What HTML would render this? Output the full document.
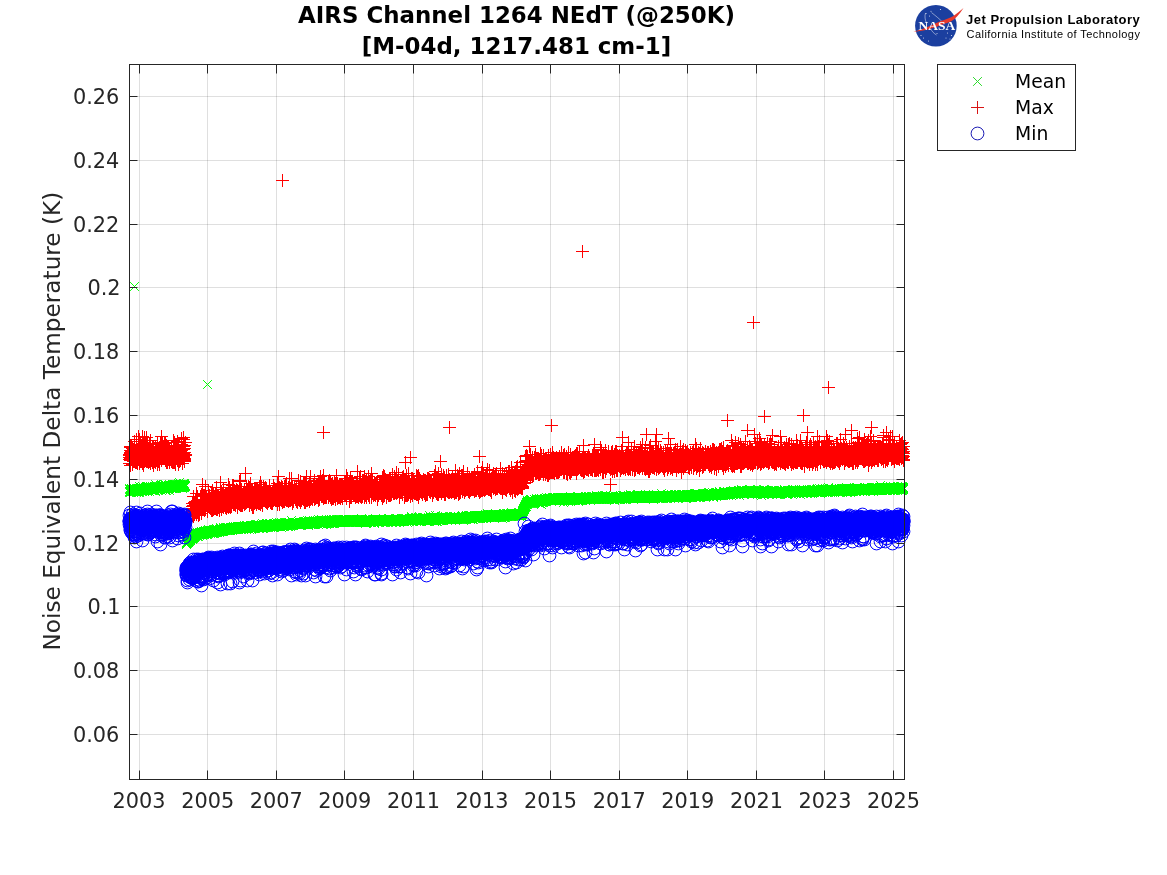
<!DOCTYPE html>
<html lang="en"><head><meta charset="utf-8"><title>AIRS Channel 1264 NEdT</title>
<style>html,body{margin:0;padding:0;background:#fff}svg{display:block}</style></head>
<body>
<svg width="1167" height="875" viewBox="0 0 1167 875">
<defs>
<marker id="mx" markerUnits="userSpaceOnUse" markerWidth="12" markerHeight="12" refX="6" refY="6" viewBox="0 0 12 12" overflow="visible"><path d="M1.6 1.6L10.4 10.4M10.4 1.6L1.6 10.4" stroke="#00ff00" stroke-width="1" fill="none"/></marker>
<marker id="mp" markerUnits="userSpaceOnUse" markerWidth="14" markerHeight="14" refX="7" refY="7" viewBox="0 0 14 14" overflow="visible"><path d="M0.5 7H13.5M7 0.5V13.5" stroke="#ff0000" stroke-width="1" fill="none"/></marker>
<marker id="mo" markerUnits="userSpaceOnUse" markerWidth="16" markerHeight="16" refX="8" refY="8" viewBox="0 0 16 16" overflow="visible"><circle cx="8" cy="8" r="6.4" stroke="#0000ff" stroke-width="1" fill="none"/></marker>
</defs>
<rect width="1167" height="875" fill="#fff"/>
<path d="M139.5 64.5V779.5M207.5 64.5V779.5M276.5 64.5V779.5M344.5 64.5V779.5M413.5 64.5V779.5M482.5 64.5V779.5M550.5 64.5V779.5M619.5 64.5V779.5M687.5 64.5V779.5M756.5 64.5V779.5M824.5 64.5V779.5M893.5 64.5V779.5M129.5 734.5H904.5M129.5 670.5H904.5M129.5 606.5H904.5M129.5 543.5H904.5M129.5 479.5H904.5M129.5 415.5H904.5M129.5 351.5H904.5M129.5 287.5H904.5M129.5 224.5H904.5M129.5 160.5H904.5M129.5 96.5H904.5" stroke="#262626" stroke-opacity="0.15" stroke-width="1" fill="none"/>
<g transform="translate(0.5,0.5)" fill="none" stroke="none">
<polyline marker-start="url(#mx)" marker-mid="url(#mx)" marker-end="url(#mx)" points="129,491 129,492 129,491 129,489 129,488 130,490 130,491 130,490 130,492 130,491 130,491 130,489 130,489 130,491 130,490 131,491 131,488 131,489 131,488 131,489 131,491 131,488 131,489 131,490 131,489 131,489 132,489 132,490 132,489 132,490 132,490 132,490 132,490 132,491 132,489 132,491 133,489 133,489 133,491 133,489 133,489 133,488 133,487 133,490 133,488 133,490 133,492 134,489 134,488 134,490 134,490 134,489 134,490 134,491 134,491 134,490 134,489 134,489 135,490 135,489 135,489 135,489 135,489 135,489 135,489 135,491 135,489 135,490 136,490 136,490 136,488 136,489 136,492 136,489 136,490 136,490 136,490 136,489 136,489 137,489 137,489 137,490 137,489 137,490 137,489 137,491 137,489 137,489 137,490 138,489 138,490 138,488 138,489 138,490 138,488 138,488 138,490 138,492 138,490 138,489 139,488 139,490 139,486 139,489 139,489 139,489 139,492 139,486 139,489 139,489 140,490 140,487 140,489 140,487 140,489 140,489 140,489 140,489 140,489 140,489 140,489 141,489 141,487 141,488 141,489 141,488 141,488 141,489 141,489 141,490 141,489 141,488 142,489 142,486 142,488 142,489 142,486 142,488 142,489 142,490 142,489 142,491 143,490 143,487 143,489 143,489 143,489 143,488 143,489 143,490 143,487 143,490 143,488 144,490 144,489 144,489 144,491 144,490 144,489 144,489 144,491 144,490 144,490 145,489 145,489 145,489 145,487 145,490 145,489 145,487 145,488 145,488 145,489 145,490 146,489 146,486 146,489 146,488 146,487 146,486 146,487 146,489 146,488 146,489 147,488 147,489 147,489 147,489 147,487 147,491 147,486 147,488 147,487 147,490 147,487 148,487 148,487 148,487 148,488 148,488 148,487 148,486 148,488 148,488 148,489 148,487 149,488 149,489 149,487 149,488 149,488 149,487 149,488 149,489 149,491 149,487 150,489 150,489 150,489 150,488 150,488 150,487 150,489 150,489 150,488 150,488 150,489 151,489 151,487 151,490 151,489 151,488 151,488 151,489 151,489 151,487 151,487 152,486 152,488 152,488 152,488 152,487 152,489 152,490 152,490 152,488 152,488 152,488 153,488 153,487 153,487 153,489 153,488 153,487 153,488 153,490 153,489 153,489 153,488 154,486 154,488 154,487 154,488 154,489 154,487 154,489 154,488 154,488 154,487 155,488 155,488 155,487 155,487 155,487 155,490 155,487 155,488 155,488 155,484 155,491 156,488 156,487 156,489 156,489 156,487 156,487 156,487 156,488 156,488 156,488 157,487 157,487 157,488 157,487 157,488 157,488 157,488 157,488 157,487 157,486 157,489 158,489 158,487 158,488 158,488 158,487 158,487 158,486 158,487 158,487 158,488 159,487 159,488 159,487 159,487 159,487 159,487 159,486 159,487 159,487 159,487 159,488 160,488 160,487 160,487 160,488 160,485 160,488 160,489 160,488 160,485 160,487 160,485 161,488 161,485 161,486 161,488 161,486 161,484 161,486 161,488 161,486 161,486 162,487 162,487 162,488 162,488 162,487 162,486 162,488 162,486 162,486 162,488 162,486 163,485 163,488 163,488 163,486 163,487 163,486 163,487 163,486 163,485 163,487 164,487 164,487 164,488 164,488 164,487 164,484 164,486 164,487 164,488 164,486 164,486 165,489 165,484 165,486 165,486 165,486 165,486 165,487 165,488 165,490 165,489 166,487 166,487 166,488 166,490 166,487 166,487 166,487 166,488 166,485 166,487 166,485 167,487 167,488 167,486 167,486 167,488 167,487 167,487 167,486 167,486 167,486 167,489 168,486 168,487 168,488 168,487 168,487 168,489 168,488 168,486 168,487 168,486 169,486 169,488 169,487 169,486 169,486 169,487 169,486 169,488 169,487 169,486 169,490 170,487 170,486 170,485 170,485 170,485 170,486 170,486 170,487 170,485 170,486 171,486 171,488 171,486 171,487 171,488 171,487 171,486 171,486 171,486 171,486 171,486 172,486 172,488 172,485 172,484 172,487 172,488 172,486 172,487 172,488 172,486 173,486 173,485 173,485 173,486 173,487 173,488 173,487 173,485 173,485 173,486 173,486 174,487 174,484 174,485 174,488 174,487 174,486 174,484 174,487 174,487 174,484 174,485 175,487 175,485 175,487 175,485 175,487 175,487 175,488 175,484 175,484 175,486 176,488 176,486 176,484 176,487 176,486 176,487 176,485 176,487 176,487 176,485 176,486 177,486 177,486 177,485 177,487 177,485 177,486 177,486 177,486 177,486 177,484 178,483 178,486 178,486 178,487 178,485 178,486 178,484 178,486 178,487 178,485 178,486 179,487 179,487 179,487 179,487 179,482 179,484 179,486 179,484 179,487 179,485 180,484 180,487 180,485 180,484 180,486 180,485 180,484 180,484 180,484 180,487 180,487 181,485 181,485 181,486 181,485 181,486 181,486 181,485 181,485 181,486 181,485 181,484 182,486 182,487 182,485 182,486 182,485 182,486 182,485 182,488 182,486 182,485 183,486 183,485 183,487 183,484 183,484 183,486 183,485 183,485 183,483 183,485 183,485 184,486 184,484 184,486 184,485 184,484 184,487 184,487 184,485 184,485 184,483 185,486 185,485 185,486 185,485 186,544 186,544 186,544 186,543 186,542 186,542 186,543 186,542 186,543 187,541 187,543 187,542 187,542 187,541 187,541 187,541 187,542 187,541 187,542 188,542 188,541 188,542 188,541 188,540 188,542 188,541 188,539 188,540 188,542 188,541 189,541 189,538 189,539 189,539 189,539 189,539 189,540 189,538 189,539 189,538 190,537 190,539 190,539 190,538 190,540 190,538 190,539 190,536 190,538 190,540 190,537 191,538 191,538 191,537 191,538 191,537 191,537 191,537 191,537 191,537 191,535 192,537 192,538 192,538 192,538 192,537 192,538 192,538 192,536 192,537 192,539 192,536 193,535 193,538 193,537 193,535 193,535 193,537 193,535 193,535 193,535 193,536 194,536 194,534 194,537 194,535 194,535 194,537 194,535 194,535 194,535 194,536 195,535 195,533 195,534 195,534 195,535 195,533 195,535 195,534 195,534 195,534 195,536 196,534 196,534 196,535 196,534 196,535 196,535 196,533 196,535 196,533 196,534 197,534 197,533 197,535 197,535 197,536 197,533 197,533 197,535 197,532 197,533 197,535 198,533 198,536 198,533 198,533 198,534 198,534 198,533 198,533 198,534 198,533 199,533 199,533 199,533 199,532 199,534 199,533 199,535 199,533 199,532 199,532 199,534 200,534 200,533 200,532 200,533 200,533 200,534 200,533 200,534 200,533 200,534 201,532 201,534 201,533 201,531 201,534 201,532 201,534 201,532 201,533 201,533 201,531 202,532 202,533 202,532 202,532 202,533 202,535 202,532 202,533 202,532 202,534 203,532 203,533 203,534 203,531 203,533 203,532 203,531 203,532 203,532 203,532 203,533 204,532 204,532 204,533 204,534 204,533 204,531 204,534 204,532 204,532 204,531 205,532 205,532 205,531 205,532 205,532 205,531 205,533 205,533 205,531 205,530 206,531 206,533 206,531 206,532 206,533 206,532 206,533 206,532 206,534 206,531 206,531 207,532 207,534 207,533 207,531 207,530 207,532 207,532 207,532 207,531 207,531 208,531 208,532 208,533 208,532 208,531 208,531 208,532 208,532 208,532 208,529 208,530 209,532 209,532 209,532 209,531 209,531 209,532 209,530 209,531 209,532 209,531 210,531 210,531 210,531 210,531 210,530 210,531 210,530 210,531 210,530 210,532 210,533 211,530 211,532 211,531 211,530 211,531 211,531 211,532 211,530 211,530 211,532 212,532 212,530 212,531 212,532 212,533 212,531 212,531 212,530 212,532 212,531 212,530 213,531 213,533 213,532 213,532 213,530 213,530 213,529 213,531 213,530 213,530 214,532 214,529 214,531 214,530 214,531 214,533 214,531 214,530 214,530 214,530 214,530 215,529 215,530 215,532 215,532 215,531 215,530 215,531 215,531 215,531 215,532 216,532 216,530 216,530 216,528 216,530 216,530 216,530 216,530 216,531 216,531 217,529 217,529 217,529 217,531 217,532 217,530 217,531 217,530 217,529 217,530 217,532 218,530 218,530 218,531 218,530 218,531 218,530 218,530 218,531 218,530 218,530 219,531 219,530 219,529 219,530 219,532 219,530 219,529 219,530 219,531 219,530 219,530 220,529 220,529 220,530 220,531 220,530 220,530 220,528 220,529 220,529 220,527 221,529 221,530 221,529 221,529 221,531 221,530 221,531 221,531 221,530 221,530 221,530 222,531 222,530 222,530 222,530 222,530 222,529 222,531 222,530 222,529 222,531 223,528 223,527 223,530 223,529 223,529 223,530 223,530 223,531 223,530 223,529 223,530 224,529 224,529 224,530 224,530 224,528 224,530 224,529 224,530 224,528 224,528 225,529 225,530 225,529 225,529 225,530 225,528 225,527 225,529 225,528 225,529 225,530 226,528 226,528 226,528 226,529 226,528 226,527 226,529 226,530 226,528 226,529 227,528 227,527 227,530 227,529 227,529 227,528 227,527 227,530 227,528 227,530 228,528 228,528 228,529 228,528 228,529 228,529 228,529 228,528 228,530 228,529 228,528 229,529 229,528 229,528 229,529 229,529 229,530 229,528 229,529 229,528 229,530 230,528 230,530 230,527 230,530 230,528 230,528 230,527 230,529 230,529 230,527 230,529 231,528 231,529 231,529 231,527 231,527 231,528 231,529 231,527 231,528 231,529 232,528 232,527 232,528 232,529 232,528 232,529 232,527 232,530 232,528 232,527 232,529 233,528 233,527 233,528 233,526 233,529 233,528 233,528 233,527 233,529 233,528 234,528 234,529 234,527 234,527 234,529 234,529 234,528 234,528 234,528 234,527 234,528 235,529 235,528 235,529 235,527 235,528 235,527 235,528 235,527 235,526 235,527 236,529 236,527 236,527 236,527 236,527 236,528 236,528 236,527 236,527 236,529 236,527 237,527 237,526 237,528 237,528 237,528 237,526 237,526 237,527 237,529 237,527 238,528 238,529 238,529 238,528 238,526 238,528 238,528 238,528 238,527 238,526 239,528 239,528 239,527 239,527 239,528 239,526 239,527 239,527 239,526 239,528 239,527 240,528 240,526 240,527 240,526 240,527 240,526 240,527 240,529 240,526 240,527 241,527 241,528 241,528 241,528 241,526 241,527 241,526 241,526 241,528 241,527 241,526 242,527 242,528 242,526 242,527 242,526 242,526 242,527 242,528 242,526 242,528 243,526 243,529 243,527 243,529 243,526 243,528 243,528 243,526 243,526 243,527 243,526 244,528 244,526 244,527 244,527 244,528 244,528 244,528 244,527 244,527 244,525 245,527 245,526 245,527 245,527 245,526 245,527 245,527 245,526 245,527 245,527 245,527 246,527 246,528 246,528 246,528 246,527 246,529 246,528 246,525 246,527 246,525 247,528 247,528 247,527 247,527 247,527 247,527 247,527 247,525 247,526 247,528 248,527 248,527 248,528 248,526 248,526 248,526 248,528 248,526 248,528 248,527 248,526 249,527 249,526 249,526 249,527 249,527 249,526 249,526 249,529 249,527 249,527 250,526 250,526 250,528 250,525 250,525 250,527 250,526 250,526 250,525 250,527 250,527 251,526 251,526 251,528 251,525 251,527 251,529 251,526 251,527 251,525 251,526 252,528 252,527 252,527 252,527 252,525 252,525 252,526 252,527 252,525 252,527 252,526 253,528 253,526 253,526 253,526 253,526 253,526 253,525 253,527 253,528 253,527 254,528 254,525 254,527 254,527 254,527 254,527 254,526 254,525 254,527 254,526 254,527 255,526 255,526 255,527 255,526 255,526 255,526 255,525 255,524 255,527 255,527 256,527 256,527 256,526 256,524 256,526 256,527 256,526 256,526 256,527 256,526 256,526 257,525 257,526 257,526 257,527 257,527 257,526 257,526 257,527 257,526 257,524 258,528 258,525 258,526 258,526 258,526 258,526 258,526 258,524 258,526 258,525 259,526 259,527 259,526 259,527 259,526 259,528 259,525 259,525 259,526 259,526 259,525 260,527 260,526 260,526 260,525 260,527 260,525 260,525 260,527 260,526 260,526 261,527 261,527 261,525 261,526 261,524 261,525 261,525 261,525 261,525 261,526 261,526 262,523 262,527 262,525 262,526 262,526 262,528 262,528 262,525 262,527 262,526 263,526 263,525 263,525 263,526 263,526 263,528 263,525 263,526 263,526 263,527 263,526 264,526 264,525 264,526 264,525 264,526 264,527 264,526 264,525 264,525 264,526 265,526 265,526 265,525 265,527 265,526 265,525 265,524 265,525 265,524 265,527 265,526 266,526 266,524 266,523 266,525 266,525 266,525 266,525 266,525 266,523 266,526 267,526 267,525 267,523 267,525 267,525 267,526 267,527 267,524 267,524 267,526 267,524 268,526 268,525 268,525 268,524 268,525 268,525 268,526 268,527 268,525 268,526 269,526 269,525 269,525 269,526 269,523 269,526 269,524 269,525 269,525 269,525 270,525 270,525 270,526 270,523 270,527 270,526 270,524 270,526 270,525 270,524 270,525 271,526 271,526 271,524 271,524 271,525 271,526 271,526 271,525 271,526 271,525 272,526 272,524 272,527 272,526 272,526 272,524 272,526 272,526 272,526 272,524 272,524 273,527 273,524 273,524 273,525 273,526 273,525 273,525 273,526 273,523 273,524 274,525 274,525 274,524 274,525 274,527 274,525 274,526 274,525 274,525 274,525 274,526 275,525 275,525 275,523 275,526 275,524 275,526 275,525 275,525 275,525 275,524 276,524 276,524 276,526 276,525 276,525 276,526 276,526 276,522 276,524 276,526 276,525 277,525 277,525 277,526 277,526 277,524 277,524 277,525 277,525 277,525 277,523 278,526 278,525 278,524 278,524 278,524 278,526 278,524 278,525 278,524 278,524 278,524 279,525 279,524 279,523 279,525 279,524 279,525 279,526 279,525 279,525 279,522 280,524 280,525 280,525 280,525 280,524 280,526 280,524 280,524 280,524 280,525 281,525 281,524 281,524 281,524 281,527 281,522 281,524 281,525 281,525 281,524 281,525 282,524 282,524 282,524 282,526 282,525 282,524 282,524 282,525 282,525 282,523 283,525 283,524 283,525 283,525 283,523 283,525 283,525 283,526 283,525 283,524 283,524 284,525 284,526 284,525 284,524 284,525 284,525 284,524 284,524 284,524 284,523 285,525 285,524 285,525 285,523 285,524 285,524 285,524 285,524 285,525 285,523 285,522 286,523 286,524 286,525 286,522 286,524 286,525 286,525 286,524 286,525 286,524 287,524 287,524 287,524 287,526 287,525 287,525 287,524 287,523 287,524 287,524 287,523 288,525 288,522 288,526 288,524 288,526 288,526 288,526 288,524 288,524 288,523 289,524 289,524 289,522 289,523 289,525 289,523 289,525 289,524 289,524 289,523 289,524 290,524 290,526 290,524 290,523 290,524 290,524 290,523 290,525 290,524 290,524 291,525 291,523 291,525 291,523 291,524 291,524 291,524 291,520 291,523 291,523 292,524 292,523 292,524 292,522 292,523 292,524 292,523 292,524 292,525 292,524 292,524 293,523 293,522 293,523 293,524 293,525 293,522 293,523 293,523 293,522 293,523 294,524 294,524 294,523 294,522 294,524 294,523 294,524 294,523 294,523 294,523 294,523 295,522 295,522 295,524 295,524 295,523 295,522 295,523 295,524 295,523 295,524 296,523 296,523 296,522 296,524 296,524 296,523 296,524 296,523 296,524 296,524 296,524 297,523 297,522 297,523 297,523 297,522 297,524 297,523 297,523 297,523 297,524 298,524 298,523 298,524 298,524 298,524 298,524 298,521 298,523 298,523 298,523 298,523 299,523 299,525 299,523 299,523 299,524 299,522 299,522 299,522 299,523 299,522 300,523 300,522 300,523 300,524 300,523 300,523 300,523 300,523 300,524 300,524 300,522 301,523 301,525 301,524 301,522 301,524 301,522 301,522 301,523 301,522 301,523 302,523 302,523 302,523 302,523 302,523 302,524 302,523 302,522 302,522 302,522 303,523 303,523 303,521 303,523 303,523 303,523 303,522 303,522 303,523 303,524 303,523 304,523 304,523 304,523 304,522 304,522 304,522 304,523 304,523 304,521 304,524 305,523 305,523 305,522 305,523 305,522 305,524 305,521 305,523 305,522 305,523 305,521 306,522 306,522 306,524 306,523 306,523 306,522 306,524 306,522 306,523 306,523 307,522 307,522 307,523 307,520 307,523 307,522 307,522 307,524 307,523 307,523 307,523 308,524 308,521 308,525 308,523 308,521 308,523 308,524 308,522 308,522 308,522 309,520 309,522 309,522 309,522 309,523 309,522 309,523 309,523 309,522 309,522 309,521 310,523 310,521 310,521 310,523 310,522 310,524 310,521 310,522 310,522 310,521 311,522 311,522 311,522 311,522 311,524 311,522 311,522 311,522 311,523 311,521 312,521 312,523 312,522 312,524 312,524 312,522 312,522 312,522 312,522 312,523 312,522 313,523 313,522 313,520 313,521 313,524 313,522 313,521 313,524 313,523 313,521 314,522 314,522 314,522 314,521 314,523 314,522 314,522 314,524 314,522 314,521 314,522 315,523 315,523 315,522 315,521 315,521 315,522 315,521 315,523 315,521 315,523 316,523 316,522 316,521 316,523 316,522 316,522 316,522 316,522 316,521 316,522 316,523 317,521 317,523 317,521 317,523 317,523 317,522 317,521 317,521 317,523 317,522 318,521 318,522 318,521 318,522 318,522 318,524 318,519 318,522 318,522 318,522 318,522 319,522 319,522 319,522 319,521 319,521 319,521 319,522 319,522 319,522 319,521 320,523 320,521 320,521 320,521 320,522 320,520 320,521 320,523 320,521 320,521 320,521 321,520 321,522 321,521 321,522 321,519 321,522 321,521 321,523 321,520 321,522 322,521 322,521 322,521 322,522 322,520 322,521 322,524 322,521 322,523 322,520 323,522 323,524 323,522 323,521 323,520 323,522 323,521 323,521 323,520 323,523 323,520 324,521 324,522 324,523 324,521 324,520 324,522 324,521 324,520 324,521 324,522 325,522 325,522 325,523 325,522 325,521 325,522 325,521 325,521 325,520 325,521 325,522 326,521 326,522 326,521 326,522 326,521 326,522 326,521 326,524 326,522 326,520 327,521 327,520 327,521 327,521 327,523 327,523 327,522 327,521 327,522 327,521 327,523 328,522 328,522 328,521 328,521 328,520 328,521 328,523 328,520 328,520 328,521 329,523 329,522 329,522 329,521 329,520 329,523 329,521 329,522 329,522 329,521 329,523 330,522 330,520 330,522 330,520 330,520 330,521 330,522 330,522 330,521 330,521 331,521 331,521 331,519 331,522 331,519 331,521 331,522 331,522 331,521 331,523 331,522 332,520 332,521 332,521 332,521 332,521 332,521 332,523 332,521 332,523 332,521 333,521 333,523 333,519 333,521 333,521 333,521 333,522 333,520 333,521 333,520 334,520 334,521 334,523 334,522 334,521 334,521 334,521 334,519 334,521 334,520 334,521 335,521 335,520 335,521 335,520 335,520 335,521 335,521 335,521 335,521 335,522 336,522 336,521 336,520 336,520 336,519 336,522 336,521 336,522 336,521 336,520 336,521 337,521 337,521 337,521 337,522 337,520 337,521 337,521 337,521 337,521 337,519 338,521 338,521 338,521 338,522 338,521 338,521 338,521 338,519 338,520 338,520 338,521 339,521 339,521 339,521 339,522 339,521 339,522 339,520 339,521 339,520 339,522 340,521 340,522 340,520 340,521 340,520 340,520 340,521 340,520 340,522 340,520 340,519 341,521 341,521 341,520 341,522 341,521 341,522 341,521 341,520 341,521 341,521 342,521 342,521 342,521 342,520 342,520 342,522 342,522 342,521 342,521 342,521 342,521 343,519 343,520 343,522 343,521 343,522 343,520 343,519 343,521 343,522 343,521 344,519 344,520 344,521 344,519 344,520 344,520 344,522 344,519 344,521 344,519 345,520 345,522 345,519 345,522 345,521 345,521 345,522 345,521 345,521 345,520 345,520 346,521 346,519 346,521 346,522 346,520 346,520 346,521 346,521 346,519 346,520 347,521 347,521 347,521 347,521 347,521 347,520 347,522 347,520 347,521 347,520 347,521 348,520 348,521 348,522 348,520 348,520 348,520 348,519 348,520 348,520 348,521 349,521 349,519 349,522 349,520 349,521 349,519 349,519 349,521 349,521 349,521 349,522 350,521 350,520 350,519 350,521 350,519 350,521 350,521 350,520 350,521 350,521 351,520 351,522 351,521 351,521 351,520 351,521 351,521 351,520 351,520 351,521 351,520 352,519 352,522 352,520 352,521 352,521 352,521 352,520 352,520 352,522 352,519 353,521 353,521 353,521 353,520 353,521 353,521 353,520 353,521 353,520 353,519 353,521 354,520 354,521 354,521 354,520 354,521 354,521 354,520 354,521 354,521 354,520 355,520 355,520 355,522 355,520 355,520 355,520 355,520 355,522 355,519 355,520 356,522 356,521 356,520 356,519 356,520 356,522 356,522 356,520 356,521 356,521 356,521 357,520 357,521 357,520 357,521 357,520 357,521 357,522 357,519 357,521 357,521 358,520 358,522 358,519 358,519 358,521 358,520 358,520 358,521 358,520 358,519 358,520 359,520 359,519 359,520 359,521 359,520 359,522 359,521 359,521 359,519 359,521 360,520 360,520 360,522 360,522 360,521 360,521 360,521 360,520 360,522 360,520 360,520 361,520 361,520 361,522 361,521 361,521 361,522 361,519 361,521 361,520 361,518 362,521 362,522 362,521 362,519 362,522 362,520 362,521 362,521 362,520 362,521 362,520 363,521 363,522 363,520 363,520 363,520 363,520 363,520 363,522 363,520 363,521 364,521 364,521 364,520 364,521 364,520 364,522 364,521 364,521 364,520 364,521 364,521 365,520 365,519 365,523 365,520 365,520 365,519 365,519 365,520 365,521 365,522 366,522 366,521 366,522 366,519 366,520 366,522 366,521 366,520 366,520 366,521 367,521 367,522 367,520 367,521 367,520 367,521 367,521 367,520 367,521 367,519 367,521 368,520 368,519 368,520 368,519 368,520 368,521 368,520 368,521 368,521 368,520 369,519 369,522 369,521 369,520 369,520 369,521 369,522 369,521 369,521 369,520 369,520 370,520 370,521 370,520 370,521 370,521 370,522 370,520 370,519 370,522 370,519 371,520 371,520 371,521 371,521 371,521 371,520 371,520 371,521 371,520 371,521 371,521 372,521 372,520 372,520 372,521 372,519 372,520 372,520 372,520 372,520 372,521 373,520 373,521 373,520 373,521 373,522 373,522 373,520 373,520 373,521 373,519 373,520 374,520 374,519 374,520 374,519 374,523 374,520 374,520 374,519 374,521 374,522 375,520 375,521 375,521 375,518 375,520 375,520 375,520 375,519 375,520 375,519 376,521 376,521 376,521 376,520 376,520 376,521 376,520 376,521 376,521 376,520 376,520 377,521 377,520 377,520 377,521 377,520 377,520 377,521 377,519 377,520 377,520 378,520 378,521 378,521 378,520 378,520 378,520 378,520 378,520 378,520 378,522 378,520 379,520 379,519 379,520 379,522 379,522 379,520 379,519 379,521 379,520 379,521 380,520 380,520 380,520 380,521 380,520 380,519 380,519 380,520 380,520 380,520 380,520 381,520 381,520 381,521 381,520 381,521 381,520 381,520 381,519 381,521 381,520 382,522 382,520 382,521 382,519 382,520 382,520 382,520 382,520 382,520 382,520 382,521 383,519 383,520 383,520 383,520 383,521 383,520 383,521 383,520 383,520 383,520 384,520 384,520 384,520 384,521 384,519 384,519 384,519 384,520 384,520 384,520 384,520 385,520 385,521 385,520 385,520 385,520 385,522 385,519 385,520 385,520 385,519 386,520 386,519 386,519 386,520 386,521 386,520 386,521 386,521 386,519 386,521 387,520 387,521 387,520 387,520 387,519 387,520 387,521 387,520 387,520 387,520 387,519 388,520 388,518 388,520 388,519 388,520 388,521 388,520 388,520 388,520 388,519 389,521 389,518 389,519 389,520 389,518 389,521 389,520 389,520 389,520 389,520 389,520 390,519 390,520 390,520 390,520 390,519 390,519 390,519 390,520 390,520 390,521 391,521 391,522 391,519 391,520 391,521 391,520 391,521 391,519 391,520 391,520 391,521 392,519 392,521 392,520 392,519 392,519 392,520 392,522 392,521 392,519 392,520 393,521 393,520 393,520 393,519 393,521 393,520 393,521 393,520 393,521 393,520 393,520 394,520 394,521 394,520 394,520 394,520 394,520 394,521 394,520 394,520 394,519 395,519 395,520 395,518 395,520 395,522 395,520 395,520 395,520 395,521 395,521 395,519 396,522 396,519 396,520 396,520 396,521 396,519 396,520 396,519 396,519 396,519 397,521 397,520 397,519 397,519 397,521 397,519 397,520 397,520 397,520 397,520 398,521 398,520 398,521 398,520 398,521 398,519 398,519 398,520 398,520 398,519 398,519 399,521 399,521 399,519 399,519 399,521 399,520 399,519 399,519 399,520 399,520 400,521 400,519 400,520 400,521 400,520 400,520 400,520 400,519 400,520 400,519 400,520 401,518 401,520 401,519 401,519 401,519 401,519 401,521 401,520 401,518 401,520 402,521 402,520 402,519 402,520 402,520 402,520 402,519 402,520 402,518 402,519 402,520 403,520 403,520 403,519 403,519 403,519 403,519 403,518 403,521 403,520 403,520 404,520 404,520 404,519 404,518 404,519 404,519 404,519 404,521 404,519 404,519 404,520 405,519 405,519 405,519 405,520 405,519 405,519 405,519 405,518 405,519 405,519 406,520 406,520 406,521 406,520 406,520 406,519 406,519 406,521 406,519 406,518 406,519 407,520 407,519 407,519 407,519 407,519 407,519 407,522 407,519 407,520 407,520 408,520 408,519 408,519 408,520 408,519 408,519 408,520 408,520 408,520 408,519 409,520 409,520 409,520 409,519 409,521 409,518 409,519 409,520 409,520 409,519 409,520 410,519 410,519 410,520 410,519 410,519 410,519 410,520 410,519 410,519 410,519 411,519 411,518 411,520 411,519 411,519 411,521 411,519 411,516 411,519 411,518 411,517 412,520 412,519 412,520 412,520 412,519 412,521 412,520 412,518 412,517 412,519 413,519 413,519 413,519 413,518 413,518 413,520 413,519 413,519 413,520 413,519 413,518 414,519 414,520 414,519 414,520 414,520 414,520 414,518 414,519 414,519 414,519 415,519 415,519 415,519 415,519 415,518 415,518 415,518 415,517 415,519 415,519 415,519 416,519 416,520 416,519 416,519 416,519 416,521 416,517 416,518 416,519 416,519 417,520 417,518 417,519 417,520 417,520 417,519 417,519 417,519 417,520 417,519 417,518 418,520 418,519 418,518 418,518 418,519 418,519 418,519 418,519 418,520 418,519 419,520 419,519 419,518 419,519 419,519 419,520 419,519 419,520 419,519 419,520 420,520 420,520 420,519 420,519 420,521 420,519 420,518 420,519 420,519 420,519 420,519 421,519 421,519 421,521 421,519 421,519 421,520 421,521 421,520 421,518 421,519 422,519 422,518 422,519 422,519 422,517 422,520 422,519 422,519 422,518 422,517 422,519 423,520 423,519 423,518 423,519 423,519 423,519 423,520 423,518 423,517 423,520 424,520 424,520 424,517 424,519 424,519 424,518 424,518 424,517 424,520 424,520 424,520 425,519 425,519 425,519 425,519 425,518 425,518 425,517 425,518 425,519 425,519 426,520 426,519 426,519 426,519 426,520 426,518 426,518 426,520 426,520 426,521 426,519 427,519 427,521 427,519 427,519 427,520 427,520 427,519 427,519 427,521 427,520 428,517 428,518 428,519 428,519 428,518 428,519 428,518 428,520 428,519 428,518 429,518 429,515 429,519 429,520 429,519 429,519 429,519 429,518 429,519 429,518 429,520 430,519 430,519 430,518 430,519 430,517 430,520 430,517 430,519 430,519 430,520 431,518 431,519 431,517 431,518 431,520 431,519 431,517 431,519 431,517 431,520 431,518 432,519 432,518 432,517 432,519 432,518 432,518 432,520 432,519 432,519 432,518 433,519 433,518 433,520 433,520 433,519 433,517 433,518 433,516 433,518 433,518 433,519 434,519 434,519 434,520 434,518 434,519 434,519 434,519 434,521 434,520 434,521 435,518 435,519 435,520 435,519 435,519 435,518 435,519 435,520 435,519 435,519 435,515 436,520 436,521 436,520 436,518 436,520 436,518 436,519 436,518 436,519 436,519 437,519 437,519 437,521 437,517 437,517 437,518 437,518 437,518 437,517 437,518 437,518 438,519 438,518 438,519 438,519 438,519 438,518 438,519 438,520 438,519 438,519 439,519 439,519 439,519 439,519 439,518 439,517 439,518 439,520 439,517 439,517 440,519 440,518 440,517 440,520 440,518 440,519 440,517 440,517 440,520 440,519 440,518 441,516 441,520 441,520 441,519 441,517 441,519 441,518 441,517 441,518 441,517 442,520 442,519 442,519 442,517 442,518 442,518 442,519 442,518 442,518 442,519 442,518 443,519 443,518 443,518 443,519 443,518 443,520 443,517 443,516 443,519 443,518 444,517 444,519 444,519 444,519 444,518 444,519 444,517 444,519 444,518 444,519 444,518 445,518 445,519 445,517 445,519 445,519 445,518 445,517 445,519 445,518 445,516 446,517 446,517 446,519 446,517 446,519 446,519 446,518 446,518 446,519 446,518 446,519 447,518 447,518 447,517 447,520 447,518 447,517 447,519 447,518 447,518 447,518 448,518 448,517 448,518 448,519 448,517 448,518 448,518 448,519 448,518 448,519 448,518 449,518 449,518 449,517 449,518 449,518 449,518 449,518 449,519 449,517 449,518 450,516 450,517 450,518 450,517 450,518 450,519 450,519 450,519 450,517 450,517 451,518 451,519 451,517 451,520 451,517 451,518 451,519 451,518 451,519 451,519 451,519 452,518 452,518 452,518 452,518 452,518 452,517 452,518 452,519 452,517 452,519 453,518 453,519 453,516 453,518 453,518 453,519 453,516 453,517 453,518 453,519 453,517 454,517 454,518 454,517 454,516 454,518 454,518 454,518 454,518 454,519 454,518 455,517 455,516 455,516 455,518 455,518 455,516 455,518 455,518 455,517 455,519 455,517 456,518 456,518 456,518 456,518 456,517 456,517 456,519 456,517 456,517 456,517 457,517 457,517 457,518 457,519 457,518 457,517 457,519 457,519 457,517 457,518 457,518 458,517 458,518 458,517 458,517 458,518 458,516 458,518 458,516 458,518 458,516 459,518 459,518 459,517 459,517 459,518 459,517 459,519 459,517 459,517 459,517 459,517 460,518 460,519 460,517 460,517 460,518 460,517 460,518 460,518 460,517 460,517 461,518 461,518 461,519 461,518 461,517 461,516 461,518 461,518 461,517 461,517 462,518 462,519 462,518 462,518 462,516 462,517 462,518 462,517 462,515 462,517 462,517 463,517 463,520 463,516 463,517 463,517 463,518 463,519 463,518 463,516 463,517 464,518 464,518 464,517 464,519 464,517 464,517 464,517 464,517 464,517 464,518 464,517 465,518 465,517 465,517 465,517 465,516 465,518 465,517 465,517 465,518 465,517 466,519 466,518 466,518 466,517 466,517 466,515 466,517 466,515 466,518 466,517 466,517 467,517 467,517 467,516 467,518 467,518 467,518 467,516 467,518 467,518 467,517 468,518 468,515 468,517 468,516 468,516 468,517 468,518 468,518 468,517 468,516 468,517 469,517 469,516 469,517 469,516 469,517 469,515 469,517 469,515 469,518 469,518 470,515 470,518 470,518 470,517 470,517 470,518 470,517 470,515 470,518 470,516 470,519 471,517 471,518 471,517 471,517 471,517 471,516 471,516 471,518 471,518 471,515 472,517 472,517 472,518 472,516 472,517 472,517 472,517 472,517 472,516 472,519 473,517 473,517 473,517 473,516 473,517 473,517 473,517 473,519 473,517 473,517 473,517 474,515 474,517 474,515 474,516 474,516 474,516 474,517 474,517 474,516 474,516 475,517 475,515 475,518 475,516 475,517 475,516 475,516 475,517 475,517 475,516 475,516 476,517 476,517 476,518 476,515 476,517 476,516 476,517 476,517 476,516 476,517 477,517 477,518 477,516 477,516 477,517 477,515 477,516 477,516 477,517 477,516 477,515 478,517 478,516 478,515 478,516 478,516 478,516 478,517 478,516 478,517 478,517 479,516 479,516 479,518 479,516 479,517 479,515 479,516 479,517 479,515 479,516 479,515 480,518 480,516 480,516 480,516 480,515 480,515 480,515 480,516 480,518 480,516 481,517 481,516 481,515 481,516 481,517 481,517 481,516 481,517 481,517 481,517 481,515 482,517 482,515 482,517 482,517 482,516 482,518 482,517 482,515 482,515 482,515 483,515 483,517 483,516 483,517 483,516 483,517 483,518 483,517 483,515 483,517 484,517 484,517 484,516 484,515 484,516 484,516 484,517 484,516 484,516 484,516 484,517 485,516 485,517 485,516 485,516 485,517 485,514 485,516 485,515 485,515 485,516 486,516 486,517 486,518 486,515 486,516 486,517 486,516 486,518 486,515 486,516 486,515 487,517 487,517 487,516 487,516 487,514 487,515 487,516 487,513 487,515 487,516 488,517 488,515 488,517 488,516 488,517 488,517 488,517 488,516 488,516 488,517 488,516 489,516 489,515 489,516 489,516 489,517 489,516 489,517 489,514 489,516 489,517 490,516 490,515 490,515 490,515 490,515 490,514 490,515 490,515 490,514 490,516 490,515 491,517 491,514 491,516 491,517 491,517 491,514 491,516 491,516 491,516 491,516 492,516 492,517 492,515 492,516 492,514 492,515 492,515 492,517 492,517 492,515 493,516 493,515 493,516 493,515 493,516 493,516 493,516 493,514 493,517 493,515 493,514 494,516 494,515 494,517 494,515 494,515 494,516 494,515 494,515 494,517 494,516 495,515 495,515 495,515 495,515 495,515 495,515 495,515 495,516 495,514 495,513 495,516 496,515 496,514 496,514 496,516 496,516 496,515 496,515 496,516 496,514 496,516 497,516 497,516 497,516 497,516 497,516 497,515 497,516 497,516 497,515 497,515 497,515 498,516 498,514 498,515 498,515 498,516 498,517 498,515 498,515 498,516 498,515 499,514 499,515 499,515 499,516 499,516 499,517 499,515 499,514 499,515 499,516 499,514 500,515 500,517 500,514 500,516 500,514 500,515 500,516 500,515 500,516 500,515 501,516 501,515 501,516 501,514 501,517 501,516 501,516 501,515 501,515 501,515 501,516 502,516 502,516 502,514 502,515 502,515 502,515 502,515 502,514 502,518 502,516 503,516 503,513 503,517 503,514 503,516 503,515 503,516 503,515 503,516 503,514 504,515 504,515 504,514 504,513 504,514 504,516 504,515 504,517 504,517 504,514 504,515 505,514 505,515 505,515 505,514 505,514 505,515 505,515 505,514 505,516 505,517 506,515 506,516 506,516 506,515 506,513 506,515 506,516 506,515 506,516 506,515 506,515 507,514 507,515 507,515 507,515 507,516 507,516 507,516 507,516 507,515 507,513 508,514 508,514 508,515 508,513 508,515 508,515 508,515 508,516 508,514 508,515 508,513 509,514 509,515 509,515 509,514 509,515 509,515 509,514 509,515 509,515 509,516 510,515 510,515 510,513 510,515 510,515 510,516 510,515 510,515 510,514 510,515 510,516 511,515 511,514 511,516 511,515 511,516 511,516 511,514 511,515 511,514 511,512 512,514 512,514 512,513 512,513 512,515 512,515 512,516 512,514 512,513 512,515 512,514 513,514 513,515 513,515 513,514 513,514 513,514 513,514 513,513 513,515 513,515 514,515 514,515 514,513 514,515 514,514 514,515 514,514 514,515 514,515 514,515 515,516 515,513 515,514 515,513 515,514 515,515 515,515 515,516 515,515 515,514 515,514 516,513 516,513 516,515 516,515 516,515 516,515 516,514 516,515 516,513 516,515 517,515 517,514 517,515 517,515 517,515 517,514 517,513 517,514 517,514 517,514 517,513 518,512 518,514 518,513 518,515 518,513 518,515 518,513 518,515 518,515 518,515 519,514 519,514 519,514 519,515 519,515 519,514 519,516 519,513 519,513 519,513 519,513 520,514 520,514 520,514 520,513 520,514 520,514 520,514 520,514 520,514 520,515 521,515 521,516 521,515 521,513 521,515 521,515 521,515 521,514 521,514 521,514 521,513 522,514 522,513 522,513 522,512 522,511 522,512 522,511 522,512 522,510 522,511 523,510 523,508 523,510 523,510 523,511 523,510 523,510 523,509 523,508 523,509 523,510 524,509 524,508 524,508 524,509 524,509 524,509 524,507 524,507 524,506 524,508 525,507 525,506 525,505 525,505 525,505 525,506 525,505 525,505 525,506 525,504 526,506 526,506 526,504 526,506 526,502 526,504 526,504 526,504 526,503 526,502 526,504 527,503 527,504 527,503 527,502 527,500 527,502 527,502 527,501 527,502 527,501 528,502 528,501 528,503 528,501 528,502 528,501 528,501 528,502 528,501 528,501 528,501 529,500 529,502 529,502 529,501 529,503 529,502 529,501 529,500 529,500 529,502 530,502 530,502 530,500 530,499 530,501 530,503 530,502 530,502 530,502 530,501 530,499 531,502 531,501 531,499 531,502 531,499 531,501 531,501 531,501 531,501 531,501 532,502 532,503 532,502 532,502 532,500 532,501 532,501 532,501 532,501 532,502 532,502 533,502 533,501 533,501 533,501 533,502 533,501 533,503 533,502 533,501 533,501 534,502 534,502 534,502 534,499 534,499 534,501 534,501 534,499 534,502 534,501 534,501 535,500 535,500 535,501 535,501 535,501 535,500 535,501 535,501 535,500 535,501 536,499 536,501 536,501 536,501 536,499 536,498 536,500 536,500 536,499 536,499 537,501 537,499 537,502 537,501 537,501 537,501 537,500 537,501 537,500 537,502 537,501 538,501 538,500 538,501 538,501 538,499 538,502 538,500 538,500 538,500 538,501 539,502 539,500 539,500 539,501 539,503 539,502 539,501 539,499 539,499 539,500 539,498 540,501 540,499 540,501 540,500 540,501 540,499 540,501 540,499 540,499 540,500 541,502 541,499 541,499 541,504 541,498 541,498 541,500 541,500 541,501 541,500 541,500 542,501 542,500 542,499 542,501 542,500 542,499 542,500 542,501 542,499 542,502 543,502 543,500 543,500 543,499 543,500 543,500 543,501 543,500 543,499 543,500 543,499 544,499 544,501 544,501 544,500 544,499 544,498 544,498 544,499 544,499 544,499 545,498 545,500 545,501 545,498 545,499 545,500 545,501 545,500 545,500 545,499 546,500 546,501 546,497 546,499 546,500 546,500 546,500 546,500 546,499 546,500 546,499 547,500 547,498 547,500 547,498 547,499 547,500 547,499 547,500 547,499 547,499 548,498 548,498 548,499 548,499 548,500 548,499 548,500 548,500 548,500 548,500 548,499 549,498 549,499 549,499 549,497 549,498 549,500 549,499 549,499 549,499 549,498 550,499 550,499 550,499 550,499 550,499 550,498 550,498 550,499 550,500 550,498 550,499 551,499 551,499 551,500 551,499 551,498 551,499 551,500 551,499 551,499 551,500 552,499 552,498 552,498 552,500 552,498 552,498 552,497 552,500 552,499 552,500 552,499 553,497 553,497 553,499 553,500 553,500 553,498 553,500 553,498 553,499 553,498 554,498 554,499 554,499 554,498 554,499 554,500 554,500 554,498 554,497 554,500 554,498 555,498 555,497 555,500 555,499 555,497 555,500 555,499 555,498 555,499 555,497 556,499 556,500 556,499 556,499 556,499 556,499 556,498 556,499 556,499 556,498 557,498 557,499 557,499 557,499 557,498 557,497 557,499 557,497 557,499 557,498 557,498 558,497 558,499 558,499 558,500 558,497 558,498 558,498 558,499 558,498 558,499 559,500 559,498 559,498 559,500 559,498 559,499 559,498 559,499 559,499 559,501 559,497 560,498 560,497 560,497 560,498 560,499 560,499 560,499 560,498 560,498 560,498 561,498 561,498 561,499 561,498 561,499 561,497 561,498 561,498 561,497 561,497 561,500 562,499 562,497 562,498 562,498 562,499 562,498 562,498 562,498 562,500 562,498 563,499 563,500 563,498 563,498 563,497 563,498 563,502 563,498 563,498 563,498 563,500 564,498 564,499 564,498 564,499 564,499 564,499 564,497 564,500 564,501 564,497 565,498 565,500 565,499 565,499 565,500 565,497 565,498 565,499 565,499 565,498 565,499 566,500 566,499 566,500 566,499 566,498 566,497 566,500 566,499 566,498 566,498 567,499 567,498 567,498 567,499 567,498 567,498 567,500 567,498 567,500 567,498 568,498 568,499 568,498 568,499 568,499 568,500 568,501 568,500 568,497 568,497 568,499 569,497 569,497 569,498 569,498 569,499 569,498 569,497 569,499 569,497 569,499 570,497 570,499 570,497 570,498 570,496 570,498 570,498 570,498 570,500 570,498 570,498 571,499 571,500 571,498 571,497 571,499 571,498 571,499 571,499 571,498 571,497 572,500 572,497 572,498 572,499 572,497 572,498 572,499 572,497 572,499 572,498 572,499 573,497 573,497 573,499 573,498 573,499 573,497 573,499 573,499 573,498 573,498 574,499 574,498 574,499 574,497 574,500 574,498 574,499 574,499 574,498 574,498 574,497 575,499 575,499 575,497 575,499 575,500 575,500 575,499 575,499 575,497 575,498 576,499 576,499 576,499 576,498 576,497 576,498 576,498 576,499 576,498 576,498 576,499 577,500 577,499 577,498 577,498 577,499 577,496 577,498 577,497 577,497 577,499 578,498 578,501 578,498 578,500 578,500 578,497 578,498 578,499 578,499 578,497 579,498 579,498 579,500 579,498 579,498 579,497 579,497 579,499 579,497 579,499 579,497 580,497 580,498 580,499 580,500 580,498 580,497 580,498 580,499 580,498 580,497 581,497 581,497 581,497 581,498 581,500 581,497 581,498 581,498 581,498 581,499 581,498 582,500 582,498 582,500 582,497 582,499 582,498 582,499 582,497 582,499 582,498 583,498 583,498 583,499 583,498 583,497 583,498 583,498 583,499 583,498 583,498 583,498 584,498 584,499 584,499 584,497 584,499 584,499 584,498 584,497 584,498 584,498 585,500 585,497 585,498 585,498 585,499 585,498 585,499 585,498 585,498 585,500 585,496 586,498 586,496 586,498 586,499 586,499 586,498 586,497 586,498 586,497 586,498 587,499 587,497 587,498 587,498 587,499 587,498 587,498 587,498 587,498 587,499 587,499 588,497 588,497 588,497 588,496 588,498 588,496 588,498 588,498 588,498 588,497 589,498 589,498 589,498 589,498 589,499 589,498 589,498 589,496 589,499 589,497 590,498 590,498 590,500 590,498 590,498 590,497 590,498 590,497 590,497 590,497 590,497 591,498 591,499 591,496 591,498 591,497 591,498 591,498 591,499 591,498 591,498 592,498 592,499 592,498 592,498 592,496 592,498 592,498 592,498 592,498 592,498 592,496 593,499 593,498 593,498 593,498 593,498 593,498 593,498 593,498 593,497 593,498 594,498 594,497 594,498 594,497 594,497 594,498 594,499 594,497 594,497 594,498 594,497 595,498 595,497 595,497 595,497 595,499 595,498 595,498 595,499 595,497 595,498 596,498 596,495 596,499 596,497 596,497 596,497 596,498 596,498 596,498 596,497 596,497 597,498 597,498 597,498 597,497 597,498 597,497 597,497 597,498 597,497 597,499 598,498 598,496 598,498 598,498 598,499 598,497 598,498 598,498 598,496 598,496 598,497 599,498 599,498 599,498 599,497 599,496 599,498 599,496 599,498 599,499 599,498 600,497 600,498 600,498 600,498 600,498 600,498 600,498 600,498 600,497 600,496 601,498 601,499 601,497 601,497 601,497 601,498 601,497 601,496 601,498 601,497 601,497 602,498 602,497 602,498 602,496 602,499 602,498 602,498 602,498 602,495 602,498 603,498 603,499 603,498 603,498 603,498 603,497 603,498 603,498 603,498 603,496 603,497 604,498 604,498 604,499 604,496 604,498 604,497 604,498 604,498 604,498 604,498 605,496 605,497 605,498 605,497 605,497 605,498 605,496 605,498 605,497 605,497 605,495 606,498 606,498 606,499 606,498 606,497 606,498 606,499 606,495 606,497 606,498 607,499 607,497 607,497 607,497 607,498 607,499 607,497 607,497 607,498 607,497 607,497 608,497 608,499 608,498 608,498 608,498 608,497 608,498 608,497 608,496 608,498 609,497 609,497 609,499 609,497 609,499 609,498 609,498 609,498 609,496 609,497 610,497 610,497 610,497 610,497 610,498 610,498 610,498 610,498 610,498 610,497 610,498 611,498 611,499 611,498 611,498 611,499 611,497 611,498 611,499 611,496 611,497 612,499 612,499 612,497 612,498 612,497 612,496 612,497 612,497 612,498 612,497 612,499 613,497 613,497 613,498 613,497 613,497 613,499 613,497 613,498 613,497 613,497 614,497 614,498 614,497 614,498 614,498 614,495 614,499 614,498 614,500 614,497 614,497 615,496 615,497 615,498 615,497 615,497 615,498 615,497 615,497 615,497 615,497 616,497 616,497 616,497 616,498 616,498 616,496 616,497 616,497 616,499 616,497 616,498 617,498 617,498 617,497 617,497 617,497 617,497 617,498 617,499 617,497 617,497 618,496 618,497 618,498 618,496 618,497 618,498 618,496 618,498 618,498 618,498 618,498 619,498 619,499 619,498 619,497 619,498 619,496 619,499 619,497 619,497 619,499 620,497 620,499 620,496 620,499 620,498 620,498 620,497 620,499 620,499 620,495 621,498 621,498 621,498 621,497 621,498 621,498 621,496 621,497 621,497 621,497 621,497 622,497 622,499 622,497 622,495 622,497 622,497 622,498 622,497 622,498 622,498 623,497 623,497 623,498 623,496 623,497 623,496 623,495 623,498 623,496 623,496 623,498 624,497 624,497 624,499 624,497 624,498 624,495 624,496 624,497 624,496 624,497 625,497 625,497 625,498 625,496 625,497 625,498 625,498 625,498 625,497 625,498 625,497 626,496 626,498 626,497 626,498 626,498 626,498 626,498 626,496 626,497 626,499 627,496 627,498 627,498 627,497 627,498 627,498 627,497 627,497 627,497 627,498 627,498 628,496 628,497 628,497 628,496 628,497 628,497 628,498 628,497 628,498 628,497 629,498 629,498 629,498 629,498 629,497 629,496 629,497 629,497 629,496 629,497 629,497 630,497 630,497 630,497 630,498 630,498 630,498 630,497 630,494 630,497 630,497 631,497 631,496 631,496 631,498 631,498 631,497 631,498 631,497 631,498 631,496 632,497 632,498 632,497 632,497 632,496 632,498 632,497 632,497 632,496 632,498 632,495 633,499 633,497 633,495 633,497 633,495 633,498 633,498 633,496 633,496 633,497 634,497 634,498 634,496 634,496 634,495 634,496 634,496 634,497 634,498 634,497 634,496 635,496 635,496 635,496 635,498 635,497 635,498 635,498 635,496 635,496 635,497 636,497 636,498 636,497 636,498 636,497 636,496 636,496 636,497 636,495 636,496 636,498 637,497 637,495 637,498 637,494 637,498 637,498 637,498 637,497 637,497 637,496 638,497 638,496 638,496 638,495 638,498 638,496 638,495 638,496 638,496 638,497 638,497 639,496 639,498 639,497 639,496 639,496 639,497 639,497 639,496 639,496 639,495 640,497 640,495 640,498 640,496 640,496 640,498 640,495 640,496 640,497 640,497 640,497 641,497 641,497 641,496 641,495 641,495 641,497 641,497 641,498 641,496 641,496 642,498 642,496 642,497 642,496 642,496 642,498 642,495 642,497 642,497 642,495 643,496 643,496 643,496 643,496 643,498 643,496 643,497 643,496 643,497 643,496 643,495 644,497 644,497 644,495 644,496 644,498 644,498 644,497 644,496 644,498 644,495 645,495 645,497 645,494 645,497 645,497 645,497 645,496 645,498 645,496 645,495 645,497 646,497 646,495 646,497 646,498 646,496 646,496 646,495 646,496 646,496 646,497 647,497 647,496 647,496 647,496 647,498 647,497 647,495 647,497 647,497 647,495 647,498 648,498 648,495 648,494 648,498 648,496 648,497 648,495 648,497 648,497 648,496 649,498 649,496 649,496 649,496 649,496 649,497 649,496 649,496 649,496 649,498 649,497 650,496 650,495 650,495 650,497 650,498 650,496 650,497 650,497 650,496 650,497 651,497 651,498 651,496 651,497 651,498 651,496 651,497 651,495 651,497 651,497 651,498 652,495 652,496 652,497 652,498 652,497 652,496 652,495 652,497 652,496 652,496 653,497 653,496 653,498 653,497 653,497 653,496 653,499 653,495 653,497 653,496 654,497 654,497 654,496 654,496 654,497 654,497 654,496 654,497 654,496 654,498 654,497 655,495 655,496 655,496 655,497 655,497 655,495 655,496 655,498 655,497 655,496 656,496 656,495 656,495 656,496 656,496 656,495 656,496 656,496 656,496 656,497 656,496 657,496 657,496 657,495 657,495 657,496 657,496 657,496 657,496 657,497 657,497 658,495 658,496 658,496 658,497 658,496 658,496 658,497 658,496 658,497 658,496 658,498 659,496 659,496 659,497 659,495 659,496 659,497 659,495 659,496 659,497 659,496 660,495 660,495 660,495 660,497 660,497 660,496 660,495 660,495 660,496 660,496 660,498 661,493 661,495 661,496 661,497 661,498 661,496 661,496 661,495 661,496 661,496 662,497 662,495 662,495 662,496 662,496 662,497 662,497 662,495 662,496 662,496 662,496 663,495 663,496 663,498 663,496 663,496 663,498 663,496 663,497 663,496 663,496 664,495 664,495 664,497 664,496 664,496 664,496 664,496 664,496 664,497 664,495 665,496 665,496 665,498 665,495 665,497 665,495 665,495 665,496 665,495 665,497 665,497 666,496 666,496 666,496 666,496 666,497 666,496 666,496 666,497 666,496 666,495 667,498 667,497 667,496 667,494 667,496 667,496 667,496 667,496 667,496 667,495 667,498 668,497 668,496 668,497 668,497 668,496 668,496 668,494 668,495 668,496 668,497 669,497 669,495 669,496 669,495 669,496 669,496 669,496 669,497 669,497 669,497 669,496 670,498 670,496 670,496 670,495 670,495 670,495 670,496 670,497 670,495 670,496 671,497 671,495 671,497 671,494 671,497 671,497 671,497 671,495 671,497 671,496 671,496 672,496 672,496 672,497 672,496 672,496 672,496 672,496 672,495 672,497 672,496 673,496 673,495 673,495 673,496 673,496 673,496 673,496 673,496 673,497 673,495 674,496 674,496 674,495 674,498 674,495 674,495 674,495 674,494 674,496 674,496 674,496 675,495 675,497 675,496 675,495 675,497 675,496 675,495 675,496 675,496 675,494 676,497 676,497 676,495 676,496 676,496 676,495 676,496 676,496 676,496 676,496 676,494 677,495 677,496 677,497 677,495 677,497 677,495 677,497 677,497 677,496 677,495 678,496 678,495 678,494 678,496 678,497 678,496 678,496 678,496 678,494 678,494 678,495 679,496 679,496 679,497 679,495 679,495 679,495 679,495 679,495 679,496 679,494 680,495 680,496 680,495 680,496 680,495 680,497 680,495 680,495 680,495 680,496 680,495 681,496 681,497 681,494 681,496 681,495 681,496 681,495 681,495 681,496 681,496 682,495 682,495 682,495 682,496 682,495 682,495 682,496 682,497 682,495 682,495 682,494 683,497 683,496 683,495 683,495 683,494 683,497 683,496 683,495 683,496 683,495 684,495 684,494 684,497 684,497 684,494 684,496 684,494 684,497 684,497 684,495 685,496 685,497 685,495 685,498 685,497 685,495 685,496 685,495 685,496 685,495 685,496 686,497 686,495 686,497 686,494 686,497 686,495 686,495 686,495 686,495 686,498 687,496 687,495 687,496 687,495 687,496 687,497 687,495 687,495 687,496 687,494 687,496 688,496 688,495 688,495 688,495 688,495 688,496 688,494 688,495 688,494 688,495 689,496 689,496 689,496 689,497 689,496 689,496 689,497 689,496 689,496 689,497 689,495 690,495 690,497 690,494 690,494 690,496 690,496 690,497 690,495 690,495 690,496 691,496 691,495 691,497 691,494 691,496 691,495 691,495 691,496 691,494 691,495 691,497 692,494 692,496 692,495 692,497 692,496 692,495 692,494 692,495 692,496 692,497 693,495 693,496 693,494 693,496 693,496 693,495 693,495 693,495 693,496 693,494 693,495 694,496 694,493 694,495 694,494 694,495 694,495 694,496 694,496 694,495 694,496 695,493 695,494 695,495 695,496 695,495 695,493 695,493 695,497 695,495 695,495 696,496 696,495 696,497 696,493 696,494 696,495 696,494 696,495 696,495 696,494 696,494 697,493 697,494 697,496 697,495 697,495 697,494 697,496 697,496 697,495 697,495 698,495 698,495 698,494 698,494 698,496 698,497 698,494 698,496 698,495 698,494 698,494 699,495 699,495 699,497 699,496 699,496 699,495 699,494 699,496 699,495 699,495 700,494 700,495 700,497 700,495 700,496 700,495 700,494 700,496 700,495 700,494 700,495 701,495 701,494 701,495 701,495 701,494 701,494 701,496 701,495 701,494 701,495 702,495 702,496 702,494 702,495 702,496 702,494 702,494 702,494 702,495 702,494 702,496 703,495 703,495 703,496 703,496 703,494 703,494 703,493 703,494 703,494 703,494 704,495 704,495 704,496 704,494 704,495 704,495 704,495 704,495 704,495 704,495 704,494 705,495 705,495 705,494 705,495 705,494 705,494 705,494 705,494 705,494 705,494 706,496 706,495 706,493 706,495 706,494 706,494 706,495 706,495 706,494 706,495 707,495 707,494 707,494 707,493 707,494 707,493 707,493 707,493 707,493 707,493 707,495 708,495 708,494 708,492 708,494 708,494 708,494 708,494 708,495 708,493 708,494 709,496 709,494 709,496 709,494 709,494 709,495 709,495 709,495 709,493 709,492 709,494 710,495 710,494 710,494 710,494 710,493 710,495 710,495 710,494 710,495 710,495 711,495 711,494 711,495 711,494 711,495 711,495 711,493 711,494 711,494 711,494 711,494 712,494 712,495 712,494 712,494 712,494 712,495 712,494 712,492 712,494 712,494 713,497 713,494 713,494 713,495 713,496 713,496 713,493 713,494 713,495 713,495 713,495 714,494 714,494 714,495 714,494 714,494 714,494 714,495 714,494 714,493 714,494 715,494 715,494 715,494 715,494 715,494 715,494 715,493 715,493 715,495 715,492 715,494 716,494 716,493 716,494 716,492 716,496 716,495 716,495 716,494 716,495 716,495 717,494 717,495 717,495 717,494 717,494 717,494 717,492 717,494 717,494 717,495 718,494 718,494 718,494 718,494 718,495 718,495 718,493 718,495 718,494 718,493 718,494 719,494 719,492 719,493 719,494 719,491 719,495 719,494 719,495 719,494 719,494 720,493 720,494 720,494 720,494 720,493 720,493 720,495 720,495 720,494 720,494 720,494 721,495 721,493 721,494 721,493 721,494 721,495 721,493 721,494 721,494 721,493 722,494 722,494 722,494 722,494 722,494 722,494 722,493 722,494 722,493 722,495 722,493 723,494 723,492 723,492 723,493 723,493 723,495 723,494 723,491 723,494 723,494 724,493 724,491 724,492 724,491 724,493 724,493 724,493 724,494 724,493 724,493 724,492 725,494 725,493 725,493 725,493 725,493 725,493 725,492 725,494 725,495 725,494 726,492 726,492 726,492 726,494 726,493 726,494 726,493 726,493 726,493 726,493 727,493 727,494 727,492 727,494 727,494 727,494 727,493 727,493 727,493 727,493 727,492 728,493 728,494 728,494 728,493 728,494 728,495 728,493 728,493 728,492 728,494 729,492 729,492 729,493 729,492 729,494 729,494 729,493 729,493 729,492 729,492 729,494 730,492 730,491 730,492 730,492 730,494 730,492 730,492 730,491 730,493 730,493 731,492 731,493 731,492 731,493 731,495 731,493 731,493 731,492 731,492 731,493 731,493 732,493 732,492 732,494 732,492 732,493 732,493 732,493 732,494 732,493 732,492 733,493 733,492 733,490 733,493 733,492 733,492 733,493 733,493 733,494 733,492 733,491 734,493 734,493 734,493 734,491 734,492 734,491 734,493 734,493 734,493 734,493 735,492 735,493 735,492 735,492 735,492 735,491 735,493 735,492 735,493 735,491 735,491 736,492 736,492 736,491 736,493 736,493 736,493 736,491 736,492 736,492 736,491 737,492 737,493 737,491 737,493 737,493 737,492 737,493 737,493 737,493 737,491 738,491 738,490 738,493 738,490 738,493 738,492 738,491 738,491 738,492 738,491 738,492 739,495 739,491 739,491 739,492 739,490 739,493 739,491 739,492 739,492 739,493 740,492 740,492 740,492 740,491 740,492 740,492 740,492 740,493 740,493 740,492 740,492 741,492 741,490 741,491 741,489 741,491 741,490 741,492 741,491 741,492 741,492 742,492 742,490 742,493 742,492 742,493 742,493 742,490 742,492 742,492 742,492 742,493 743,493 743,492 743,491 743,492 743,491 743,491 743,494 743,490 743,492 743,491 744,492 744,492 744,493 744,492 744,493 744,492 744,490 744,494 744,491 744,492 744,492 745,492 745,492 745,492 745,492 745,492 745,492 745,492 745,491 745,491 745,491 746,492 746,491 746,492 746,492 746,493 746,492 746,490 746,493 746,491 746,492 746,492 747,491 747,493 747,491 747,491 747,493 747,492 747,490 747,493 747,490 747,490 748,492 748,493 748,493 748,492 748,492 748,492 748,492 748,492 748,493 748,491 749,491 749,491 749,491 749,493 749,490 749,492 749,491 749,491 749,489 749,492 749,492 750,491 750,491 750,491 750,493 750,492 750,491 750,491 750,493 750,492 750,489 751,490 751,491 751,491 751,493 751,490 751,493 751,492 751,491 751,492 751,490 751,492 752,492 752,493 752,491 752,493 752,491 752,492 752,490 752,491 752,491 752,493 753,491 753,492 753,491 753,491 753,492 753,492 753,493 753,492 753,491 753,491 753,490 754,491 754,492 754,490 754,492 754,492 754,491 754,491 754,491 754,492 754,491 755,491 755,492 755,491 755,490 755,492 755,491 755,493 755,492 755,492 755,491 755,492 756,492 756,493 756,492 756,493 756,493 756,492 756,491 756,491 756,492 756,491 757,494 757,490 757,491 757,491 757,491 757,492 757,491 757,492 757,492 757,493 757,491 758,491 758,490 758,491 758,493 758,491 758,492 758,491 758,492 758,490 758,491 759,492 759,491 759,491 759,493 759,492 759,491 759,492 759,490 759,492 759,490 760,491 760,493 760,492 760,491 760,492 760,491 760,492 760,491 760,492 760,492 760,494 761,493 761,491 761,491 761,492 761,495 761,493 761,493 761,490 761,492 761,492 762,493 762,491 762,492 762,491 762,493 762,492 762,491 762,492 762,492 762,492 762,492 763,492 763,492 763,492 763,489 763,491 763,492 763,494 763,491 763,493 763,492 764,491 764,492 764,492 764,494 764,493 764,493 764,489 764,491 764,492 764,492 764,490 765,492 765,490 765,493 765,493 765,492 765,491 765,491 765,490 765,491 765,491 766,493 766,492 766,491 766,492 766,492 766,491 766,490 766,492 766,490 766,490 766,490 767,492 767,492 767,492 767,493 767,490 767,492 767,491 767,491 767,492 767,492 768,492 768,492 768,492 768,491 768,492 768,492 768,492 768,492 768,493 768,493 768,493 769,491 769,492 769,492 769,491 769,493 769,492 769,492 769,493 769,492 769,491 770,491 770,491 770,491 770,491 770,491 770,491 770,490 770,491 770,493 770,491 771,492 771,491 771,491 771,492 771,491 771,490 771,493 771,492 771,492 771,493 771,492 772,491 772,490 772,491 772,490 772,491 772,492 772,491 772,491 772,491 772,491 773,492 773,490 773,491 773,492 773,491 773,491 773,492 773,491 773,491 773,492 773,492 774,491 774,491 774,491 774,492 774,492 774,493 774,491 774,490 774,493 774,493 775,492 775,492 775,492 775,492 775,493 775,492 775,492 775,491 775,492 775,492 775,491 776,491 776,491 776,492 776,490 776,492 776,492 776,491 776,493 776,492 776,494 777,494 777,491 777,492 777,493 777,491 777,492 777,492 777,491 777,492 777,492 777,493 778,493 778,493 778,491 778,491 778,492 778,492 778,493 778,492 778,493 778,493 779,493 779,492 779,490 779,492 779,492 779,491 779,492 779,493 779,491 779,491 779,492 780,493 780,491 780,494 780,491 780,491 780,492 780,492 780,490 780,493 780,492 781,492 781,493 781,492 781,493 781,493 781,490 781,491 781,491 781,492 781,492 782,491 782,493 782,493 782,492 782,491 782,492 782,491 782,491 782,492 782,491 782,493 783,492 783,491 783,492 783,491 783,491 783,491 783,492 783,491 783,492 783,492 784,492 784,492 784,491 784,491 784,492 784,492 784,493 784,491 784,490 784,489 784,493 785,492 785,492 785,492 785,493 785,492 785,490 785,491 785,490 785,492 785,492 786,491 786,491 786,492 786,492 786,492 786,491 786,492 786,493 786,491 786,491 786,494 787,492 787,491 787,491 787,492 787,494 787,490 787,492 787,491 787,491 787,493 788,490 788,491 788,493 788,491 788,492 788,492 788,491 788,491 788,491 788,492 788,492 789,492 789,492 789,491 789,490 789,491 789,492 789,490 789,492 789,491 789,492 790,492 790,491 790,493 790,493 790,492 790,492 790,490 790,492 790,492 790,492 791,491 791,491 791,492 791,491 791,491 791,492 791,492 791,491 791,492 791,490 791,491 792,490 792,491 792,491 792,490 792,491 792,492 792,491 792,491 792,490 792,490 793,490 793,491 793,492 793,491 793,491 793,491 793,491 793,489 793,492 793,492 793,490 794,490 794,490 794,492 794,491 794,491 794,490 794,491 794,491 794,491 794,491 795,491 795,492 795,490 795,489 795,493 795,490 795,491 795,491 795,491 795,492 795,492 796,491 796,491 796,492 796,493 796,492 796,491 796,491 796,492 796,491 796,493 797,492 797,491 797,492 797,491 797,490 797,491 797,492 797,491 797,491 797,491 797,490 798,491 798,492 798,491 798,492 798,491 798,491 798,491 798,491 798,492 798,492 799,491 799,490 799,493 799,491 799,491 799,489 799,491 799,491 799,492 799,492 799,491 800,492 800,491 800,494 800,491 800,491 800,492 800,490 800,491 800,491 800,492 801,492 801,492 801,490 801,490 801,492 801,491 801,491 801,492 801,491 801,492 802,491 802,491 802,491 802,491 802,490 802,491 802,491 802,492 802,492 802,491 802,490 803,492 803,490 803,492 803,491 803,491 803,491 803,491 803,492 803,493 803,489 804,491 804,492 804,492 804,491 804,491 804,490 804,491 804,490 804,492 804,490 804,492 805,491 805,490 805,491 805,492 805,490 805,492 805,491 805,491 805,492 805,490 806,493 806,491 806,490 806,491 806,492 806,491 806,490 806,491 806,491 806,492 806,492 807,491 807,490 807,490 807,490 807,492 807,490 807,493 807,491 807,492 807,492 808,491 808,490 808,492 808,492 808,490 808,491 808,492 808,490 808,491 808,491 808,491 809,491 809,490 809,490 809,492 809,489 809,491 809,491 809,491 809,490 809,490 810,490 810,491 810,492 810,491 810,491 810,492 810,491 810,492 810,492 810,491 810,493 811,491 811,490 811,492 811,492 811,492 811,490 811,491 811,492 811,491 811,492 812,490 812,490 812,490 812,490 812,490 812,491 812,489 812,492 812,490 812,490 813,490 813,491 813,491 813,489 813,490 813,492 813,491 813,492 813,492 813,491 813,491 814,491 814,491 814,490 814,490 814,491 814,489 814,490 814,490 814,491 814,491 815,491 815,491 815,491 815,491 815,491 815,491 815,491 815,490 815,490 815,491 815,490 816,490 816,490 816,491 816,489 816,492 816,490 816,490 816,490 816,490 816,491 817,489 817,489 817,492 817,490 817,490 817,490 817,491 817,492 817,489 817,490 817,488 818,491 818,491 818,489 818,491 818,490 818,490 818,492 818,491 818,491 818,492 819,491 819,491 819,491 819,490 819,492 819,491 819,488 819,490 819,490 819,490 819,492 820,491 820,493 820,490 820,490 820,491 820,491 820,491 820,491 820,489 820,491 821,492 821,491 821,491 821,490 821,492 821,490 821,491 821,490 821,490 821,490 821,490 822,491 822,491 822,490 822,491 822,491 822,492 822,490 822,488 822,489 822,492 823,490 823,490 823,489 823,491 823,490 823,489 823,491 823,490 823,489 823,490 824,491 824,490 824,489 824,490 824,492 824,490 824,490 824,492 824,490 824,491 824,490 825,491 825,490 825,489 825,491 825,491 825,490 825,490 825,490 825,490 825,490 826,490 826,489 826,491 826,489 826,490 826,492 826,490 826,489 826,490 826,490 826,489 827,491 827,490 827,491 827,491 827,491 827,491 827,492 827,491 827,489 827,491 828,490 828,489 828,487 828,490 828,491 828,491 828,489 828,490 828,490 828,490 828,492 829,490 829,491 829,490 829,491 829,490 829,489 829,491 829,490 829,491 829,491 830,490 830,491 830,489 830,490 830,490 830,490 830,490 830,492 830,491 830,490 830,490 831,491 831,489 831,491 831,490 831,490 831,491 831,489 831,488 831,490 831,488 832,490 832,490 832,490 832,490 832,490 832,490 832,491 832,490 832,490 832,489 832,491 833,490 833,490 833,490 833,490 833,489 833,490 833,491 833,491 833,491 833,491 834,489 834,490 834,492 834,490 834,489 834,490 834,489 834,492 834,491 834,490 835,489 835,490 835,491 835,490 835,490 835,490 835,490 835,488 835,490 835,490 835,491 836,490 836,489 836,488 836,488 836,490 836,488 836,489 836,490 836,489 836,489 837,489 837,490 837,490 837,489 837,490 837,490 837,490 837,491 837,490 837,490 837,489 838,491 838,490 838,490 838,491 838,489 838,490 838,490 838,491 838,491 838,491 839,489 839,489 839,489 839,489 839,489 839,491 839,489 839,491 839,489 839,490 839,488 840,491 840,490 840,490 840,492 840,491 840,490 840,490 840,491 840,490 840,490 841,490 841,488 841,488 841,489 841,490 841,489 841,489 841,489 841,491 841,490 841,489 842,489 842,490 842,489 842,489 842,488 842,490 842,488 842,491 842,489 842,489 843,490 843,489 843,489 843,490 843,489 843,490 843,489 843,490 843,490 843,490 844,490 844,490 844,490 844,490 844,491 844,488 844,490 844,490 844,490 844,489 844,489 845,489 845,488 845,489 845,491 845,489 845,490 845,490 845,489 845,489 845,489 846,489 846,492 846,491 846,488 846,490 846,487 846,490 846,489 846,490 846,489 846,491 847,489 847,489 847,491 847,491 847,490 847,490 847,489 847,489 847,489 847,492 848,490 848,489 848,488 848,491 848,490 848,490 848,488 848,491 848,489 848,489 848,490 849,491 849,490 849,489 849,490 849,489 849,489 849,488 849,491 849,489 849,488 850,490 850,491 850,489 850,489 850,489 850,491 850,489 850,492 850,490 850,490 850,489 851,490 851,489 851,490 851,488 851,490 851,489 851,491 851,488 851,490 851,490 852,489 852,490 852,491 852,489 852,490 852,488 852,490 852,491 852,489 852,488 852,491 853,488 853,488 853,489 853,490 853,491 853,489 853,490 853,490 853,490 853,490 854,490 854,490 854,490 854,488 854,489 854,490 854,488 854,488 854,489 854,489 855,490 855,489 855,489 855,488 855,488 855,488 855,489 855,491 855,491 855,488 855,489 856,490 856,489 856,490 856,490 856,489 856,491 856,488 856,490 856,487 856,490 857,488 857,490 857,488 857,490 857,489 857,488 857,490 857,489 857,487 857,489 857,490 858,489 858,490 858,490 858,490 858,490 858,490 858,489 858,489 858,490 858,489 859,489 859,488 859,490 859,490 859,488 859,488 859,491 859,488 859,490 859,490 859,491 860,489 860,489 860,488 860,489 860,490 860,489 860,490 860,490 860,490 860,488 861,488 861,490 861,488 861,489 861,489 861,489 861,490 861,490 861,489 861,490 861,488 862,488 862,489 862,490 862,488 862,489 862,490 862,490 862,490 862,490 862,488 863,489 863,490 863,489 863,488 863,488 863,490 863,490 863,489 863,490 863,488 863,490 864,490 864,491 864,489 864,489 864,490 864,488 864,488 864,489 864,490 864,487 865,488 865,489 865,487 865,488 865,489 865,489 865,489 865,489 865,490 865,488 866,489 866,490 866,489 866,488 866,489 866,490 866,490 866,490 866,488 866,489 866,489 867,490 867,489 867,489 867,487 867,489 867,490 867,489 867,488 867,489 867,488 868,490 868,488 868,489 868,490 868,489 868,488 868,488 868,489 868,489 868,489 868,490 869,490 869,488 869,489 869,490 869,488 869,490 869,488 869,489 869,488 869,489 870,488 870,490 870,489 870,489 870,491 870,490 870,488 870,488 870,490 870,489 870,489 871,488 871,490 871,489 871,489 871,488 871,489 871,487 871,490 871,487 871,488 872,487 872,489 872,489 872,489 872,488 872,490 872,488 872,488 872,489 872,489 872,490 873,490 873,488 873,489 873,488 873,487 873,490 873,487 873,491 873,489 873,488 874,487 874,489 874,488 874,487 874,489 874,488 874,487 874,487 874,488 874,489 874,488 875,487 875,489 875,490 875,488 875,490 875,488 875,490 875,488 875,490 875,488 876,489 876,489 876,488 876,489 876,488 876,489 876,489 876,488 876,490 876,487 877,489 877,489 877,490 877,490 877,489 877,488 877,489 877,490 877,487 877,488 877,488 878,489 878,488 878,488 878,489 878,489 878,488 878,490 878,488 878,490 878,490 879,488 879,489 879,489 879,490 879,488 879,490 879,488 879,487 879,487 879,489 879,489 880,489 880,490 880,488 880,488 880,487 880,490 880,489 880,485 880,489 880,489 881,488 881,490 881,488 881,488 881,487 881,488 881,489 881,488 881,488 881,488 881,490 882,488 882,489 882,489 882,488 882,489 882,488 882,488 882,488 882,489 882,490 883,488 883,488 883,489 883,488 883,488 883,489 883,488 883,489 883,489 883,487 883,488 884,488 884,489 884,489 884,488 884,488 884,488 884,489 884,490 884,487 884,488 885,489 885,488 885,487 885,490 885,489 885,488 885,489 885,488 885,488 885,489 885,490 886,488 886,489 886,489 886,488 886,490 886,490 886,489 886,488 886,487 886,488 887,488 887,490 887,488 887,489 887,488 887,488 887,488 887,489 887,489 887,488 888,488 888,488 888,488 888,488 888,488 888,487 888,489 888,488 888,488 888,488 888,488 889,488 889,490 889,489 889,488 889,490 889,488 889,489 889,488 889,488 889,488 890,488 890,488 890,488 890,488 890,490 890,488 890,487 890,487 890,487 890,487 890,486 891,489 891,489 891,488 891,487 891,488 891,488 891,488 891,489 891,489 891,488 892,489 892,489 892,489 892,489 892,488 892,490 892,488 892,487 892,488 892,488 892,490 893,488 893,488 893,489 893,489 893,489 893,488 893,489 893,486 893,489 893,488 894,488 894,489 894,488 894,487 894,488 894,489 894,487 894,487 894,488 894,487 894,488 895,487 895,488 895,487 895,488 895,488 895,487 895,490 895,488 895,487 895,488 896,487 896,489 896,487 896,488 896,489 896,487 896,487 896,488 896,489 896,487 896,488 897,488 897,488 897,488 897,488 897,488 897,486 897,490 897,487 897,489 897,487 898,488 898,487 898,489 898,489 898,488 898,488 898,487 898,489 898,489 898,487 899,487 899,488 899,487 899,487 899,487 899,487 899,488 899,489 899,488 899,488 899,488 900,488 900,488 900,488 900,489 900,487 900,489 900,489 900,486 900,489 900,488 901,488 901,487 901,489 901,490 901,489 901,490 901,488 901,488 901,486 901,488 901,487 902,487 902,488 902,488 902,486 902,487 902,488 902,490 902,489 902,488 902,488 903,487 903,488 903,488 903,489 903,487 903,487 903,489 134,286 207,384"/>
<polyline marker-start="url(#mp)" marker-mid="url(#mp)" marker-end="url(#mp)" points="129,459 129,454 129,455 129,463 129,457 130,465 130,458 130,452 130,450 130,460 130,453 130,453 130,447 130,446 130,455 131,446 131,459 131,456 131,451 131,447 131,455 131,456 131,458 131,458 131,459 131,454 132,460 132,453 132,457 132,450 132,448 132,464 132,459 132,453 132,453 132,452 133,454 133,457 133,458 133,456 133,458 133,449 133,453 133,461 133,460 133,456 133,458 134,459 134,454 134,461 134,451 134,441 134,460 134,457 134,453 134,453 134,455 134,451 135,461 135,455 135,455 135,454 135,458 135,453 135,459 135,453 135,458 135,462 136,458 136,447 136,453 136,453 136,452 136,453 136,456 136,462 136,459 136,439 136,459 137,454 137,455 137,456 137,461 137,455 137,456 137,463 137,457 137,451 137,450 138,436 138,454 138,454 138,446 138,452 138,450 138,451 138,445 138,449 138,458 138,451 139,455 139,449 139,439 139,460 139,463 139,460 139,452 139,455 139,452 139,446 140,454 140,453 140,456 140,461 140,456 140,458 140,453 140,448 140,444 140,455 140,460 141,455 141,457 141,461 141,446 141,455 141,456 141,446 141,456 141,456 141,455 141,448 142,463 142,451 142,456 142,454 142,460 142,444 142,436 142,443 142,456 142,454 143,444 143,454 143,446 143,455 143,455 143,454 143,451 143,454 143,450 143,456 143,465 144,455 144,442 144,458 144,455 144,451 144,437 144,461 144,454 144,457 144,455 145,460 145,460 145,443 145,447 145,458 145,455 145,450 145,460 145,460 145,459 145,451 146,457 146,461 146,448 146,437 146,456 146,458 146,451 146,453 146,451 146,454 147,459 147,443 147,449 147,461 147,452 147,455 147,456 147,457 147,451 147,459 147,460 148,462 148,453 148,451 148,459 148,455 148,459 148,455 148,451 148,462 148,452 148,454 149,451 149,444 149,446 149,453 149,454 149,454 149,457 149,454 149,461 149,450 150,460 150,463 150,458 150,455 150,448 150,457 150,457 150,454 150,450 150,440 150,451 151,450 151,458 151,457 151,454 151,460 151,457 151,460 151,453 151,453 151,454 152,457 152,456 152,449 152,457 152,451 152,447 152,458 152,458 152,459 152,458 152,462 153,455 153,447 153,458 153,450 153,459 153,465 153,446 153,457 153,457 153,456 153,459 154,458 154,460 154,454 154,454 154,455 154,453 154,461 154,455 154,455 154,456 155,462 155,460 155,452 155,459 155,459 155,456 155,446 155,455 155,457 155,457 155,458 156,452 156,454 156,458 156,456 156,448 156,453 156,448 156,453 156,458 156,460 157,449 157,451 157,443 157,452 157,461 157,455 157,463 157,457 157,458 157,456 157,464 158,456 158,456 158,453 158,449 158,461 158,448 158,449 158,457 158,453 158,450 159,461 159,464 159,460 159,462 159,459 159,459 159,447 159,450 159,449 159,461 159,450 160,453 160,449 160,452 160,444 160,454 160,455 160,450 160,455 160,442 160,450 160,442 161,458 161,453 161,443 161,454 161,460 161,448 161,448 161,436 161,448 161,456 162,454 162,458 162,455 162,455 162,454 162,452 162,448 162,456 162,442 162,453 162,455 163,449 163,446 163,455 163,454 163,456 163,453 163,448 163,450 163,458 163,453 164,457 164,443 164,458 164,452 164,448 164,454 164,454 164,457 164,450 164,449 164,458 165,451 165,456 165,449 165,452 165,442 165,450 165,460 165,451 165,449 165,451 166,462 166,451 166,445 166,446 166,456 166,449 166,460 166,456 166,455 166,462 166,447 167,459 167,459 167,461 167,455 167,462 167,461 167,461 167,451 167,447 167,451 167,460 168,458 168,456 168,453 168,457 168,458 168,451 168,447 168,455 168,459 168,456 169,454 169,456 169,458 169,458 169,460 169,450 169,455 169,456 169,455 169,462 169,450 170,459 170,452 170,455 170,456 170,456 170,452 170,452 170,457 170,454 170,459 171,455 171,458 171,461 171,453 171,458 171,457 171,454 171,459 171,455 171,454 171,448 172,456 172,452 172,459 172,457 172,453 172,461 172,454 172,462 172,462 172,457 173,458 173,451 173,458 173,454 173,461 173,440 173,448 173,453 173,456 173,449 173,462 174,447 174,457 174,456 174,457 174,442 174,449 174,456 174,462 174,454 174,458 174,457 175,457 175,454 175,461 175,455 175,452 175,463 175,464 175,445 175,453 175,456 176,455 176,456 176,448 176,451 176,448 176,445 176,458 176,453 176,456 176,452 176,456 177,460 177,446 177,441 177,454 177,456 177,456 177,452 177,456 177,458 177,455 178,460 178,464 178,454 178,451 178,457 178,448 178,456 178,449 178,455 178,460 178,456 179,452 179,458 179,454 179,457 179,459 179,460 179,461 179,455 179,456 179,454 180,457 180,459 180,451 180,454 180,456 180,451 180,460 180,459 180,452 180,457 180,455 181,444 181,455 181,438 181,450 181,456 181,458 181,458 181,456 181,453 181,450 181,457 182,457 182,459 182,455 182,460 182,459 182,449 182,463 182,454 182,457 182,458 183,454 183,453 183,446 183,452 183,439 183,452 183,456 183,457 183,456 183,437 183,449 184,459 184,461 184,445 184,458 184,461 184,454 184,458 184,460 184,452 184,448 185,442 185,454 185,455 185,454 192,503 192,510 192,515 192,511 192,506 192,511 192,509 192,510 193,496 193,510 193,510 193,509 193,508 193,510 193,514 193,516 193,513 193,505 194,508 194,506 194,511 194,509 194,510 194,508 194,514 194,502 194,506 194,512 195,512 195,509 195,510 195,510 195,509 195,501 195,506 195,511 195,510 195,508 195,504 196,507 196,510 196,505 196,514 196,514 196,493 196,509 196,510 196,505 196,508 197,506 197,512 197,501 197,496 197,511 197,500 197,508 197,507 197,509 197,504 197,511 198,511 198,508 198,510 198,510 198,511 198,505 198,506 198,515 198,505 198,511 199,505 199,507 199,511 199,505 199,505 199,512 199,509 199,514 199,509 199,505 199,510 200,505 200,496 200,500 200,506 200,508 200,503 200,507 200,500 200,499 200,509 201,506 201,494 201,506 201,504 201,507 201,504 201,507 201,504 201,507 201,502 201,513 202,494 202,484 202,500 202,501 202,503 202,501 202,506 202,501 202,509 202,493 203,502 203,504 203,495 203,496 203,504 203,503 203,506 203,507 203,504 203,505 203,506 204,508 204,500 204,495 204,499 204,503 204,503 204,503 204,510 204,502 204,506 205,506 205,495 205,499 205,509 205,486 205,509 205,505 205,507 205,504 205,505 206,501 206,500 206,500 206,505 206,502 206,497 206,504 206,502 206,502 206,505 206,505 207,511 207,510 207,504 207,511 207,503 207,499 207,504 207,507 207,506 207,507 208,498 208,506 208,490 208,504 208,502 208,505 208,502 208,502 208,501 208,496 208,501 209,503 209,503 209,499 209,503 209,506 209,503 209,507 209,504 209,504 209,495 210,507 210,506 210,503 210,507 210,500 210,505 210,502 210,508 210,498 210,505 210,499 211,493 211,509 211,502 211,502 211,507 211,510 211,501 211,502 211,497 211,507 212,508 212,498 212,510 212,490 212,506 212,504 212,498 212,508 212,508 212,504 212,500 213,494 213,497 213,504 213,497 213,504 213,509 213,499 213,495 213,503 213,502 214,504 214,502 214,497 214,507 214,507 214,508 214,502 214,500 214,503 214,505 214,506 215,494 215,503 215,501 215,502 215,501 215,501 215,495 215,508 215,504 215,504 216,498 216,494 216,487 216,500 216,509 216,498 216,506 216,497 216,498 216,496 217,504 217,497 217,502 217,499 217,509 217,505 217,503 217,500 217,499 217,502 217,505 218,497 218,503 218,496 218,498 218,496 218,495 218,495 218,507 218,502 218,495 219,500 219,501 219,508 219,503 219,501 219,503 219,506 219,504 219,498 219,510 219,501 220,502 220,501 220,502 220,501 220,505 220,500 220,491 220,506 220,501 220,482 221,507 221,507 221,498 221,509 221,499 221,491 221,496 221,501 221,499 221,498 221,507 222,502 222,502 222,498 222,506 222,501 222,498 222,499 222,503 222,503 222,494 223,507 223,506 223,494 223,507 223,503 223,506 223,489 223,498 223,502 223,506 223,503 224,497 224,502 224,505 224,504 224,501 224,500 224,495 224,499 224,504 224,500 225,496 225,502 225,502 225,507 225,505 225,494 225,504 225,498 225,502 225,500 225,501 226,505 226,502 226,508 226,503 226,502 226,505 226,506 226,502 226,501 226,497 227,494 227,497 227,494 227,506 227,501 227,493 227,501 227,495 227,502 227,502 228,507 228,498 228,503 228,499 228,484 228,500 228,496 228,501 228,496 228,500 228,491 229,502 229,501 229,506 229,498 229,499 229,490 229,497 229,501 229,491 229,487 230,507 230,497 230,504 230,491 230,496 230,501 230,498 230,504 230,506 230,497 230,503 231,494 231,500 231,496 231,503 231,506 231,495 231,504 231,502 231,501 231,497 232,498 232,495 232,497 232,499 232,499 232,501 232,501 232,496 232,500 232,485 232,488 233,499 233,485 233,499 233,502 233,492 233,499 233,504 233,502 233,499 233,498 234,495 234,494 234,495 234,497 234,495 234,501 234,504 234,496 234,501 234,503 234,502 235,505 235,499 235,491 235,496 235,504 235,498 235,496 235,498 235,505 235,502 236,492 236,499 236,497 236,496 236,497 236,489 236,500 236,497 236,499 236,501 236,502 237,494 237,501 237,498 237,502 237,507 237,498 237,499 237,504 237,490 237,502 238,503 238,497 238,502 238,492 238,498 238,493 238,496 238,496 238,502 238,495 239,500 239,504 239,498 239,495 239,502 239,496 239,493 239,486 239,502 239,481 239,500 240,493 240,499 240,491 240,501 240,501 240,481 240,493 240,480 240,500 240,505 241,494 241,495 241,498 241,502 241,505 241,504 241,498 241,501 241,495 241,489 241,493 242,502 242,505 242,502 242,499 242,496 242,497 242,500 242,499 242,500 242,502 243,498 243,497 243,495 243,497 243,497 243,495 243,500 243,499 243,495 243,502 243,502 244,490 244,504 244,499 244,499 244,497 244,498 244,498 244,497 244,501 244,497 245,499 245,498 245,501 245,495 245,473 245,499 245,500 245,494 245,501 245,501 245,503 246,501 246,502 246,498 246,494 246,496 246,488 246,498 246,496 246,489 246,501 247,489 247,500 247,491 247,494 247,496 247,499 247,500 247,495 247,498 247,496 248,496 248,498 248,486 248,501 248,497 248,497 248,499 248,491 248,496 248,500 248,496 249,497 249,492 249,497 249,500 249,499 249,493 249,496 249,487 249,505 249,498 250,498 250,499 250,487 250,501 250,502 250,499 250,483 250,497 250,500 250,496 250,490 251,491 251,500 251,502 251,492 251,504 251,500 251,498 251,500 251,490 251,496 252,497 252,507 252,493 252,489 252,502 252,498 252,501 252,495 252,493 252,496 252,500 253,493 253,501 253,493 253,498 253,499 253,507 253,493 253,503 253,499 253,497 254,497 254,495 254,496 254,498 254,499 254,491 254,497 254,499 254,502 254,503 254,498 255,498 255,492 255,496 255,501 255,498 255,497 255,502 255,490 255,500 255,500 256,493 256,503 256,499 256,498 256,495 256,492 256,497 256,489 256,500 256,499 256,504 257,498 257,502 257,496 257,497 257,493 257,496 257,489 257,500 257,495 257,495 258,496 258,492 258,502 258,496 258,497 258,499 258,503 258,498 258,491 258,494 259,489 259,501 259,497 259,489 259,502 259,486 259,490 259,503 259,499 259,499 259,494 260,503 260,493 260,494 260,482 260,504 260,499 260,501 260,495 260,495 260,484 261,497 261,493 261,493 261,487 261,493 261,497 261,491 261,502 261,490 261,486 261,496 262,493 262,492 262,501 262,505 262,500 262,497 262,493 262,504 262,493 262,492 263,495 263,495 263,494 263,500 263,486 263,494 263,500 263,491 263,499 263,494 263,493 264,489 264,498 264,488 264,492 264,488 264,500 264,494 264,499 264,498 264,494 265,499 265,493 265,500 265,501 265,499 265,498 265,494 265,495 265,494 265,496 265,487 266,499 266,492 266,500 266,493 266,489 266,502 266,489 266,500 266,496 266,500 267,498 267,495 267,492 267,498 267,499 267,494 267,497 267,493 267,494 267,499 267,503 268,498 268,501 268,500 268,494 268,494 268,494 268,501 268,494 268,497 268,500 269,495 269,492 269,493 269,500 269,498 269,498 269,497 269,495 269,485 269,492 270,498 270,496 270,491 270,492 270,492 270,502 270,497 270,494 270,492 270,492 270,491 271,503 271,500 271,496 271,497 271,496 271,494 271,498 271,499 271,499 271,497 272,492 272,500 272,492 272,492 272,491 272,503 272,498 272,498 272,500 272,503 272,493 273,490 273,485 273,492 273,500 273,500 273,497 273,493 273,500 273,500 273,491 274,499 274,499 274,488 274,498 274,499 274,498 274,497 274,497 274,490 274,494 274,498 275,500 275,497 275,489 275,490 275,498 275,491 275,490 275,494 275,494 275,498 276,500 276,496 276,493 276,497 276,499 276,499 276,499 276,500 276,490 276,498 276,497 277,500 277,498 277,492 277,504 277,493 277,498 277,496 277,483 277,495 277,502 278,496 278,488 278,495 278,496 278,476 278,500 278,495 278,487 278,496 278,498 278,498 279,494 279,487 279,500 279,491 279,498 279,504 279,493 279,491 279,488 279,495 280,498 280,498 280,494 280,498 280,496 280,490 280,497 280,497 280,488 280,499 281,493 281,492 281,494 281,486 281,495 281,491 281,500 281,495 281,495 281,491 281,495 282,491 282,496 282,498 282,498 282,495 282,495 282,495 282,494 282,487 282,502 283,497 283,495 283,493 283,494 283,500 283,493 283,501 283,498 283,501 283,498 283,497 284,492 284,493 284,501 284,495 284,486 284,486 284,497 284,495 284,499 284,494 285,498 285,499 285,498 285,496 285,496 285,496 285,497 285,497 285,498 285,485 285,496 286,494 286,498 286,490 286,494 286,494 286,492 286,500 286,483 286,490 286,494 287,497 287,499 287,495 287,500 287,493 287,499 287,494 287,496 287,498 287,500 287,498 288,498 288,487 288,495 288,491 288,487 288,491 288,496 288,501 288,499 288,497 289,487 289,500 289,495 289,497 289,498 289,478 289,497 289,496 289,498 289,499 289,492 290,495 290,499 290,488 290,497 290,492 290,491 290,493 290,495 290,500 290,499 291,490 291,486 291,478 291,491 291,499 291,495 291,499 291,494 291,495 291,497 292,488 292,495 292,486 292,493 292,493 292,491 292,503 292,499 292,488 292,491 292,497 293,497 293,499 293,494 293,497 293,490 293,495 293,495 293,495 293,496 293,501 294,495 294,492 294,491 294,493 294,496 294,496 294,494 294,488 294,492 294,497 294,491 295,495 295,499 295,494 295,495 295,498 295,498 295,498 295,498 295,489 295,490 296,496 296,486 296,494 296,500 296,497 296,491 296,494 296,493 296,501 296,495 296,489 297,499 297,498 297,496 297,493 297,492 297,501 297,497 297,502 297,495 297,498 298,493 298,496 298,497 298,499 298,494 298,495 298,490 298,480 298,492 298,496 298,497 299,500 299,499 299,488 299,499 299,486 299,491 299,491 299,494 299,494 299,499 300,497 300,481 300,497 300,491 300,501 300,486 300,494 300,493 300,502 300,496 300,485 301,486 301,493 301,496 301,492 301,495 301,500 301,489 301,497 301,499 301,492 302,498 302,487 302,493 302,494 302,486 302,494 302,494 302,488 302,495 302,495 303,488 303,499 303,496 303,498 303,488 303,483 303,490 303,490 303,498 303,485 303,493 304,493 304,491 304,496 304,491 304,487 304,482 304,489 304,499 304,502 304,497 305,496 305,495 305,502 305,490 305,495 305,495 305,490 305,482 305,484 305,492 305,488 306,494 306,488 306,500 306,496 306,476 306,485 306,491 306,492 306,491 306,495 307,495 307,487 307,497 307,492 307,492 307,493 307,500 307,489 307,496 307,495 307,499 308,491 308,496 308,489 308,493 308,494 308,489 308,494 308,496 308,499 308,493 309,483 309,496 309,497 309,491 309,492 309,494 309,492 309,501 309,501 309,490 309,493 310,478 310,486 310,496 310,476 310,493 310,499 310,498 310,493 310,496 310,493 311,496 311,494 311,494 311,493 311,494 311,495 311,495 311,496 311,498 311,494 312,498 312,490 312,491 312,499 312,495 312,491 312,489 312,491 312,496 312,497 312,496 313,488 313,492 313,490 313,496 313,491 313,495 313,491 313,492 313,488 313,484 314,492 314,499 314,492 314,481 314,494 314,495 314,480 314,499 314,490 314,495 314,491 315,493 315,488 315,491 315,494 315,495 315,494 315,498 315,497 315,491 315,489 316,495 316,486 316,494 316,492 316,484 316,495 316,497 316,490 316,493 316,484 316,488 317,491 317,495 317,493 317,492 317,486 317,484 317,492 317,497 317,489 317,495 318,483 318,498 318,486 318,494 318,500 318,499 318,492 318,496 318,497 318,484 318,492 319,481 319,489 319,495 319,499 319,499 319,491 319,485 319,497 319,494 319,497 320,476 320,488 320,489 320,488 320,494 320,490 320,481 320,489 320,491 320,490 320,486 321,493 321,492 321,481 321,489 321,490 321,493 321,495 321,496 321,491 321,490 322,494 322,496 322,494 322,491 322,488 322,490 322,480 322,494 322,488 322,492 323,490 323,475 323,497 323,490 323,492 323,488 323,498 323,492 323,490 323,496 323,496 324,495 324,495 324,497 324,493 324,495 324,493 324,496 324,496 324,487 324,481 325,487 325,497 325,492 325,496 325,492 325,487 325,496 325,490 325,486 325,489 325,491 326,490 326,492 326,497 326,494 326,495 326,492 326,493 326,497 326,487 326,492 327,492 327,490 327,493 327,490 327,492 327,491 327,486 327,493 327,488 327,490 327,492 328,481 328,490 328,497 328,492 328,493 328,492 328,492 328,496 328,489 328,490 329,495 329,487 329,493 329,495 329,495 329,485 329,480 329,485 329,490 329,493 329,487 330,492 330,488 330,497 330,490 330,488 330,493 330,490 330,481 330,494 330,491 331,489 331,490 331,494 331,491 331,493 331,493 331,492 331,499 331,484 331,488 331,496 332,491 332,493 332,483 332,498 332,486 332,497 332,494 332,492 332,489 332,494 333,494 333,494 333,486 333,487 333,491 333,493 333,491 333,498 333,492 333,493 334,494 334,496 334,483 334,484 334,489 334,481 334,490 334,490 334,491 334,493 334,491 335,486 335,483 335,495 335,494 335,494 335,491 335,485 335,494 335,499 335,489 336,490 336,495 336,494 336,492 336,485 336,475 336,495 336,492 336,490 336,492 336,493 337,483 337,494 337,494 337,498 337,496 337,494 337,490 337,489 337,492 337,485 338,495 338,496 338,489 338,486 338,489 338,493 338,494 338,491 338,486 338,497 338,488 339,493 339,495 339,494 339,497 339,484 339,488 339,494 339,493 339,487 339,496 340,493 340,494 340,493 340,484 340,490 340,495 340,498 340,485 340,495 340,485 340,488 341,485 341,487 341,494 341,484 341,490 341,487 341,492 341,496 341,489 341,488 342,495 342,494 342,491 342,491 342,486 342,493 342,490 342,490 342,498 342,485 342,485 343,491 343,491 343,489 343,493 343,491 343,486 343,486 343,488 343,493 343,489 344,490 344,488 344,482 344,483 344,493 344,492 344,492 344,487 344,494 344,491 345,490 345,490 345,488 345,494 345,489 345,491 345,489 345,488 345,484 345,482 345,491 346,491 346,497 346,494 346,491 346,484 346,475 346,491 346,498 346,487 346,486 347,488 347,486 347,481 347,478 347,487 347,488 347,489 347,485 347,487 347,490 347,493 348,493 348,485 348,488 348,490 348,493 348,492 348,489 348,490 348,491 348,487 349,488 349,481 349,485 349,496 349,491 349,492 349,494 349,501 349,489 349,491 349,487 350,489 350,489 350,495 350,477 350,489 350,489 350,490 350,492 350,493 350,497 351,492 351,489 351,493 351,485 351,482 351,495 351,490 351,490 351,488 351,497 351,492 352,489 352,482 352,493 352,488 352,490 352,489 352,492 352,490 352,489 352,488 353,493 353,486 353,492 353,488 353,489 353,492 353,495 353,483 353,493 353,489 353,490 354,491 354,492 354,490 354,490 354,492 354,494 354,486 354,488 354,495 354,495 355,492 355,489 355,490 355,497 355,494 355,492 355,491 355,489 355,486 355,494 356,489 356,496 356,491 356,495 356,490 356,487 356,491 356,483 356,491 356,492 356,492 357,480 357,489 357,496 357,490 357,491 357,482 357,471 357,496 357,492 357,494 358,491 358,497 358,488 358,490 358,492 358,492 358,490 358,491 358,488 358,486 358,490 359,491 359,486 359,495 359,490 359,485 359,478 359,487 359,493 359,494 359,493 360,487 360,490 360,484 360,496 360,484 360,476 360,493 360,494 360,482 360,485 360,488 361,487 361,486 361,493 361,488 361,487 361,485 361,497 361,488 361,495 361,487 362,492 362,489 362,494 362,490 362,488 362,496 362,494 362,483 362,480 362,490 362,493 363,491 363,480 363,489 363,489 363,487 363,488 363,493 363,493 363,484 363,490 364,491 364,482 364,493 364,486 364,476 364,486 364,493 364,485 364,487 364,487 364,497 365,486 365,495 365,491 365,486 365,489 365,495 365,484 365,481 365,490 365,488 366,490 366,489 366,490 366,495 366,491 366,480 366,491 366,482 366,488 366,497 367,487 367,493 367,491 367,492 367,492 367,489 367,487 367,487 367,491 367,493 367,482 368,492 368,484 368,476 368,480 368,483 368,495 368,486 368,492 368,490 368,484 369,481 369,488 369,492 369,490 369,487 369,495 369,486 369,497 369,490 369,494 369,485 370,483 370,488 370,490 370,485 370,491 370,484 370,489 370,484 370,487 370,480 371,490 371,497 371,488 371,491 371,481 371,487 371,487 371,473 371,482 371,486 371,488 372,487 372,486 372,487 372,479 372,493 372,492 372,484 372,490 372,490 372,491 373,489 373,493 373,493 373,488 373,487 373,493 373,488 373,487 373,486 373,493 373,495 374,488 374,494 374,493 374,482 374,494 374,491 374,490 374,492 374,493 374,488 375,491 375,487 375,493 375,489 375,491 375,491 375,483 375,491 375,485 375,495 376,490 376,493 376,492 376,489 376,485 376,489 376,491 376,490 376,488 376,482 376,492 377,484 377,492 377,488 377,485 377,499 377,491 377,488 377,494 377,481 377,490 378,492 378,494 378,491 378,491 378,489 378,493 378,495 378,494 378,494 378,493 378,487 379,482 379,485 379,489 379,491 379,488 379,489 379,484 379,487 379,483 379,489 380,490 380,490 380,491 380,491 380,491 380,486 380,484 380,491 380,481 380,487 380,490 381,490 381,485 381,494 381,495 381,490 381,489 381,481 381,488 381,488 381,490 382,487 382,488 382,488 382,489 382,494 382,483 382,484 382,477 382,490 382,489 382,498 383,485 383,486 383,490 383,491 383,490 383,475 383,496 383,492 383,489 383,491 384,490 384,489 384,492 384,487 384,495 384,483 384,492 384,476 384,487 384,490 384,493 385,491 385,489 385,490 385,490 385,490 385,488 385,489 385,479 385,491 385,491 386,492 386,489 386,490 386,494 386,490 386,496 386,491 386,497 386,481 386,482 387,485 387,492 387,488 387,487 387,493 387,489 387,493 387,485 387,492 387,490 387,490 388,484 388,488 388,488 388,490 388,487 388,489 388,488 388,486 388,484 388,495 389,489 389,488 389,488 389,486 389,495 389,486 389,488 389,478 389,489 389,494 389,490 390,494 390,478 390,492 390,483 390,489 390,495 390,489 390,487 390,494 390,488 391,484 391,493 391,484 391,490 391,489 391,483 391,494 391,485 391,487 391,489 391,494 392,486 392,488 392,488 392,489 392,484 392,489 392,474 392,486 392,489 392,479 393,489 393,491 393,492 393,488 393,492 393,489 393,486 393,487 393,482 393,491 393,493 394,489 394,484 394,476 394,493 394,489 394,487 394,484 394,490 394,489 394,487 395,491 395,488 395,486 395,487 395,478 395,486 395,492 395,489 395,483 395,482 395,489 396,491 396,472 396,483 396,492 396,491 396,493 396,492 396,485 396,490 396,488 397,489 397,483 397,491 397,492 397,486 397,485 397,487 397,487 397,480 397,490 398,488 398,491 398,487 398,478 398,490 398,489 398,488 398,478 398,488 398,474 398,484 399,491 399,493 399,489 399,482 399,495 399,488 399,482 399,487 399,483 399,497 400,484 400,485 400,483 400,486 400,480 400,487 400,492 400,487 400,491 400,486 400,486 401,489 401,486 401,492 401,488 401,489 401,487 401,484 401,489 401,484 401,490 402,493 402,477 402,488 402,482 402,491 402,486 402,491 402,494 402,479 402,486 402,492 403,484 403,487 403,483 403,476 403,478 403,489 403,484 403,484 403,487 403,483 404,491 404,485 404,482 404,489 404,485 404,491 404,497 404,483 404,487 404,489 404,485 405,488 405,489 405,488 405,488 405,495 405,488 405,492 405,490 405,480 405,479 406,491 406,491 406,484 406,494 406,488 406,487 406,495 406,485 406,484 406,475 406,482 407,492 407,495 407,488 407,490 407,493 407,481 407,493 407,483 407,490 407,489 408,485 408,473 408,491 408,484 408,494 408,491 408,482 408,490 408,492 408,489 409,492 409,485 409,489 409,485 409,490 409,488 409,490 409,484 409,482 409,481 409,492 410,487 410,496 410,489 410,487 410,489 410,490 410,489 410,484 410,487 410,490 411,479 411,484 411,485 411,487 411,478 411,491 411,493 411,479 411,489 411,493 411,484 412,487 412,493 412,495 412,487 412,480 412,493 412,492 412,483 412,486 412,478 413,489 413,480 413,486 413,488 413,485 413,484 413,490 413,489 413,492 413,482 413,491 414,491 414,493 414,488 414,491 414,488 414,484 414,485 414,481 414,490 414,485 415,493 415,493 415,489 415,485 415,486 415,492 415,489 415,491 415,487 415,491 415,487 416,480 416,494 416,475 416,485 416,486 416,488 416,492 416,491 416,486 416,493 417,491 417,492 417,488 417,488 417,494 417,488 417,476 417,490 417,488 417,488 417,485 418,489 418,490 418,497 418,490 418,479 418,483 418,496 418,475 418,482 418,492 419,480 419,493 419,487 419,491 419,483 419,492 419,478 419,489 419,487 419,491 420,490 420,490 420,481 420,488 420,490 420,483 420,485 420,487 420,489 420,490 420,480 421,486 421,488 421,487 421,489 421,490 421,481 421,490 421,487 421,492 421,490 422,483 422,490 422,487 422,487 422,490 422,492 422,492 422,485 422,488 422,481 422,494 423,483 423,488 423,490 423,490 423,491 423,484 423,486 423,491 423,489 423,479 424,489 424,482 424,487 424,480 424,486 424,493 424,480 424,487 424,483 424,481 424,491 425,487 425,487 425,490 425,488 425,493 425,493 425,488 425,480 425,493 425,495 426,486 426,489 426,482 426,487 426,491 426,490 426,481 426,483 426,484 426,494 426,490 427,488 427,491 427,482 427,494 427,478 427,487 427,491 427,485 427,492 427,484 428,483 428,478 428,487 428,484 428,486 428,484 428,483 428,488 428,489 428,481 429,487 429,489 429,481 429,484 429,479 429,483 429,488 429,488 429,481 429,491 429,487 430,485 430,492 430,486 430,488 430,484 430,486 430,492 430,484 430,480 430,489 431,487 431,488 431,485 431,486 431,484 431,484 431,485 431,482 431,483 431,490 431,485 432,484 432,485 432,493 432,486 432,491 432,484 432,487 432,489 432,495 432,485 433,479 433,486 433,486 433,489 433,492 433,490 433,487 433,480 433,487 433,489 433,488 434,489 434,482 434,482 434,475 434,486 434,484 434,489 434,490 434,483 434,484 435,491 435,491 435,479 435,485 435,489 435,484 435,489 435,471 435,483 435,488 435,474 436,486 436,484 436,478 436,493 436,481 436,491 436,491 436,492 436,480 436,488 437,489 437,494 437,491 437,491 437,485 437,478 437,487 437,484 437,486 437,481 437,488 438,490 438,494 438,490 438,473 438,488 438,482 438,491 438,483 438,486 438,486 439,489 439,487 439,489 439,491 439,491 439,485 439,484 439,490 439,483 439,482 440,479 440,490 440,486 440,488 440,491 440,486 440,490 440,487 440,485 440,490 440,488 441,474 441,484 441,493 441,482 441,490 441,486 441,488 441,481 441,486 441,485 442,482 442,486 442,479 442,486 442,489 442,487 442,480 442,491 442,482 442,484 442,488 443,481 443,491 443,481 443,489 443,481 443,491 443,485 443,485 443,475 443,477 444,487 444,488 444,490 444,487 444,477 444,488 444,492 444,481 444,494 444,484 444,494 445,494 445,485 445,486 445,485 445,483 445,482 445,485 445,493 445,493 445,489 446,490 446,486 446,487 446,479 446,482 446,487 446,485 446,483 446,484 446,485 446,475 447,483 447,480 447,485 447,486 447,485 447,488 447,480 447,491 447,490 447,480 448,485 448,486 448,486 448,489 448,491 448,489 448,488 448,484 448,474 448,492 448,486 449,484 449,492 449,489 449,489 449,486 449,484 449,490 449,490 449,479 449,482 450,483 450,480 450,491 450,487 450,488 450,489 450,485 450,481 450,489 450,485 451,483 451,486 451,484 451,486 451,483 451,479 451,492 451,480 451,487 451,486 451,481 452,488 452,487 452,487 452,476 452,477 452,478 452,491 452,486 452,486 452,486 453,487 453,491 453,485 453,486 453,482 453,487 453,479 453,483 453,483 453,483 453,484 454,489 454,491 454,484 454,482 454,488 454,486 454,482 454,488 454,483 454,493 455,484 455,481 455,470 455,487 455,483 455,481 455,488 455,485 455,480 455,492 455,484 456,488 456,492 456,489 456,483 456,491 456,487 456,485 456,480 456,485 456,488 457,478 457,488 457,480 457,490 457,489 457,477 457,487 457,475 457,485 457,490 457,477 458,486 458,490 458,479 458,480 458,494 458,482 458,479 458,489 458,489 458,477 459,490 459,473 459,481 459,488 459,490 459,483 459,485 459,484 459,485 459,493 459,483 460,488 460,492 460,482 460,484 460,485 460,483 460,489 460,491 460,486 460,489 461,488 461,487 461,481 461,488 461,475 461,488 461,484 461,485 461,485 461,486 462,483 462,487 462,487 462,491 462,480 462,488 462,481 462,486 462,489 462,475 462,482 463,487 463,482 463,481 463,479 463,479 463,489 463,485 463,471 463,487 463,485 464,492 464,488 464,490 464,492 464,484 464,488 464,483 464,487 464,484 464,479 464,484 465,486 465,481 465,486 465,488 465,490 465,481 465,479 465,488 465,489 465,486 466,480 466,481 466,485 466,486 466,481 466,479 466,489 466,484 466,483 466,486 466,486 467,486 467,475 467,480 467,483 467,473 467,479 467,481 467,489 467,484 467,476 468,481 468,487 468,490 468,486 468,484 468,491 468,491 468,482 468,487 468,486 468,479 469,489 469,488 469,485 469,478 469,492 469,487 469,484 469,486 469,486 469,487 470,483 470,480 470,488 470,486 470,481 470,489 470,483 470,490 470,488 470,487 470,483 471,482 471,485 471,489 471,485 471,483 471,478 471,487 471,486 471,487 471,485 472,482 472,489 472,486 472,485 472,485 472,487 472,487 472,478 472,488 472,483 473,489 473,487 473,488 473,486 473,486 473,485 473,486 473,484 473,486 473,478 473,478 474,491 474,474 474,483 474,485 474,486 474,489 474,486 474,488 474,481 474,487 475,481 475,481 475,478 475,480 475,490 475,481 475,488 475,488 475,484 475,488 475,485 476,486 476,482 476,489 476,488 476,490 476,484 476,483 476,483 476,486 476,485 477,486 477,487 477,482 477,481 477,481 477,481 477,487 477,482 477,482 477,471 477,488 478,481 478,482 478,481 478,487 478,479 478,477 478,490 478,489 478,488 478,486 479,490 479,483 479,484 479,485 479,482 479,488 479,492 479,483 479,484 479,491 479,477 480,486 480,484 480,483 480,486 480,487 480,483 480,485 480,491 480,479 480,481 481,485 481,490 481,480 481,472 481,482 481,481 481,489 481,480 481,484 481,489 481,484 482,473 482,480 482,488 482,487 482,467 482,485 482,486 482,481 482,482 482,490 483,486 483,489 483,484 483,489 483,476 483,487 483,483 483,473 483,481 483,480 484,486 484,488 484,488 484,489 484,483 484,490 484,488 484,479 484,486 484,481 484,489 485,487 485,480 485,485 485,477 485,489 485,489 485,485 485,485 485,478 485,481 486,482 486,483 486,484 486,481 486,484 486,484 486,483 486,473 486,483 486,480 486,488 487,481 487,488 487,469 487,487 487,486 487,477 487,479 487,486 487,477 487,487 488,484 488,479 488,479 488,481 488,486 488,479 488,486 488,489 488,487 488,484 488,487 489,488 489,482 489,478 489,482 489,485 489,483 489,486 489,470 489,489 489,489 490,485 490,482 490,490 490,485 490,480 490,483 490,490 490,483 490,487 490,485 490,483 491,487 491,480 491,486 491,478 491,485 491,490 491,481 491,492 491,488 491,485 492,482 492,481 492,484 492,482 492,486 492,481 492,482 492,481 492,477 492,485 493,488 493,484 493,487 493,474 493,482 493,478 493,483 493,480 493,473 493,488 493,482 494,476 494,484 494,482 494,485 494,486 494,476 494,486 494,487 494,481 494,484 495,480 495,478 495,482 495,487 495,481 495,489 495,485 495,486 495,474 495,483 495,486 496,487 496,482 496,473 496,484 496,488 496,485 496,484 496,483 496,485 496,485 497,482 497,485 497,485 497,481 497,483 497,483 497,485 497,485 497,488 497,482 497,485 498,484 498,486 498,482 498,480 498,482 498,476 498,481 498,481 498,486 498,486 499,485 499,479 499,486 499,483 499,482 499,485 499,484 499,485 499,482 499,481 499,487 500,487 500,484 500,481 500,478 500,476 500,470 500,488 500,468 500,481 500,485 501,486 501,485 501,484 501,482 501,488 501,485 501,482 501,485 501,483 501,483 501,484 502,488 502,482 502,485 502,481 502,492 502,481 502,480 502,482 502,486 502,473 503,485 503,488 503,480 503,484 503,485 503,481 503,488 503,485 503,483 503,481 504,483 504,479 504,488 504,482 504,486 504,475 504,478 504,484 504,484 504,477 504,476 505,480 505,483 505,484 505,481 505,483 505,489 505,489 505,484 505,487 505,486 506,490 506,477 506,483 506,487 506,485 506,483 506,487 506,480 506,474 506,485 506,477 507,487 507,482 507,481 507,477 507,477 507,480 507,485 507,476 507,486 507,483 508,481 508,471 508,486 508,483 508,481 508,485 508,484 508,482 508,484 508,482 508,483 509,483 509,488 509,476 509,473 509,483 509,483 509,483 509,471 509,476 509,479 510,487 510,485 510,483 510,482 510,481 510,486 510,490 510,483 510,487 510,487 510,475 511,488 511,485 511,485 511,488 511,480 511,467 511,487 511,484 511,487 511,481 512,481 512,484 512,487 512,473 512,484 512,492 512,479 512,474 512,484 512,479 512,486 513,486 513,479 513,480 513,479 513,475 513,485 513,481 513,485 513,487 513,480 514,473 514,490 514,487 514,479 514,485 514,481 514,480 514,487 514,480 514,490 515,471 515,485 515,485 515,478 515,481 515,491 515,475 515,490 515,483 515,485 515,479 516,481 516,486 516,467 516,480 516,488 516,482 516,479 516,488 516,480 516,482 517,481 517,466 517,477 517,475 517,480 517,489 517,477 517,486 517,483 517,479 517,478 518,483 518,488 518,484 518,482 518,482 518,481 518,484 518,486 518,482 518,488 519,487 519,483 519,486 519,477 519,475 519,481 519,477 519,482 519,476 519,481 519,485 520,479 520,474 520,484 520,479 520,462 520,481 520,469 520,487 520,486 520,483 521,486 521,477 521,481 521,485 521,483 521,488 521,479 521,482 521,480 521,485 521,477 522,477 522,476 522,486 522,488 522,479 522,476 522,477 522,487 522,475 522,478 523,482 523,483 523,478 523,478 523,475 523,478 523,478 523,471 523,480 523,478 523,470 524,476 524,471 524,478 524,472 524,476 524,479 524,480 524,480 524,483 524,479 525,477 525,461 525,456 525,477 525,479 525,477 525,477 525,467 525,469 525,475 526,455 526,468 526,482 526,473 526,479 526,475 526,473 526,475 526,477 526,460 526,475 527,477 527,469 527,456 527,462 527,472 527,462 527,471 527,471 527,464 527,469 528,468 528,465 528,470 528,466 528,461 528,462 528,473 528,466 528,468 528,466 528,470 529,469 529,471 529,467 529,464 529,471 529,474 529,469 529,465 529,464 529,470 530,469 530,469 530,471 530,469 530,463 530,471 530,475 530,454 530,471 530,473 530,470 531,466 531,467 531,472 531,470 531,460 531,472 531,470 531,471 531,474 531,471 532,457 532,475 532,469 532,472 532,466 532,470 532,469 532,467 532,468 532,470 532,471 533,466 533,474 533,468 533,471 533,473 533,465 533,474 533,469 533,472 533,475 534,460 534,468 534,467 534,465 534,467 534,457 534,470 534,469 534,465 534,464 534,470 535,468 535,471 535,465 535,464 535,470 535,473 535,465 535,464 535,459 535,454 536,469 536,472 536,472 536,460 536,467 536,468 536,467 536,458 536,473 536,468 537,467 537,469 537,469 537,469 537,467 537,468 537,471 537,470 537,472 537,459 537,458 538,458 538,471 538,470 538,466 538,465 538,470 538,467 538,462 538,472 538,474 539,460 539,465 539,467 539,466 539,469 539,468 539,464 539,469 539,472 539,474 539,468 540,471 540,466 540,465 540,453 540,468 540,473 540,471 540,473 540,459 540,471 541,471 541,467 541,462 541,467 541,467 541,469 541,464 541,455 541,467 541,465 541,470 542,465 542,464 542,470 542,471 542,467 542,465 542,471 542,464 542,462 542,466 543,468 543,464 543,469 543,474 543,472 543,456 543,464 543,472 543,455 543,458 543,470 544,464 544,459 544,467 544,460 544,471 544,466 544,462 544,468 544,464 544,467 545,469 545,466 545,474 545,469 545,467 545,466 545,464 545,460 545,471 545,458 546,466 546,465 546,459 546,470 546,472 546,471 546,462 546,464 546,464 546,469 546,464 547,468 547,471 547,460 547,466 547,469 547,461 547,465 547,464 547,470 547,475 548,456 548,475 548,465 548,469 548,469 548,455 548,467 548,465 548,467 548,463 548,464 549,465 549,466 549,473 549,469 549,466 549,467 549,471 549,465 549,461 549,473 550,466 550,469 550,464 550,469 550,470 550,463 550,463 550,472 550,461 550,454 550,468 551,472 551,466 551,461 551,472 551,459 551,461 551,463 551,466 551,467 551,460 552,463 552,461 552,467 552,462 552,464 552,462 552,472 552,460 552,452 552,468 552,464 553,468 553,459 553,472 553,457 553,469 553,462 553,464 553,464 553,468 553,469 554,462 554,459 554,471 554,468 554,473 554,469 554,461 554,462 554,467 554,466 554,467 555,470 555,459 555,466 555,459 555,458 555,462 555,463 555,467 555,462 555,465 556,458 556,465 556,460 556,457 556,472 556,460 556,469 556,461 556,469 556,461 557,462 557,469 557,460 557,461 557,464 557,463 557,464 557,472 557,465 557,468 557,465 558,466 558,459 558,468 558,465 558,472 558,469 558,467 558,459 558,470 558,468 559,469 559,469 559,463 559,463 559,463 559,469 559,464 559,460 559,464 559,456 559,471 560,464 560,462 560,462 560,468 560,469 560,462 560,462 560,467 560,465 560,466 561,465 561,466 561,453 561,468 561,469 561,459 561,468 561,463 561,461 561,452 561,458 562,463 562,465 562,464 562,458 562,461 562,466 562,460 562,465 562,463 562,463 563,466 563,470 563,472 563,455 563,468 563,466 563,468 563,467 563,468 563,464 563,467 564,466 564,465 564,465 564,466 564,472 564,467 564,470 564,454 564,461 564,456 565,468 565,460 565,459 565,468 565,468 565,464 565,465 565,464 565,468 565,463 565,465 566,467 566,456 566,473 566,464 566,468 566,467 566,464 566,461 566,466 566,463 567,460 567,474 567,462 567,459 567,465 567,463 567,468 567,465 567,466 567,466 568,454 568,468 568,464 568,461 568,469 568,452 568,463 568,468 568,460 568,463 568,459 569,466 569,464 569,472 569,466 569,468 569,460 569,468 569,460 569,468 569,464 570,472 570,467 570,465 570,464 570,473 570,465 570,465 570,464 570,464 570,465 570,454 571,466 571,462 571,463 571,465 571,464 571,470 571,458 571,467 571,471 571,466 572,463 572,467 572,464 572,469 572,469 572,466 572,467 572,463 572,463 572,465 572,457 573,467 573,464 573,460 573,465 573,462 573,465 573,469 573,465 573,466 573,464 574,458 574,459 574,463 574,464 574,464 574,469 574,456 574,463 574,467 574,463 574,467 575,467 575,463 575,465 575,463 575,464 575,466 575,461 575,455 575,463 575,469 576,467 576,473 576,466 576,463 576,453 576,461 576,467 576,465 576,461 576,464 576,466 577,465 577,454 577,453 577,457 577,469 577,469 577,465 577,463 577,468 577,458 578,468 578,462 578,467 578,464 578,464 578,459 578,461 578,458 578,462 578,466 579,464 579,459 579,466 579,463 579,465 579,451 579,465 579,463 579,465 579,462 579,465 580,464 580,460 580,461 580,460 580,464 580,466 580,461 580,462 580,469 580,462 581,464 581,465 581,465 581,468 581,464 581,465 581,463 581,470 581,460 581,466 581,469 582,457 582,462 582,463 582,468 582,463 582,470 582,467 582,468 582,459 582,463 583,468 583,453 583,451 583,472 583,468 583,465 583,467 583,468 583,472 583,462 583,463 584,458 584,458 584,464 584,463 584,471 584,465 584,464 584,462 584,464 584,457 585,463 585,468 585,463 585,457 585,464 585,462 585,463 585,467 585,458 585,463 585,468 586,469 586,468 586,460 586,466 586,463 586,459 586,461 586,468 586,461 586,467 587,464 587,459 587,459 587,457 587,459 587,463 587,463 587,466 587,469 587,464 587,465 588,456 588,468 588,468 588,455 588,469 588,469 588,462 588,466 588,466 588,470 589,462 589,467 589,464 589,458 589,465 589,459 589,461 589,461 589,465 589,463 590,462 590,465 590,463 590,464 590,462 590,469 590,464 590,464 590,469 590,467 590,467 591,459 591,468 591,468 591,463 591,463 591,469 591,469 591,460 591,466 591,464 592,467 592,470 592,461 592,466 592,467 592,455 592,463 592,456 592,461 592,463 592,459 593,463 593,462 593,463 593,463 593,466 593,456 593,465 593,465 593,453 593,459 594,454 594,469 594,462 594,444 594,467 594,461 594,470 594,461 594,464 594,466 594,462 595,460 595,470 595,468 595,468 595,465 595,463 595,457 595,460 595,456 595,463 596,470 596,465 596,460 596,467 596,455 596,466 596,464 596,459 596,456 596,465 596,465 597,460 597,461 597,465 597,456 597,464 597,469 597,462 597,463 597,466 597,456 598,464 598,461 598,455 598,470 598,455 598,463 598,464 598,466 598,469 598,459 598,462 599,467 599,467 599,467 599,459 599,459 599,460 599,465 599,464 599,463 599,466 600,463 600,462 600,461 600,469 600,468 600,467 600,449 600,466 600,465 600,447 601,462 601,462 601,461 601,450 601,459 601,460 601,465 601,461 601,456 601,460 601,466 602,464 602,461 602,463 602,469 602,465 602,467 602,472 602,459 602,465 602,457 603,458 603,459 603,459 603,453 603,472 603,470 603,461 603,454 603,456 603,465 603,459 604,463 604,460 604,466 604,459 604,466 604,460 604,466 604,467 604,467 604,458 605,450 605,463 605,460 605,468 605,457 605,461 605,471 605,466 605,462 605,465 605,463 606,461 606,461 606,465 606,467 606,463 606,465 606,468 606,465 606,465 606,467 607,464 607,461 607,466 607,465 607,466 607,458 607,460 607,465 607,466 607,458 607,461 608,464 608,463 608,462 608,461 608,466 608,462 608,456 608,465 608,451 608,458 609,464 609,462 609,464 609,461 609,467 609,466 609,465 609,467 609,460 609,461 610,466 610,469 610,468 610,461 610,458 610,457 610,464 610,463 610,467 610,463 610,465 611,462 611,458 611,462 611,452 611,468 611,468 611,458 611,467 611,460 611,465 612,453 612,460 612,460 612,465 612,451 612,462 612,463 612,464 612,471 612,458 612,459 613,461 613,461 613,468 613,458 613,460 613,456 613,458 613,465 613,459 613,465 614,465 614,466 614,471 614,466 614,469 614,462 614,466 614,460 614,454 614,455 614,464 615,463 615,461 615,451 615,467 615,463 615,453 615,457 615,459 615,460 615,464 616,462 616,463 616,457 616,461 616,470 616,451 616,468 616,463 616,463 616,466 616,457 617,455 617,470 617,459 617,461 617,467 617,465 617,466 617,465 617,457 617,469 618,464 618,460 618,461 618,461 618,457 618,464 618,457 618,460 618,464 618,460 618,462 619,464 619,455 619,461 619,465 619,463 619,463 619,458 619,462 619,466 619,465 620,456 620,467 620,464 620,460 620,470 620,456 620,462 620,464 620,459 620,465 621,462 621,458 621,465 621,465 621,468 621,465 621,460 621,465 621,462 621,458 621,450 622,460 622,460 622,446 622,464 622,465 622,465 622,452 622,463 622,462 622,467 623,458 623,460 623,457 623,462 623,461 623,460 623,463 623,462 623,460 623,464 623,468 624,460 624,464 624,462 624,467 624,463 624,463 624,462 624,460 624,460 624,462 625,459 625,465 625,460 625,457 625,460 625,464 625,463 625,459 625,463 625,469 625,459 626,466 626,453 626,463 626,464 626,462 626,459 626,465 626,466 626,466 626,465 627,456 627,465 627,468 627,468 627,453 627,464 627,466 627,458 627,462 627,453 627,461 628,466 628,464 628,456 628,458 628,467 628,469 628,460 628,460 628,463 628,461 629,464 629,459 629,456 629,459 629,462 629,465 629,468 629,465 629,462 629,464 629,456 630,457 630,460 630,457 630,464 630,468 630,456 630,462 630,459 630,469 630,463 631,463 631,459 631,457 631,463 631,464 631,458 631,460 631,449 631,463 631,463 632,467 632,465 632,463 632,457 632,461 632,463 632,462 632,465 632,466 632,469 632,462 633,463 633,453 633,465 633,458 633,456 633,457 633,463 633,456 633,461 633,463 634,466 634,470 634,446 634,465 634,462 634,468 634,458 634,458 634,463 634,461 634,459 635,468 635,468 635,466 635,461 635,461 635,469 635,458 635,467 635,463 635,460 636,453 636,453 636,465 636,465 636,456 636,462 636,459 636,461 636,461 636,458 636,459 637,461 637,460 637,466 637,458 637,461 637,467 637,466 637,463 637,460 637,459 638,461 638,458 638,466 638,457 638,466 638,461 638,467 638,454 638,456 638,460 638,460 639,463 639,461 639,461 639,452 639,464 639,462 639,462 639,460 639,468 639,463 640,461 640,456 640,457 640,466 640,447 640,465 640,447 640,459 640,450 640,460 640,465 641,463 641,465 641,451 641,456 641,458 641,465 641,459 641,465 641,464 641,458 642,468 642,444 642,458 642,466 642,464 642,460 642,461 642,463 642,463 642,457 643,463 643,459 643,465 643,457 643,462 643,464 643,463 643,461 643,461 643,464 643,459 644,461 644,462 644,461 644,463 644,464 644,457 644,468 644,466 644,465 644,455 645,469 645,453 645,466 645,460 645,465 645,456 645,466 645,467 645,463 645,462 645,447 646,461 646,463 646,462 646,465 646,459 646,468 646,463 646,461 646,462 646,459 647,462 647,457 647,455 647,462 647,468 647,462 647,466 647,461 647,459 647,457 647,467 648,465 648,461 648,471 648,466 648,459 648,461 648,467 648,461 648,460 648,468 649,468 649,454 649,462 649,471 649,457 649,462 649,448 649,465 649,457 649,460 649,461 650,459 650,460 650,467 650,459 650,459 650,445 650,464 650,468 650,462 650,465 651,461 651,461 651,463 651,461 651,463 651,464 651,463 651,458 651,451 651,466 651,463 652,455 652,452 652,467 652,457 652,457 652,464 652,459 652,461 652,463 652,467 653,462 653,461 653,459 653,452 653,461 653,461 653,467 653,456 653,463 653,464 654,456 654,468 654,460 654,465 654,457 654,456 654,460 654,466 654,466 654,462 654,459 655,441 655,465 655,462 655,454 655,458 655,463 655,455 655,462 655,463 655,450 656,448 656,462 656,459 656,468 656,454 656,461 656,462 656,463 656,469 656,463 656,459 657,458 657,458 657,460 657,461 657,463 657,451 657,460 657,464 657,459 657,466 658,464 658,448 658,464 658,463 658,458 658,458 658,468 658,464 658,465 658,464 658,462 659,464 659,455 659,467 659,461 659,459 659,465 659,456 659,457 659,466 659,461 660,466 660,458 660,463 660,465 660,464 660,461 660,450 660,466 660,459 660,459 660,464 661,456 661,455 661,463 661,459 661,462 661,457 661,463 661,465 661,456 661,452 662,461 662,463 662,459 662,461 662,459 662,463 662,466 662,463 662,462 662,462 662,466 663,463 663,466 663,459 663,455 663,459 663,468 663,460 663,452 663,463 663,465 664,464 664,465 664,465 664,459 664,464 664,461 664,464 664,470 664,464 664,465 665,450 665,463 665,465 665,458 665,466 665,461 665,464 665,466 665,464 665,461 665,464 666,461 666,465 666,461 666,460 666,455 666,460 666,464 666,453 666,460 666,460 667,461 667,461 667,460 667,454 667,450 667,460 667,464 667,469 667,453 667,464 667,461 668,460 668,458 668,453 668,461 668,464 668,459 668,454 668,467 668,460 668,465 669,459 669,461 669,465 669,464 669,465 669,462 669,453 669,460 669,459 669,463 669,465 670,457 670,444 670,457 670,465 670,468 670,455 670,466 670,459 670,463 670,462 671,467 671,454 671,453 671,459 671,459 671,455 671,459 671,463 671,456 671,467 671,463 672,464 672,459 672,459 672,463 672,465 672,469 672,464 672,467 672,460 672,461 673,466 673,464 673,466 673,455 673,462 673,453 673,456 673,456 673,461 673,460 674,458 674,463 674,458 674,456 674,460 674,454 674,459 674,453 674,466 674,464 674,465 675,460 675,449 675,456 675,461 675,466 675,459 675,465 675,465 675,460 675,456 676,455 676,461 676,455 676,467 676,454 676,463 676,470 676,465 676,460 676,457 676,465 677,456 677,461 677,452 677,462 677,455 677,449 677,461 677,461 677,465 677,462 678,462 678,455 678,464 678,466 678,467 678,465 678,457 678,460 678,457 678,460 678,464 679,462 679,463 679,461 679,460 679,460 679,464 679,464 679,465 679,461 679,454 680,458 680,459 680,460 680,461 680,446 680,460 680,459 680,465 680,465 680,465 680,465 681,459 681,465 681,463 681,464 681,463 681,454 681,463 681,472 681,465 681,461 682,464 682,453 682,463 682,462 682,460 682,459 682,462 682,461 682,451 682,465 682,458 683,455 683,466 683,449 683,465 683,463 683,466 683,468 683,461 683,458 683,453 684,466 684,462 684,459 684,459 684,456 684,461 684,458 684,464 684,460 684,457 685,458 685,464 685,462 685,464 685,454 685,455 685,456 685,451 685,450 685,466 685,461 686,463 686,452 686,455 686,457 686,462 686,459 686,454 686,464 686,457 686,455 687,456 687,457 687,460 687,457 687,456 687,456 687,461 687,463 687,455 687,451 687,462 688,459 688,462 688,458 688,460 688,460 688,457 688,464 688,454 688,458 688,467 689,461 689,462 689,467 689,463 689,459 689,466 689,455 689,460 689,463 689,457 689,468 690,461 690,454 690,460 690,464 690,457 690,459 690,462 690,463 690,464 690,452 691,460 691,463 691,464 691,462 691,462 691,464 691,462 691,467 691,462 691,463 691,460 692,462 692,461 692,462 692,452 692,461 692,453 692,459 692,461 692,460 692,460 693,450 693,461 693,462 693,462 693,452 693,462 693,468 693,463 693,457 693,459 693,460 694,463 694,461 694,459 694,464 694,463 694,460 694,458 694,461 694,454 694,465 695,457 695,462 695,457 695,464 695,462 695,463 695,462 695,444 695,454 695,452 696,461 696,462 696,462 696,467 696,457 696,458 696,456 696,448 696,462 696,468 696,463 697,462 697,461 697,462 697,466 697,462 697,462 697,464 697,456 697,457 697,459 698,458 698,456 698,452 698,464 698,457 698,458 698,465 698,461 698,457 698,460 698,462 699,463 699,467 699,454 699,453 699,470 699,462 699,462 699,464 699,458 699,460 700,465 700,449 700,448 700,460 700,465 700,458 700,461 700,458 700,459 700,459 700,454 701,455 701,457 701,461 701,462 701,461 701,462 701,461 701,461 701,460 701,456 702,459 702,462 702,453 702,463 702,464 702,452 702,454 702,463 702,467 702,460 702,454 703,464 703,463 703,461 703,456 703,459 703,461 703,453 703,466 703,464 703,461 704,457 704,461 704,457 704,457 704,459 704,457 704,463 704,462 704,461 704,457 704,463 705,463 705,463 705,459 705,462 705,460 705,460 705,461 705,451 705,460 705,458 706,462 706,460 706,460 706,456 706,457 706,459 706,454 706,461 706,455 706,461 707,460 707,456 707,459 707,462 707,460 707,459 707,453 707,452 707,462 707,456 707,460 708,463 708,464 708,461 708,452 708,463 708,458 708,461 708,459 708,457 708,460 709,454 709,460 709,463 709,459 709,461 709,466 709,461 709,461 709,460 709,465 709,464 710,460 710,451 710,461 710,464 710,457 710,461 710,460 710,465 710,459 710,464 711,462 711,460 711,453 711,462 711,467 711,462 711,460 711,453 711,459 711,456 711,463 712,464 712,459 712,462 712,461 712,458 712,460 712,449 712,464 712,463 712,458 713,458 713,459 713,463 713,454 713,461 713,449 713,456 713,463 713,459 713,457 713,457 714,459 714,462 714,456 714,468 714,467 714,460 714,463 714,458 714,450 714,464 715,458 715,460 715,458 715,455 715,459 715,462 715,459 715,464 715,459 715,453 715,457 716,463 716,452 716,458 716,463 716,460 716,460 716,469 716,454 716,464 716,461 717,456 717,456 717,457 717,463 717,457 717,455 717,459 717,455 717,460 717,460 718,460 718,452 718,458 718,466 718,452 718,459 718,457 718,462 718,459 718,458 718,462 719,462 719,457 719,449 719,463 719,450 719,460 719,455 719,461 719,460 719,459 720,463 720,458 720,459 720,458 720,454 720,450 720,461 720,460 720,463 720,449 720,459 721,460 721,454 721,461 721,460 721,448 721,461 721,455 721,456 721,461 721,455 722,460 722,459 722,454 722,451 722,459 722,464 722,463 722,454 722,462 722,463 722,465 723,461 723,465 723,452 723,468 723,465 723,458 723,460 723,447 723,458 723,465 724,462 724,460 724,458 724,460 724,458 724,454 724,461 724,454 724,454 724,464 724,456 725,455 725,461 725,459 725,459 725,455 725,466 725,455 725,459 725,457 725,457 726,457 726,463 726,460 726,461 726,464 726,452 726,454 726,459 726,456 726,454 727,463 727,460 727,458 727,450 727,462 727,461 727,458 727,457 727,459 727,458 727,459 728,453 728,459 728,465 728,455 728,463 728,457 728,459 728,456 728,464 728,458 729,457 729,460 729,458 729,460 729,455 729,457 729,459 729,460 729,456 729,459 729,451 730,462 730,460 730,460 730,463 730,460 730,458 730,456 730,458 730,451 730,461 731,460 731,465 731,456 731,463 731,457 731,459 731,440 731,457 731,462 731,460 731,459 732,445 732,464 732,446 732,461 732,459 732,460 732,459 732,459 732,466 732,461 733,465 733,459 733,455 733,461 733,454 733,457 733,462 733,455 733,449 733,459 733,455 734,461 734,463 734,455 734,456 734,460 734,464 734,466 734,460 734,459 734,458 735,442 735,456 735,461 735,462 735,455 735,451 735,459 735,461 735,453 735,454 735,463 736,460 736,454 736,456 736,455 736,460 736,461 736,463 736,459 736,454 736,454 737,460 737,462 737,455 737,458 737,459 737,459 737,451 737,458 737,462 737,463 738,444 738,457 738,462 738,459 738,455 738,456 738,453 738,443 738,462 738,459 738,452 739,459 739,462 739,458 739,460 739,460 739,457 739,456 739,454 739,459 739,460 740,456 740,458 740,448 740,455 740,461 740,459 740,462 740,447 740,466 740,444 740,446 741,459 741,454 741,451 741,459 741,456 741,466 741,454 741,460 741,457 741,462 742,462 742,459 742,454 742,456 742,460 742,462 742,461 742,459 742,460 742,463 742,451 743,448 743,458 743,460 743,463 743,461 743,452 743,459 743,454 743,460 743,454 744,459 744,452 744,453 744,459 744,460 744,460 744,450 744,454 744,454 744,457 744,462 745,457 745,461 745,452 745,459 745,457 745,441 745,451 745,460 745,461 745,454 746,458 746,458 746,461 746,452 746,459 746,457 746,461 746,457 746,456 746,460 746,457 747,461 747,463 747,455 747,456 747,454 747,456 747,462 747,457 747,447 747,452 748,463 748,452 748,451 748,458 748,456 748,457 748,455 748,461 748,454 748,454 749,462 749,457 749,459 749,461 749,460 749,460 749,459 749,461 749,458 749,446 749,457 750,459 750,464 750,453 750,457 750,462 750,451 750,450 750,448 750,460 750,462 751,449 751,459 751,454 751,454 751,456 751,452 751,450 751,463 751,459 751,458 751,459 752,459 752,454 752,465 752,450 752,457 752,458 752,462 752,453 752,458 752,462 753,456 753,462 753,452 753,461 753,463 753,458 753,456 753,455 753,462 753,458 753,461 754,458 754,459 754,455 754,454 754,456 754,462 754,455 754,455 754,461 754,454 755,447 755,462 755,460 755,443 755,456 755,452 755,460 755,459 755,461 755,455 755,462 756,459 756,448 756,450 756,459 756,454 756,454 756,458 756,452 756,454 756,452 757,462 757,456 757,463 757,460 757,451 757,461 757,454 757,459 757,459 757,441 757,453 758,461 758,452 758,455 758,458 758,452 758,457 758,462 758,447 758,452 758,456 759,455 759,450 759,449 759,438 759,456 759,461 759,457 759,457 759,459 759,453 760,459 760,456 760,448 760,464 760,458 760,454 760,457 760,442 760,455 760,449 760,456 761,454 761,460 761,456 761,444 761,456 761,458 761,454 761,456 761,463 761,460 762,456 762,457 762,459 762,449 762,459 762,456 762,454 762,455 762,452 762,461 762,457 763,460 763,462 763,458 763,462 763,456 763,455 763,451 763,453 763,456 763,454 764,460 764,454 764,460 764,446 764,445 764,456 764,461 764,460 764,455 764,459 764,456 765,458 765,456 765,460 765,458 765,453 765,454 765,456 765,457 765,456 765,460 766,461 766,457 766,455 766,457 766,460 766,461 766,460 766,454 766,458 766,453 766,461 767,453 767,451 767,443 767,455 767,454 767,456 767,459 767,458 767,454 767,461 768,456 768,462 768,463 768,451 768,455 768,460 768,462 768,457 768,452 768,461 768,455 769,459 769,458 769,462 769,461 769,444 769,453 769,447 769,459 769,457 769,455 770,441 770,450 770,459 770,456 770,456 770,455 770,458 770,458 770,451 770,454 771,461 771,456 771,458 771,455 771,456 771,456 771,458 771,459 771,457 771,444 771,458 772,462 772,459 772,460 772,459 772,452 772,454 772,458 772,460 772,453 772,454 773,460 773,455 773,458 773,456 773,458 773,460 773,462 773,453 773,462 773,455 773,460 774,456 774,456 774,447 774,460 774,456 774,456 774,464 774,447 774,457 774,460 775,457 775,459 775,462 775,457 775,463 775,462 775,457 775,459 775,454 775,452 775,458 776,455 776,464 776,454 776,461 776,459 776,456 776,457 776,460 776,455 776,464 777,457 777,451 777,452 777,459 777,456 777,460 777,457 777,455 777,457 777,454 777,457 778,446 778,457 778,455 778,459 778,455 778,452 778,459 778,461 778,456 778,454 779,456 779,460 779,453 779,457 779,458 779,459 779,459 779,457 779,455 779,452 779,452 780,460 780,460 780,462 780,448 780,463 780,457 780,461 780,453 780,449 780,457 781,453 781,442 781,460 781,453 781,447 781,456 781,453 781,452 781,455 781,461 782,459 782,451 782,453 782,459 782,460 782,457 782,453 782,456 782,453 782,460 782,462 783,457 783,457 783,458 783,454 783,456 783,458 783,455 783,462 783,461 783,458 784,458 784,453 784,463 784,456 784,447 784,459 784,458 784,455 784,459 784,459 784,459 785,453 785,454 785,454 785,458 785,461 785,464 785,457 785,462 785,457 785,448 786,450 786,452 786,461 786,461 786,452 786,455 786,454 786,444 786,450 786,458 786,453 787,455 787,458 787,455 787,459 787,462 787,451 787,453 787,458 787,455 787,459 788,450 788,444 788,452 788,458 788,449 788,458 788,454 788,458 788,455 788,456 788,462 789,455 789,458 789,457 789,459 789,459 789,457 789,454 789,443 789,458 789,456 790,458 790,461 790,458 790,459 790,453 790,456 790,452 790,456 790,457 790,458 791,455 791,464 791,457 791,458 791,458 791,461 791,459 791,457 791,460 791,447 791,444 792,458 792,461 792,451 792,457 792,460 792,451 792,462 792,451 792,455 792,450 793,454 793,454 793,452 793,452 793,457 793,463 793,460 793,457 793,456 793,453 793,446 794,455 794,458 794,457 794,453 794,459 794,454 794,461 794,459 794,454 794,458 795,453 795,458 795,458 795,458 795,454 795,462 795,459 795,454 795,450 795,460 795,462 796,456 796,462 796,451 796,455 796,453 796,461 796,440 796,459 796,456 796,460 797,460 797,458 797,457 797,452 797,461 797,456 797,460 797,448 797,462 797,445 797,459 798,450 798,458 798,457 798,458 798,456 798,452 798,460 798,457 798,453 798,457 799,459 799,458 799,452 799,458 799,455 799,446 799,448 799,453 799,455 799,451 799,460 800,457 800,459 800,462 800,455 800,440 800,451 800,456 800,459 800,461 800,452 801,451 801,454 801,459 801,447 801,463 801,456 801,457 801,458 801,461 801,449 802,460 802,463 802,453 802,449 802,460 802,460 802,458 802,458 802,455 802,455 802,461 803,456 803,455 803,454 803,460 803,453 803,457 803,460 803,456 803,456 803,454 804,460 804,453 804,466 804,456 804,458 804,458 804,456 804,453 804,452 804,453 804,458 805,451 805,446 805,456 805,458 805,454 805,457 805,452 805,459 805,453 805,459 806,457 806,461 806,459 806,461 806,460 806,442 806,459 806,452 806,453 806,460 806,455 807,462 807,460 807,451 807,456 807,444 807,447 807,444 807,444 807,460 807,456 808,459 808,455 808,452 808,456 808,458 808,459 808,460 808,457 808,461 808,454 808,455 809,446 809,455 809,448 809,454 809,458 809,452 809,462 809,457 809,464 809,460 810,461 810,453 810,453 810,460 810,460 810,444 810,458 810,457 810,459 810,459 810,460 811,458 811,454 811,457 811,461 811,458 811,460 811,458 811,446 811,451 811,453 812,461 812,461 812,461 812,461 812,464 812,453 812,458 812,461 812,454 812,457 813,459 813,454 813,458 813,462 813,456 813,442 813,458 813,460 813,455 813,447 813,458 814,450 814,458 814,453 814,459 814,460 814,451 814,457 814,459 814,449 814,460 815,456 815,454 815,455 815,446 815,462 815,460 815,451 815,464 815,461 815,451 815,460 816,458 816,453 816,459 816,447 816,453 816,449 816,452 816,460 816,455 816,461 817,454 817,457 817,454 817,459 817,456 817,450 817,460 817,448 817,459 817,464 817,447 818,450 818,459 818,454 818,458 818,446 818,455 818,456 818,455 818,449 818,457 819,455 819,452 819,441 819,456 819,457 819,452 819,456 819,455 819,454 819,450 819,453 820,455 820,453 820,456 820,456 820,457 820,456 820,456 820,462 820,452 820,458 821,458 821,449 821,457 821,450 821,452 821,453 821,456 821,456 821,451 821,451 821,447 822,449 822,455 822,453 822,458 822,459 822,446 822,454 822,451 822,453 822,456 823,461 823,449 823,452 823,454 823,449 823,452 823,456 823,451 823,451 823,456 824,449 824,453 824,461 824,454 824,454 824,457 824,454 824,442 824,457 824,460 824,451 825,455 825,451 825,449 825,454 825,458 825,460 825,458 825,458 825,459 825,452 826,449 826,459 826,453 826,462 826,456 826,446 826,453 826,458 826,451 826,460 826,457 827,455 827,460 827,440 827,458 827,456 827,460 827,457 827,451 827,457 827,451 828,454 828,455 828,453 828,455 828,451 828,446 828,460 828,456 828,444 828,449 828,451 829,461 829,449 829,455 829,452 829,451 829,454 829,459 829,455 829,459 829,441 830,454 830,461 830,456 830,458 830,461 830,453 830,458 830,456 830,463 830,458 830,453 831,446 831,449 831,455 831,452 831,461 831,461 831,457 831,454 831,453 831,458 832,455 832,463 832,453 832,457 832,459 832,461 832,455 832,460 832,459 832,452 832,455 833,447 833,454 833,454 833,448 833,449 833,450 833,452 833,457 833,462 833,458 834,462 834,450 834,461 834,456 834,458 834,458 834,452 834,451 834,460 834,458 835,456 835,459 835,460 835,453 835,453 835,461 835,457 835,460 835,457 835,457 835,459 836,450 836,456 836,456 836,458 836,457 836,457 836,455 836,443 836,459 836,457 837,443 837,456 837,452 837,458 837,458 837,458 837,451 837,455 837,447 837,460 837,459 838,458 838,448 838,456 838,459 838,452 838,454 838,457 838,458 838,461 838,461 839,458 839,458 839,458 839,457 839,457 839,463 839,455 839,459 839,460 839,450 839,452 840,454 840,460 840,449 840,457 840,459 840,456 840,458 840,456 840,452 840,452 841,452 841,449 841,456 841,448 841,453 841,452 841,451 841,452 841,458 841,455 841,452 842,455 842,457 842,451 842,458 842,454 842,459 842,456 842,458 842,457 842,450 843,455 843,454 843,458 843,450 843,448 843,445 843,453 843,450 843,447 843,443 844,457 844,454 844,450 844,463 844,447 844,453 844,455 844,454 844,456 844,451 844,452 845,459 845,450 845,460 845,453 845,459 845,459 845,454 845,458 845,434 845,456 846,451 846,459 846,454 846,455 846,455 846,450 846,458 846,447 846,454 846,459 846,449 847,456 847,459 847,450 847,460 847,451 847,458 847,455 847,452 847,456 847,453 848,461 848,453 848,455 848,453 848,454 848,459 848,456 848,461 848,455 848,451 848,455 849,453 849,455 849,457 849,459 849,449 849,451 849,455 849,461 849,446 849,456 850,460 850,459 850,456 850,453 850,457 850,458 850,455 850,456 850,451 850,453 850,459 851,451 851,460 851,449 851,452 851,457 851,457 851,448 851,443 851,457 851,458 852,463 852,457 852,455 852,457 852,456 852,451 852,452 852,456 852,457 852,457 852,452 853,457 853,457 853,453 853,453 853,458 853,456 853,463 853,447 853,456 853,461 854,455 854,452 854,451 854,458 854,456 854,458 854,456 854,456 854,448 854,453 855,447 855,451 855,462 855,450 855,451 855,460 855,451 855,454 855,460 855,454 855,451 856,457 856,457 856,458 856,456 856,450 856,448 856,458 856,454 856,458 856,460 857,454 857,460 857,456 857,438 857,461 857,457 857,462 857,450 857,451 857,449 857,454 858,449 858,459 858,454 858,449 858,460 858,442 858,456 858,454 858,456 858,454 859,458 859,457 859,456 859,437 859,456 859,455 859,456 859,444 859,456 859,453 859,455 860,452 860,458 860,457 860,453 860,454 860,456 860,452 860,458 860,453 860,452 861,454 861,458 861,444 861,453 861,453 861,456 861,457 861,456 861,455 861,450 861,458 862,455 862,457 862,450 862,458 862,457 862,450 862,446 862,443 862,453 862,457 863,451 863,452 863,459 863,455 863,453 863,450 863,461 863,454 863,455 863,457 863,444 864,439 864,452 864,444 864,443 864,457 864,446 864,454 864,459 864,461 864,448 865,455 865,452 865,453 865,460 865,458 865,450 865,447 865,455 865,452 865,458 866,455 866,456 866,457 866,453 866,444 866,447 866,459 866,456 866,445 866,453 866,449 867,459 867,456 867,455 867,443 867,455 867,457 867,449 867,452 867,448 867,456 868,453 868,440 868,458 868,458 868,454 868,465 868,457 868,457 868,452 868,453 868,454 869,460 869,457 869,451 869,457 869,449 869,460 869,453 869,452 869,453 869,454 870,458 870,459 870,457 870,458 870,448 870,436 870,459 870,448 870,455 870,452 870,449 871,452 871,455 871,462 871,459 871,453 871,455 871,451 871,459 871,450 871,443 872,460 872,451 872,454 872,460 872,455 872,458 872,456 872,449 872,454 872,457 872,453 873,451 873,440 873,459 873,458 873,455 873,453 873,441 873,456 873,448 873,452 874,460 874,453 874,449 874,459 874,454 874,446 874,453 874,450 874,459 874,456 874,451 875,453 875,453 875,447 875,454 875,454 875,451 875,458 875,453 875,448 875,456 876,456 876,449 876,449 876,455 876,451 876,455 876,457 876,454 876,458 876,457 877,446 877,448 877,456 877,454 877,451 877,454 877,452 877,454 877,460 877,452 877,451 878,455 878,454 878,453 878,452 878,458 878,460 878,452 878,457 878,448 878,451 879,454 879,456 879,456 879,453 879,454 879,446 879,448 879,456 879,453 879,452 879,456 880,455 880,456 880,446 880,454 880,448 880,453 880,450 880,457 880,456 880,454 881,459 881,458 881,456 881,455 881,447 881,456 881,450 881,450 881,452 881,451 881,453 882,453 882,455 882,451 882,458 882,443 882,453 882,456 882,455 882,451 882,454 883,445 883,461 883,454 883,449 883,454 883,455 883,455 883,437 883,451 883,453 883,451 884,455 884,453 884,453 884,453 884,450 884,457 884,452 884,450 884,449 884,457 885,461 885,461 885,449 885,449 885,452 885,457 885,450 885,458 885,453 885,454 885,454 886,456 886,447 886,454 886,453 886,456 886,453 886,432 886,448 886,456 886,459 887,454 887,454 887,457 887,458 887,458 887,455 887,449 887,460 887,449 887,450 888,450 888,455 888,453 888,447 888,456 888,454 888,451 888,454 888,439 888,458 888,456 889,450 889,451 889,451 889,450 889,447 889,444 889,454 889,451 889,455 889,452 890,452 890,436 890,449 890,453 890,452 890,449 890,451 890,440 890,453 890,449 890,451 891,454 891,453 891,453 891,455 891,458 891,459 891,458 891,449 891,452 891,457 892,456 892,455 892,454 892,453 892,457 892,440 892,453 892,436 892,454 892,456 892,458 893,452 893,458 893,454 893,455 893,446 893,457 893,454 893,453 893,457 893,456 894,456 894,457 894,458 894,449 894,448 894,443 894,455 894,450 894,455 894,458 894,461 895,457 895,456 895,456 895,457 895,456 895,451 895,451 895,450 895,455 895,455 896,458 896,451 896,450 896,454 896,457 896,455 896,456 896,447 896,454 896,453 896,454 897,457 897,451 897,458 897,454 897,451 897,456 897,458 897,455 897,456 897,457 898,454 898,456 898,455 898,454 898,450 898,458 898,456 898,450 898,454 898,458 899,451 899,440 899,450 899,453 899,450 899,447 899,457 899,459 899,453 899,459 899,456 900,453 900,450 900,448 900,449 900,446 900,456 900,449 900,452 900,444 900,447 901,455 901,451 901,451 901,443 901,448 901,449 901,456 901,458 901,453 901,451 901,455 902,457 902,442 902,456 902,452 902,455 902,456 902,451 902,449 902,453 902,456 903,446 903,456 903,460 903,451 903,446 903,459 903,453 282,180 582,251 753,322 828,387 323,432 449,427 551,425 727,420 764,416 803,415 610,484 529,446 479,456 410,457 405,462 440,461 747,430 754,434 772,435 646,434 656,434 668,438 622,437 628,442 583,445 780,436 807,432 851,430 871,427 883,435 817,436 826,436 840,439"/>
<polyline marker-start="url(#mo)" marker-mid="url(#mo)" marker-end="url(#mo)" points="129,521 129,515 129,524 129,520 129,521 130,518 130,512 130,530 130,518 130,522 130,529 130,527 130,524 130,526 130,520 131,526 131,519 131,523 131,518 131,524 131,525 131,524 131,518 131,527 131,526 131,532 132,514 132,523 132,518 132,531 132,524 132,521 132,520 132,525 132,522 132,524 133,524 133,523 133,522 133,520 133,534 133,526 133,522 133,518 133,519 133,521 133,526 134,515 134,520 134,523 134,521 134,527 134,520 134,535 134,516 134,516 134,531 134,537 135,517 135,536 135,519 135,529 135,527 135,524 135,520 135,534 135,531 135,534 136,527 136,524 136,531 136,541 136,523 136,512 136,516 136,523 136,515 136,517 136,533 137,523 137,517 137,518 137,522 137,521 137,528 137,527 137,517 137,523 137,523 138,522 138,524 138,518 138,535 138,525 138,526 138,527 138,521 138,521 138,531 138,525 139,522 139,524 139,521 139,523 139,523 139,534 139,517 139,527 139,520 139,532 140,523 140,517 140,520 140,519 140,515 140,528 140,525 140,513 140,521 140,529 140,517 141,520 141,521 141,517 141,517 141,522 141,521 141,529 141,527 141,519 141,521 141,520 142,519 142,524 142,521 142,540 142,518 142,521 142,523 142,527 142,523 142,527 143,529 143,524 143,523 143,517 143,533 143,522 143,528 143,524 143,521 143,530 143,517 144,528 144,528 144,525 144,521 144,527 144,521 144,520 144,522 144,528 144,518 145,518 145,531 145,521 145,520 145,522 145,522 145,522 145,521 145,520 145,520 145,515 146,527 146,525 146,520 146,530 146,521 146,522 146,523 146,520 146,525 146,516 147,534 147,528 147,528 147,522 147,518 147,514 147,521 147,516 147,524 147,511 147,522 148,517 148,522 148,524 148,527 148,515 148,521 148,520 148,526 148,532 148,534 148,523 149,522 149,519 149,530 149,522 149,521 149,525 149,522 149,521 149,524 149,533 150,520 150,530 150,517 150,524 150,530 150,527 150,525 150,532 150,523 150,526 150,522 151,520 151,520 151,529 151,527 151,525 151,517 151,521 151,514 151,530 151,524 152,522 152,518 152,521 152,519 152,530 152,529 152,531 152,515 152,519 152,516 152,517 153,519 153,521 153,523 153,518 153,526 153,525 153,528 153,519 153,522 153,518 153,518 154,520 154,518 154,519 154,516 154,523 154,521 154,519 154,517 154,521 154,518 155,520 155,534 155,536 155,528 155,521 155,515 155,524 155,520 155,518 155,530 155,523 156,520 156,522 156,518 156,530 156,531 156,517 156,524 156,524 156,511 156,515 157,522 157,517 157,519 157,524 157,517 157,521 157,541 157,519 157,525 157,520 157,528 158,522 158,522 158,519 158,523 158,516 158,517 158,518 158,515 158,528 158,520 159,519 159,526 159,519 159,532 159,529 159,519 159,515 159,520 159,527 159,515 159,519 160,515 160,531 160,523 160,522 160,544 160,521 160,515 160,519 160,528 160,526 160,518 161,519 161,524 161,535 161,531 161,521 161,520 161,519 161,522 161,515 161,527 162,520 162,534 162,522 162,524 162,529 162,530 162,524 162,525 162,531 162,520 162,525 163,521 163,521 163,532 163,524 163,534 163,528 163,516 163,521 163,520 163,521 164,527 164,531 164,520 164,523 164,526 164,520 164,519 164,532 164,537 164,524 164,518 165,519 165,533 165,524 165,537 165,528 165,522 165,529 165,524 165,524 165,523 166,520 166,518 166,519 166,529 166,524 166,527 166,521 166,528 166,522 166,520 166,519 167,520 167,518 167,533 167,530 167,519 167,521 167,533 167,528 167,536 167,521 167,519 168,531 168,522 168,531 168,527 168,521 168,515 168,517 168,519 168,532 168,519 169,523 169,526 169,537 169,518 169,527 169,516 169,524 169,522 169,517 169,519 169,519 170,517 170,514 170,526 170,526 170,523 170,520 170,519 170,519 170,527 170,520 171,517 171,521 171,523 171,520 171,524 171,530 171,520 171,511 171,518 171,521 171,518 172,525 172,511 172,519 172,525 172,525 172,540 172,520 172,518 172,516 172,527 173,524 173,520 173,525 173,522 173,518 173,520 173,519 173,531 173,524 173,527 173,520 174,517 174,522 174,523 174,518 174,517 174,524 174,521 174,522 174,520 174,532 174,529 175,519 175,518 175,520 175,522 175,525 175,523 175,528 175,521 175,525 175,517 176,524 176,519 176,523 176,526 176,524 176,531 176,516 176,514 176,523 176,529 176,519 177,538 177,515 177,522 177,532 177,523 177,522 177,525 177,523 177,517 177,522 178,523 178,528 178,522 178,535 178,522 178,526 178,519 178,522 178,513 178,524 178,519 179,518 179,515 179,532 179,515 179,518 179,520 179,528 179,527 179,517 179,524 180,518 180,516 180,521 180,520 180,522 180,520 180,521 180,528 180,520 180,524 180,518 181,522 181,521 181,519 181,524 181,524 181,520 181,528 181,523 181,514 181,517 181,516 182,525 182,527 182,531 182,526 182,516 182,525 182,520 182,534 182,526 182,523 183,524 183,525 183,515 183,524 183,527 183,531 183,523 183,523 183,518 183,528 183,522 184,524 184,522 184,537 184,515 184,518 184,520 184,514 184,522 184,521 184,529 185,520 185,522 185,521 185,527 186,573 186,575 186,568 186,567 186,571 186,574 186,570 186,569 186,570 187,572 187,569 187,567 187,571 187,580 187,573 187,569 187,582 187,568 187,567 188,565 188,571 188,573 188,571 188,568 188,569 188,568 188,573 188,568 188,573 188,568 189,564 189,566 189,579 189,566 189,569 189,570 189,565 189,568 189,563 189,568 190,572 190,565 190,566 190,566 190,567 190,568 190,566 190,570 190,562 190,577 190,564 191,569 191,570 191,565 191,564 191,564 191,566 191,577 191,566 191,563 191,576 192,569 192,576 192,569 192,578 192,575 192,577 192,570 192,572 192,564 192,571 192,567 193,563 193,566 193,562 193,564 193,570 193,570 193,568 193,559 193,564 193,570 194,565 194,566 194,573 194,568 194,568 194,573 194,562 194,564 194,576 194,563 195,568 195,562 195,568 195,564 195,576 195,562 195,568 195,566 195,562 195,567 195,567 196,559 196,562 196,563 196,567 196,576 196,565 196,564 196,573 196,574 196,567 197,567 197,566 197,563 197,565 197,572 197,581 197,562 197,563 197,565 197,567 197,570 198,560 198,563 198,579 198,569 198,581 198,567 198,567 198,562 198,570 198,559 199,568 199,568 199,565 199,565 199,562 199,580 199,570 199,560 199,568 199,568 199,565 200,565 200,570 200,564 200,567 200,576 200,571 200,567 200,575 200,564 200,564 201,577 201,567 201,578 201,573 201,563 201,567 201,585 201,566 201,567 201,570 201,563 202,576 202,578 202,559 202,568 202,566 202,563 202,570 202,560 202,576 202,566 203,579 203,565 203,572 203,562 203,560 203,560 203,561 203,562 203,560 203,566 203,559 204,565 204,563 204,570 204,566 204,565 204,564 204,564 204,560 204,562 204,566 205,563 205,566 205,568 205,562 205,566 205,567 205,563 205,578 205,564 205,568 206,559 206,570 206,560 206,561 206,574 206,563 206,565 206,559 206,562 206,566 206,563 207,558 207,561 207,568 207,574 207,565 207,565 207,563 207,560 207,561 207,562 208,562 208,561 208,559 208,568 208,563 208,557 208,565 208,558 208,561 208,560 208,561 209,560 209,560 209,574 209,567 209,562 209,578 209,560 209,571 209,562 209,574 210,563 210,570 210,570 210,558 210,560 210,561 210,566 210,575 210,562 210,561 210,560 211,565 211,562 211,562 211,560 211,564 211,557 211,561 211,564 211,569 211,563 212,566 212,562 212,564 212,564 212,566 212,561 212,567 212,562 212,564 212,565 212,564 213,562 213,580 213,565 213,558 213,561 213,571 213,563 213,562 213,562 213,566 214,569 214,562 214,563 214,560 214,562 214,562 214,561 214,568 214,561 214,570 214,568 215,564 215,563 215,567 215,565 215,559 215,566 215,561 215,559 215,561 215,560 216,560 216,564 216,562 216,564 216,562 216,566 216,566 216,559 216,568 216,568 217,558 217,563 217,575 217,572 217,557 217,582 217,559 217,562 217,561 217,565 217,569 218,572 218,568 218,563 218,563 218,576 218,566 218,565 218,575 218,562 218,558 219,565 219,566 219,559 219,566 219,561 219,561 219,565 219,573 219,565 219,563 219,567 220,561 220,565 220,560 220,562 220,568 220,558 220,584 220,570 220,557 220,565 221,560 221,559 221,571 221,565 221,559 221,561 221,561 221,562 221,557 221,565 221,570 222,567 222,560 222,559 222,556 222,563 222,569 222,563 222,562 222,562 222,559 223,563 223,573 223,563 223,567 223,560 223,571 223,566 223,561 223,558 223,566 223,561 224,567 224,574 224,559 224,564 224,560 224,564 224,558 224,567 224,558 224,572 225,568 225,570 225,564 225,562 225,566 225,557 225,560 225,570 225,560 225,566 225,563 226,564 226,565 226,556 226,562 226,560 226,565 226,556 226,564 226,565 226,559 227,570 227,583 227,564 227,564 227,567 227,562 227,556 227,559 227,572 227,564 228,563 228,558 228,556 228,559 228,555 228,563 228,558 228,563 228,565 228,562 228,562 229,560 229,571 229,555 229,572 229,560 229,555 229,559 229,560 229,560 229,558 230,568 230,560 230,562 230,558 230,561 230,566 230,556 230,563 230,564 230,559 230,583 231,559 231,562 231,567 231,558 231,561 231,557 231,558 231,564 231,561 231,569 232,560 232,559 232,557 232,560 232,564 232,566 232,556 232,558 232,581 232,560 232,562 233,555 233,568 233,562 233,557 233,570 233,566 233,569 233,566 233,568 233,565 234,553 234,560 234,563 234,563 234,555 234,563 234,563 234,567 234,559 234,559 234,560 235,567 235,572 235,560 235,566 235,558 235,557 235,559 235,559 235,562 235,560 236,561 236,558 236,559 236,562 236,558 236,568 236,555 236,555 236,562 236,558 236,564 237,560 237,556 237,565 237,560 237,563 237,560 237,567 237,557 237,563 237,556 238,560 238,571 238,561 238,565 238,559 238,560 238,561 238,562 238,563 238,561 239,559 239,570 239,572 239,558 239,563 239,561 239,557 239,582 239,553 239,557 239,563 240,565 240,567 240,563 240,555 240,566 240,557 240,567 240,567 240,580 240,568 241,555 241,569 241,557 241,562 241,558 241,567 241,559 241,563 241,566 241,562 241,557 242,557 242,568 242,563 242,555 242,559 242,565 242,567 242,559 242,571 242,564 243,563 243,557 243,559 243,565 243,563 243,563 243,562 243,576 243,566 243,557 243,561 244,559 244,559 244,562 244,563 244,561 244,562 244,569 244,556 244,558 244,559 245,561 245,566 245,560 245,570 245,557 245,563 245,556 245,557 245,562 245,555 245,562 246,563 246,556 246,559 246,565 246,567 246,562 246,563 246,563 246,565 246,565 247,564 247,558 247,568 247,569 247,562 247,580 247,562 247,564 247,559 247,564 248,557 248,566 248,557 248,558 248,559 248,559 248,566 248,561 248,564 248,562 248,564 249,569 249,573 249,558 249,566 249,572 249,555 249,557 249,560 249,572 249,555 250,555 250,557 250,566 250,559 250,559 250,559 250,559 250,554 250,566 250,561 250,571 251,561 251,564 251,559 251,562 251,554 251,558 251,558 251,562 251,556 251,561 252,562 252,558 252,561 252,563 252,561 252,556 252,555 252,561 252,580 252,556 252,561 253,557 253,559 253,561 253,557 253,569 253,551 253,558 253,558 253,561 253,570 254,558 254,559 254,560 254,563 254,563 254,564 254,560 254,561 254,555 254,559 254,557 255,559 255,558 255,561 255,566 255,557 255,562 255,556 255,562 255,556 255,572 256,560 256,559 256,563 256,561 256,560 256,553 256,555 256,557 256,558 256,562 256,566 257,558 257,562 257,559 257,558 257,555 257,560 257,558 257,561 257,558 257,563 258,557 258,560 258,557 258,565 258,555 258,557 258,561 258,556 258,555 258,565 259,561 259,570 259,557 259,560 259,565 259,574 259,566 259,569 259,571 259,556 259,560 260,557 260,561 260,565 260,566 260,555 260,556 260,564 260,568 260,567 260,556 261,567 261,563 261,569 261,563 261,560 261,556 261,560 261,564 261,563 261,566 261,559 262,552 262,557 262,569 262,563 262,566 262,561 262,565 262,559 262,560 262,571 263,558 263,563 263,559 263,560 263,557 263,566 263,558 263,555 263,566 263,556 263,552 264,569 264,566 264,560 264,555 264,563 264,565 264,564 264,554 264,573 264,558 265,557 265,556 265,561 265,556 265,556 265,557 265,564 265,562 265,553 265,562 265,557 266,558 266,568 266,555 266,560 266,566 266,565 266,563 266,562 266,559 266,559 267,556 267,562 267,556 267,559 267,563 267,555 267,566 267,556 267,557 267,566 267,566 268,559 268,562 268,564 268,558 268,570 268,559 268,561 268,557 268,558 268,570 269,567 269,554 269,558 269,564 269,559 269,561 269,558 269,560 269,573 269,558 270,553 270,556 270,556 270,558 270,558 270,561 270,564 270,557 270,553 270,559 270,564 271,559 271,551 271,558 271,554 271,564 271,572 271,561 271,561 271,563 271,558 272,562 272,558 272,568 272,566 272,575 272,560 272,562 272,560 272,553 272,567 272,557 273,567 273,558 273,562 273,553 273,551 273,557 273,560 273,558 273,559 273,567 274,556 274,555 274,556 274,557 274,553 274,561 274,565 274,563 274,561 274,554 274,560 275,567 275,557 275,552 275,566 275,560 275,566 275,553 275,558 275,554 275,561 276,557 276,561 276,553 276,564 276,567 276,564 276,562 276,557 276,556 276,560 276,562 277,574 277,558 277,558 277,555 277,558 277,559 277,560 277,553 277,559 277,552 278,554 278,561 278,558 278,558 278,555 278,559 278,563 278,560 278,557 278,567 278,556 279,566 279,555 279,558 279,555 279,562 279,561 279,557 279,557 279,556 279,560 280,565 280,556 280,559 280,565 280,560 280,565 280,555 280,569 280,563 280,554 281,571 281,554 281,558 281,566 281,561 281,555 281,553 281,554 281,561 281,553 281,557 282,564 282,565 282,557 282,554 282,554 282,565 282,554 282,565 282,563 282,559 283,559 283,552 283,570 283,561 283,552 283,552 283,554 283,555 283,563 283,566 283,566 284,560 284,559 284,558 284,558 284,557 284,562 284,552 284,558 284,557 284,568 285,558 285,558 285,557 285,556 285,558 285,554 285,558 285,564 285,564 285,565 285,552 286,560 286,556 286,555 286,555 286,561 286,562 286,563 286,568 286,560 286,564 287,551 287,557 287,555 287,559 287,561 287,564 287,557 287,559 287,557 287,559 287,557 288,567 288,562 288,554 288,566 288,551 288,560 288,554 288,556 288,560 288,556 289,565 289,557 289,555 289,561 289,561 289,559 289,560 289,556 289,557 289,566 289,569 290,553 290,554 290,556 290,556 290,552 290,552 290,561 290,561 290,558 290,549 291,560 291,565 291,553 291,553 291,558 291,555 291,557 291,557 291,555 291,575 292,555 292,567 292,553 292,560 292,557 292,559 292,562 292,557 292,561 292,557 292,567 293,554 293,552 293,562 293,551 293,556 293,558 293,563 293,555 293,554 293,564 294,562 294,553 294,565 294,558 294,563 294,549 294,552 294,563 294,565 294,559 294,571 295,560 295,556 295,559 295,557 295,565 295,551 295,567 295,556 295,557 295,550 296,574 296,565 296,560 296,561 296,552 296,554 296,560 296,564 296,554 296,556 296,572 297,559 297,557 297,554 297,560 297,551 297,560 297,556 297,560 297,556 297,559 298,567 298,559 298,555 298,552 298,555 298,562 298,558 298,551 298,554 298,561 298,558 299,560 299,554 299,573 299,553 299,564 299,563 299,555 299,566 299,555 299,554 300,557 300,562 300,561 300,570 300,562 300,559 300,557 300,552 300,560 300,556 300,560 301,556 301,565 301,559 301,553 301,565 301,559 301,575 301,558 301,551 301,554 302,555 302,555 302,555 302,552 302,555 302,555 302,556 302,557 302,554 302,555 303,559 303,573 303,561 303,565 303,560 303,568 303,557 303,557 303,552 303,557 303,567 304,554 304,557 304,556 304,552 304,558 304,550 304,563 304,556 304,557 304,562 305,559 305,558 305,554 305,557 305,575 305,563 305,554 305,557 305,556 305,556 305,561 306,557 306,564 306,554 306,548 306,565 306,559 306,552 306,558 306,560 306,559 307,556 307,554 307,557 307,553 307,555 307,554 307,550 307,553 307,558 307,553 307,551 308,553 308,565 308,567 308,554 308,551 308,553 308,555 308,554 308,549 308,558 309,554 309,554 309,563 309,555 309,554 309,561 309,558 309,557 309,556 309,553 309,558 310,557 310,553 310,551 310,552 310,549 310,556 310,553 310,549 310,553 310,555 311,552 311,559 311,560 311,555 311,553 311,553 311,558 311,553 311,557 311,555 312,554 312,551 312,554 312,557 312,564 312,555 312,555 312,557 312,553 312,560 312,560 313,554 313,572 313,559 313,552 313,551 313,554 313,556 313,552 313,553 313,555 314,555 314,554 314,557 314,555 314,555 314,552 314,562 314,561 314,559 314,569 314,564 315,552 315,559 315,559 315,549 315,559 315,576 315,554 315,559 315,556 315,552 316,560 316,550 316,556 316,562 316,554 316,570 316,551 316,555 316,557 316,555 316,558 317,552 317,566 317,561 317,550 317,550 317,559 317,558 317,557 317,566 317,550 318,551 318,559 318,553 318,560 318,556 318,558 318,552 318,554 318,551 318,555 318,552 319,560 319,553 319,555 319,551 319,564 319,562 319,558 319,557 319,568 319,551 320,552 320,553 320,557 320,560 320,555 320,556 320,558 320,567 320,555 320,553 320,553 321,560 321,557 321,559 321,556 321,551 321,566 321,555 321,561 321,567 321,557 322,565 322,564 322,554 322,553 322,552 322,562 322,549 322,550 322,553 322,553 323,546 323,557 323,556 323,552 323,553 323,555 323,550 323,556 323,554 323,554 323,557 324,555 324,576 324,554 324,553 324,553 324,556 324,555 324,555 324,559 324,552 325,549 325,553 325,567 325,545 325,555 325,556 325,549 325,551 325,551 325,555 325,552 326,555 326,554 326,552 326,554 326,553 326,556 326,547 326,551 326,554 326,576 327,561 327,548 327,564 327,557 327,551 327,559 327,553 327,560 327,558 327,564 327,548 328,564 328,554 328,552 328,552 328,562 328,556 328,551 328,559 328,553 328,554 329,551 329,551 329,556 329,556 329,556 329,557 329,550 329,568 329,558 329,552 329,550 330,552 330,550 330,570 330,554 330,552 330,562 330,560 330,555 330,555 330,554 331,550 331,551 331,554 331,553 331,556 331,556 331,562 331,557 331,562 331,558 331,554 332,560 332,555 332,554 332,558 332,550 332,558 332,551 332,559 332,560 332,552 333,551 333,552 333,548 333,563 333,553 333,559 333,551 333,552 333,567 333,565 334,553 334,553 334,558 334,549 334,559 334,556 334,552 334,554 334,555 334,551 334,548 335,562 335,557 335,551 335,555 335,552 335,558 335,551 335,554 335,565 335,554 336,563 336,566 336,552 336,552 336,556 336,556 336,559 336,550 336,552 336,554 336,553 337,566 337,556 337,559 337,560 337,549 337,548 337,550 337,552 337,552 337,556 338,553 338,561 338,564 338,558 338,551 338,565 338,557 338,559 338,551 338,547 338,553 339,551 339,562 339,550 339,553 339,556 339,553 339,555 339,553 339,556 339,556 340,567 340,552 340,550 340,552 340,555 340,558 340,562 340,552 340,551 340,559 340,551 341,549 341,558 341,555 341,560 341,554 341,566 341,549 341,557 341,550 341,562 342,549 342,552 342,554 342,552 342,562 342,560 342,551 342,552 342,552 342,547 342,553 343,554 343,551 343,550 343,551 343,560 343,552 343,555 343,552 343,554 343,555 344,555 344,549 344,552 344,555 344,574 344,554 344,556 344,551 344,556 344,553 345,551 345,555 345,561 345,551 345,549 345,555 345,553 345,554 345,562 345,551 345,553 346,547 346,559 346,559 346,551 346,557 346,562 346,549 346,553 346,569 346,549 347,555 347,553 347,551 347,555 347,557 347,557 347,552 347,556 347,553 347,552 347,560 348,549 348,555 348,557 348,555 348,554 348,555 348,556 348,550 348,553 348,560 349,556 349,551 349,551 349,548 349,550 349,553 349,549 349,556 349,558 349,551 349,548 350,562 350,556 350,549 350,551 350,552 350,554 350,551 350,548 350,550 350,555 351,556 351,549 351,553 351,557 351,548 351,553 351,549 351,552 351,555 351,554 351,554 352,562 352,557 352,548 352,562 352,558 352,553 352,561 352,562 352,549 352,560 353,561 353,550 353,553 353,547 353,550 353,547 353,549 353,571 353,554 353,555 353,553 354,550 354,553 354,555 354,549 354,555 354,555 354,552 354,557 354,551 354,567 355,555 355,551 355,552 355,552 355,551 355,556 355,554 355,574 355,547 355,557 356,553 356,555 356,561 356,547 356,549 356,565 356,555 356,554 356,555 356,553 356,554 357,553 357,557 357,557 357,551 357,566 357,553 357,561 357,564 357,551 357,562 358,554 358,553 358,551 358,562 358,553 358,564 358,556 358,551 358,550 358,557 358,555 359,550 359,555 359,557 359,558 359,560 359,560 359,554 359,553 359,548 359,556 360,557 360,553 360,557 360,551 360,553 360,552 360,560 360,555 360,551 360,551 360,557 361,553 361,557 361,553 361,549 361,555 361,551 361,551 361,569 361,568 361,555 362,553 362,560 362,549 362,548 362,553 362,548 362,552 362,549 362,551 362,552 362,560 363,555 363,551 363,552 363,551 363,555 363,552 363,551 363,553 363,552 363,547 364,555 364,555 364,552 364,558 364,558 364,548 364,555 364,547 364,567 364,565 364,553 365,552 365,551 365,551 365,545 365,560 365,550 365,546 365,554 365,560 365,548 366,556 366,550 366,552 366,552 366,552 366,556 366,555 366,553 366,548 366,567 367,559 367,549 367,564 367,571 367,552 367,557 367,551 367,559 367,554 367,554 367,551 368,560 368,547 368,552 368,551 368,558 368,558 368,550 368,560 368,557 368,554 369,548 369,552 369,559 369,549 369,555 369,554 369,554 369,547 369,549 369,550 369,550 370,560 370,546 370,554 370,564 370,549 370,551 370,550 370,556 370,547 370,550 371,557 371,555 371,555 371,547 371,553 371,560 371,551 371,559 371,552 371,548 371,551 372,563 372,560 372,566 372,556 372,554 372,558 372,550 372,557 372,552 372,553 373,552 373,553 373,565 373,549 373,561 373,553 373,554 373,549 373,552 373,553 373,552 374,557 374,554 374,551 374,556 374,559 374,560 374,553 374,556 374,556 374,574 375,558 375,553 375,552 375,559 375,564 375,547 375,559 375,553 375,574 375,555 376,551 376,547 376,546 376,550 376,554 376,554 376,555 376,555 376,550 376,551 376,558 377,551 377,553 377,558 377,560 377,551 377,555 377,565 377,561 377,567 377,554 378,549 378,556 378,555 378,551 378,568 378,557 378,561 378,554 378,563 378,548 378,547 379,555 379,554 379,560 379,550 379,553 379,554 379,548 379,552 379,550 379,550 380,550 380,552 380,559 380,558 380,554 380,549 380,552 380,550 380,547 380,557 380,557 381,573 381,560 381,551 381,574 381,569 381,544 381,553 381,555 381,560 381,557 382,554 382,556 382,553 382,553 382,554 382,552 382,551 382,550 382,549 382,551 382,553 383,549 383,549 383,553 383,554 383,564 383,548 383,554 383,546 383,552 383,560 384,550 384,560 384,550 384,551 384,548 384,552 384,545 384,562 384,556 384,557 384,552 385,562 385,558 385,549 385,554 385,557 385,552 385,557 385,553 385,549 385,549 386,556 386,560 386,555 386,553 386,555 386,555 386,555 386,559 386,558 386,549 387,546 387,555 387,553 387,550 387,558 387,553 387,551 387,550 387,554 387,562 387,559 388,556 388,550 388,556 388,547 388,550 388,548 388,553 388,552 388,549 388,552 389,552 389,550 389,559 389,551 389,549 389,550 389,552 389,559 389,557 389,551 389,549 390,552 390,553 390,553 390,549 390,551 390,548 390,554 390,557 390,559 390,561 391,550 391,548 391,556 391,558 391,553 391,556 391,556 391,552 391,554 391,550 391,550 392,556 392,550 392,550 392,574 392,548 392,557 392,551 392,553 392,551 392,551 393,550 393,557 393,559 393,547 393,552 393,561 393,549 393,551 393,564 393,551 393,552 394,555 394,553 394,549 394,556 394,550 394,557 394,551 394,559 394,566 394,550 395,547 395,553 395,553 395,556 395,564 395,548 395,555 395,551 395,549 395,559 395,566 396,548 396,557 396,549 396,553 396,554 396,555 396,550 396,569 396,545 396,554 397,549 397,551 397,558 397,553 397,561 397,550 397,559 397,558 397,558 397,551 398,550 398,553 398,553 398,552 398,549 398,554 398,548 398,556 398,554 398,566 398,547 399,553 399,559 399,547 399,552 399,554 399,556 399,552 399,548 399,549 399,552 400,550 400,555 400,549 400,552 400,566 400,551 400,552 400,556 400,546 400,572 400,556 401,555 401,556 401,558 401,553 401,554 401,548 401,550 401,554 401,555 401,555 402,563 402,553 402,555 402,553 402,550 402,557 402,551 402,555 402,556 402,558 402,550 403,559 403,554 403,551 403,552 403,548 403,551 403,555 403,550 403,546 403,546 404,549 404,553 404,556 404,548 404,549 404,551 404,547 404,549 404,552 404,548 404,557 405,552 405,558 405,550 405,548 405,551 405,548 405,557 405,544 405,555 405,551 406,545 406,556 406,555 406,546 406,549 406,550 406,545 406,547 406,549 406,549 406,556 407,547 407,549 407,558 407,567 407,558 407,550 407,561 407,551 407,552 407,551 408,549 408,550 408,549 408,550 408,551 408,556 408,545 408,548 408,568 408,550 409,549 409,554 409,554 409,557 409,552 409,551 409,547 409,549 409,550 409,555 409,551 410,561 410,551 410,555 410,549 410,573 410,555 410,546 410,560 410,556 410,549 411,549 411,547 411,546 411,545 411,557 411,551 411,547 411,555 411,553 411,551 411,551 412,551 412,557 412,547 412,545 412,550 412,547 412,557 412,552 412,557 412,551 413,551 413,557 413,550 413,546 413,556 413,547 413,551 413,565 413,557 413,549 413,553 414,554 414,564 414,549 414,548 414,557 414,554 414,562 414,559 414,548 414,551 415,551 415,558 415,549 415,562 415,554 415,550 415,552 415,560 415,554 415,565 415,550 416,556 416,544 416,550 416,550 416,571 416,556 416,551 416,552 416,551 416,557 417,552 417,557 417,552 417,547 417,556 417,553 417,550 417,549 417,549 417,551 417,548 418,572 418,548 418,557 418,550 418,549 418,547 418,552 418,552 418,553 418,551 419,553 419,555 419,551 419,556 419,550 419,552 419,549 419,559 419,557 419,544 420,549 420,544 420,553 420,545 420,556 420,552 420,551 420,546 420,548 420,548 420,553 421,561 421,543 421,548 421,557 421,546 421,551 421,557 421,547 421,551 421,547 422,555 422,551 422,550 422,550 422,559 422,551 422,558 422,547 422,557 422,547 422,546 423,548 423,550 423,555 423,552 423,553 423,555 423,554 423,548 423,551 423,546 424,544 424,549 424,548 424,550 424,550 424,549 424,550 424,547 424,547 424,551 424,554 425,547 425,547 425,555 425,558 425,553 425,547 425,547 425,548 425,551 425,545 426,552 426,546 426,547 426,549 426,549 426,550 426,556 426,544 426,553 426,553 426,550 427,557 427,558 427,552 427,552 427,552 427,553 427,550 427,555 427,558 427,545 428,545 428,562 428,547 428,547 428,552 428,554 428,550 428,558 428,566 428,563 429,550 429,547 429,549 429,561 429,547 429,550 429,551 429,551 429,548 429,547 429,548 430,549 430,545 430,546 430,553 430,547 430,550 430,556 430,546 430,547 430,542 431,546 431,552 431,547 431,544 431,557 431,547 431,549 431,544 431,547 431,551 431,551 432,556 432,546 432,547 432,558 432,548 432,547 432,545 432,548 432,553 432,550 433,555 433,545 433,550 433,552 433,554 433,559 433,551 433,547 433,546 433,561 433,552 434,548 434,554 434,545 434,555 434,554 434,550 434,565 434,562 434,551 434,545 435,548 435,548 435,550 435,557 435,549 435,551 435,551 435,548 435,543 435,559 435,550 436,556 436,552 436,546 436,549 436,548 436,550 436,547 436,544 436,549 436,544 437,546 437,544 437,556 437,549 437,555 437,561 437,546 437,545 437,544 437,549 437,548 438,549 438,551 438,544 438,547 438,555 438,550 438,548 438,559 438,554 438,544 439,559 439,568 439,551 439,552 439,547 439,551 439,548 439,554 439,550 439,554 440,546 440,551 440,548 440,546 440,557 440,554 440,550 440,546 440,544 440,557 440,558 441,556 441,553 441,545 441,566 441,549 441,544 441,564 441,550 441,552 441,549 442,548 442,550 442,551 442,563 442,560 442,547 442,551 442,548 442,553 442,548 442,546 443,553 443,549 443,555 443,551 443,551 443,557 443,547 443,545 443,551 443,546 444,545 444,548 444,549 444,553 444,563 444,545 444,558 444,551 444,552 444,547 444,548 445,548 445,543 445,566 445,568 445,553 445,552 445,562 445,549 445,552 445,551 446,543 446,555 446,545 446,551 446,549 446,567 446,546 446,549 446,549 446,549 446,550 447,555 447,547 447,553 447,567 447,549 447,551 447,544 447,555 447,545 447,552 448,551 448,554 448,549 448,545 448,554 448,554 448,545 448,554 448,552 448,545 448,548 449,549 449,549 449,549 449,547 449,547 449,549 449,552 449,546 449,549 449,544 450,549 450,552 450,550 450,544 450,561 450,566 450,547 450,550 450,551 450,561 451,565 451,552 451,546 451,549 451,548 451,549 451,549 451,549 451,547 451,545 451,557 452,548 452,543 452,549 452,562 452,546 452,551 452,548 452,550 452,555 452,545 453,547 453,551 453,553 453,545 453,542 453,549 453,547 453,552 453,545 453,556 453,549 454,552 454,550 454,553 454,553 454,551 454,545 454,559 454,548 454,544 454,546 455,548 455,549 455,549 455,545 455,553 455,546 455,548 455,553 455,549 455,562 455,543 456,551 456,551 456,548 456,546 456,547 456,548 456,546 456,558 456,555 456,547 457,551 457,546 457,544 457,548 457,549 457,545 457,550 457,549 457,545 457,546 457,547 458,545 458,559 458,553 458,553 458,547 458,551 458,549 458,543 458,544 458,548 459,546 459,545 459,550 459,557 459,551 459,548 459,550 459,557 459,543 459,565 459,546 460,554 460,550 460,548 460,554 460,550 460,545 460,548 460,556 460,552 460,558 461,550 461,558 461,556 461,544 461,548 461,547 461,555 461,541 461,554 461,548 462,568 462,550 462,548 462,545 462,543 462,543 462,549 462,551 462,545 462,556 462,549 463,548 463,554 463,566 463,558 463,546 463,557 463,557 463,548 463,549 463,554 464,545 464,554 464,559 464,553 464,545 464,547 464,548 464,550 464,549 464,554 464,552 465,545 465,547 465,544 465,550 465,553 465,558 465,543 465,545 465,553 465,546 466,552 466,545 466,547 466,543 466,544 466,541 466,550 466,556 466,551 466,542 466,553 467,544 467,545 467,546 467,547 467,556 467,550 467,542 467,556 467,548 467,549 468,557 468,553 468,556 468,553 468,548 468,545 468,547 468,549 468,548 468,559 468,547 469,553 469,547 469,545 469,553 469,549 469,552 469,547 469,548 469,552 469,551 470,543 470,550 470,539 470,547 470,553 470,551 470,551 470,546 470,548 470,546 470,556 471,542 471,542 471,555 471,548 471,544 471,543 471,546 471,551 471,543 471,553 472,545 472,540 472,557 472,546 472,548 472,552 472,549 472,550 472,542 472,547 473,548 473,544 473,547 473,563 473,550 473,547 473,551 473,546 473,552 473,550 473,552 474,541 474,545 474,550 474,543 474,548 474,546 474,547 474,556 474,553 474,549 475,548 475,557 475,544 475,558 475,544 475,543 475,549 475,540 475,547 475,547 475,550 476,551 476,553 476,551 476,544 476,544 476,546 476,551 476,569 476,544 476,543 477,550 477,545 477,551 477,548 477,561 477,547 477,553 477,567 477,544 477,546 477,549 478,549 478,543 478,549 478,547 478,544 478,553 478,548 478,549 478,546 478,562 479,551 479,549 479,543 479,549 479,547 479,551 479,558 479,551 479,555 479,550 479,545 480,542 480,545 480,548 480,548 480,544 480,548 480,548 480,552 480,547 480,542 481,555 481,555 481,552 481,556 481,546 481,556 481,545 481,542 481,549 481,543 481,555 482,546 482,553 482,545 482,544 482,548 482,545 482,547 482,543 482,549 482,545 483,548 483,546 483,555 483,547 483,544 483,557 483,543 483,546 483,546 483,560 484,550 484,546 484,541 484,550 484,544 484,553 484,549 484,548 484,543 484,543 484,546 485,543 485,550 485,549 485,553 485,552 485,547 485,551 485,557 485,542 485,544 486,553 486,541 486,553 486,551 486,548 486,548 486,547 486,546 486,549 486,553 486,548 487,538 487,550 487,552 487,544 487,559 487,544 487,545 487,549 487,543 487,544 488,551 488,548 488,551 488,549 488,545 488,546 488,547 488,548 488,547 488,547 488,546 489,544 489,562 489,549 489,550 489,548 489,554 489,551 489,544 489,548 489,551 490,544 490,551 490,545 490,551 490,549 490,559 490,540 490,545 490,550 490,551 490,545 491,545 491,545 491,549 491,562 491,543 491,561 491,556 491,549 491,546 491,548 492,552 492,546 492,550 492,547 492,550 492,548 492,543 492,547 492,551 492,551 493,541 493,551 493,545 493,546 493,546 493,549 493,552 493,550 493,543 493,542 493,546 494,546 494,546 494,555 494,545 494,551 494,545 494,546 494,548 494,544 494,547 495,547 495,548 495,542 495,547 495,559 495,555 495,556 495,547 495,543 495,552 495,543 496,550 496,545 496,554 496,553 496,539 496,547 496,550 496,544 496,552 496,547 497,549 497,546 497,546 497,546 497,554 497,545 497,545 497,550 497,549 497,545 497,545 498,550 498,550 498,544 498,543 498,549 498,547 498,547 498,547 498,548 498,542 499,550 499,547 499,544 499,547 499,553 499,548 499,547 499,546 499,545 499,543 499,552 500,546 500,544 500,549 500,554 500,543 500,552 500,552 500,547 500,546 500,545 501,546 501,548 501,542 501,544 501,547 501,543 501,557 501,557 501,550 501,545 501,557 502,548 502,541 502,546 502,545 502,542 502,556 502,553 502,548 502,548 502,546 503,548 503,547 503,546 503,550 503,550 503,549 503,550 503,541 503,540 503,543 504,550 504,542 504,550 504,552 504,553 504,551 504,554 504,543 504,548 504,554 504,543 505,567 505,547 505,561 505,546 505,548 505,549 505,542 505,548 505,548 505,552 506,546 506,544 506,545 506,546 506,541 506,547 506,542 506,543 506,544 506,545 506,539 507,552 507,545 507,541 507,558 507,541 507,557 507,542 507,540 507,554 507,541 508,543 508,541 508,547 508,542 508,541 508,547 508,544 508,548 508,553 508,547 508,549 509,545 509,543 509,547 509,553 509,544 509,543 509,555 509,557 509,540 509,549 510,544 510,554 510,549 510,553 510,543 510,544 510,538 510,557 510,544 510,549 510,553 511,546 511,544 511,545 511,546 511,550 511,543 511,545 511,544 511,548 511,544 512,544 512,543 512,548 512,544 512,546 512,552 512,547 512,546 512,550 512,547 512,546 513,553 513,546 513,546 513,541 513,545 513,545 513,548 513,549 513,563 513,545 514,551 514,545 514,547 514,547 514,558 514,544 514,544 514,540 514,546 514,556 515,544 515,550 515,549 515,549 515,551 515,542 515,547 515,547 515,543 515,541 515,545 516,546 516,562 516,550 516,542 516,549 516,544 516,550 516,545 516,546 516,543 517,549 517,549 517,548 517,544 517,548 517,549 517,555 517,556 517,544 517,544 517,550 518,547 518,546 518,548 518,545 518,546 518,541 518,554 518,544 518,548 518,559 519,543 519,542 519,545 519,543 519,543 519,540 519,543 519,539 519,541 519,544 519,549 520,544 520,547 520,543 520,544 520,539 520,553 520,549 520,545 520,545 520,542 521,544 521,542 521,544 521,545 521,543 521,540 521,540 521,559 521,545 521,556 521,539 522,544 522,544 522,555 522,543 522,544 522,553 522,543 522,544 522,541 522,542 523,546 523,546 523,547 523,557 523,542 523,541 523,541 523,554 523,556 523,545 523,540 524,552 524,542 524,543 524,546 524,539 524,547 524,540 524,548 524,544 524,544 525,542 525,535 525,543 525,541 525,560 525,541 525,553 525,536 525,531 525,538 526,534 526,545 526,537 526,540 526,535 526,546 526,536 526,538 526,533 526,540 526,535 527,537 527,533 527,541 527,542 527,538 527,537 527,539 527,535 527,543 527,540 528,540 528,526 528,535 528,535 528,540 528,538 528,531 528,541 528,543 528,530 528,549 529,531 529,545 529,533 529,539 529,530 529,537 529,533 529,534 529,532 529,532 530,531 530,539 530,539 530,530 530,534 530,532 530,534 530,538 530,540 530,533 530,530 531,542 531,533 531,529 531,532 531,539 531,537 531,537 531,549 531,531 531,534 532,536 532,544 532,528 532,536 532,544 532,530 532,534 532,530 532,543 532,540 532,537 533,536 533,530 533,554 533,542 533,530 533,545 533,536 533,534 533,535 533,537 534,533 534,534 534,536 534,532 534,528 534,539 534,540 534,534 534,532 534,539 534,530 535,532 535,543 535,532 535,541 535,531 535,536 535,530 535,538 535,537 535,541 536,538 536,530 536,545 536,536 536,532 536,533 536,533 536,530 536,539 536,536 537,537 537,530 537,536 537,530 537,534 537,529 537,529 537,543 537,541 537,532 537,543 538,532 538,532 538,535 538,531 538,535 538,538 538,533 538,533 538,536 538,543 539,534 539,527 539,536 539,538 539,538 539,536 539,534 539,532 539,534 539,533 539,532 540,534 540,529 540,543 540,526 540,544 540,533 540,535 540,545 540,531 540,536 541,536 541,541 541,534 541,534 541,534 541,531 541,531 541,531 541,534 541,534 541,531 542,524 542,542 542,531 542,532 542,533 542,532 542,528 542,532 542,542 542,527 543,537 543,528 543,536 543,530 543,534 543,537 543,540 543,534 543,533 543,534 543,535 544,532 544,530 544,534 544,531 544,529 544,538 544,530 544,536 544,548 544,534 545,530 545,537 545,529 545,537 545,533 545,535 545,535 545,532 545,533 545,527 546,531 546,532 546,536 546,535 546,538 546,530 546,528 546,535 546,534 546,527 546,526 547,531 547,533 547,538 547,536 547,536 547,535 547,535 547,543 547,536 547,534 548,530 548,534 548,527 548,534 548,533 548,530 548,538 548,530 548,543 548,535 548,532 549,537 549,531 549,545 549,537 549,555 549,536 549,530 549,527 549,539 549,530 550,525 550,532 550,534 550,526 550,529 550,539 550,531 550,531 550,535 550,532 550,540 551,535 551,530 551,538 551,527 551,533 551,534 551,534 551,534 551,530 551,531 552,545 552,533 552,532 552,547 552,539 552,529 552,534 552,540 552,530 552,529 552,531 553,533 553,531 553,533 553,543 553,535 553,538 553,537 553,532 553,535 553,531 554,534 554,534 554,527 554,530 554,532 554,535 554,536 554,536 554,536 554,531 554,530 555,528 555,529 555,535 555,534 555,534 555,529 555,539 555,536 555,540 555,534 556,537 556,531 556,535 556,535 556,539 556,528 556,535 556,531 556,533 556,536 557,537 557,543 557,528 557,532 557,539 557,534 557,533 557,538 557,530 557,532 557,530 558,529 558,533 558,529 558,539 558,527 558,530 558,534 558,542 558,535 558,530 559,540 559,529 559,531 559,527 559,534 559,537 559,538 559,534 559,533 559,534 559,531 560,539 560,531 560,532 560,534 560,532 560,531 560,534 560,533 560,531 560,536 561,533 561,534 561,530 561,532 561,547 561,541 561,533 561,527 561,540 561,534 561,532 562,531 562,528 562,535 562,541 562,539 562,531 562,533 562,528 562,531 562,533 563,531 563,530 563,540 563,529 563,540 563,537 563,535 563,537 563,530 563,532 563,531 564,527 564,532 564,534 564,531 564,527 564,533 564,538 564,533 564,532 564,534 565,535 565,542 565,540 565,532 565,528 565,531 565,534 565,533 565,533 565,533 565,532 566,537 566,536 566,540 566,528 566,526 566,530 566,543 566,525 566,531 566,534 567,530 567,539 567,528 567,536 567,533 567,533 567,533 567,528 567,528 567,533 568,537 568,532 568,525 568,529 568,529 568,546 568,533 568,543 568,542 568,530 568,531 569,525 569,531 569,533 569,547 569,534 569,529 569,535 569,528 569,531 569,532 570,532 570,537 570,529 570,537 570,532 570,535 570,532 570,534 570,531 570,535 570,533 571,531 571,532 571,533 571,533 571,530 571,532 571,531 571,527 571,535 571,529 572,533 572,530 572,543 572,535 572,530 572,529 572,530 572,536 572,528 572,537 572,534 573,541 573,536 573,532 573,543 573,525 573,540 573,536 573,530 573,530 573,542 574,543 574,526 574,532 574,538 574,537 574,534 574,540 574,528 574,532 574,536 574,529 575,532 575,527 575,533 575,531 575,532 575,528 575,536 575,536 575,529 575,526 576,533 576,533 576,541 576,529 576,528 576,524 576,537 576,538 576,529 576,532 576,533 577,533 577,526 577,529 577,534 577,539 577,536 577,526 577,532 577,534 577,533 578,528 578,526 578,537 578,528 578,529 578,545 578,532 578,533 578,527 578,525 579,531 579,537 579,530 579,538 579,540 579,524 579,525 579,526 579,531 579,530 579,530 580,531 580,532 580,528 580,531 580,530 580,534 580,532 580,535 580,528 580,525 581,527 581,532 581,535 581,545 581,529 581,530 581,533 581,528 581,540 581,532 581,529 582,534 582,532 582,538 582,538 582,533 582,527 582,524 582,538 582,526 582,530 583,534 583,553 583,531 583,537 583,537 583,538 583,529 583,531 583,539 583,529 583,525 584,537 584,534 584,539 584,524 584,533 584,528 584,529 584,538 584,533 584,532 585,534 585,534 585,534 585,537 585,523 585,552 585,539 585,529 585,541 585,529 585,544 586,526 586,537 586,532 586,530 586,543 586,529 586,526 586,536 586,527 586,530 587,536 587,535 587,539 587,528 587,532 587,535 587,544 587,528 587,531 587,534 587,534 588,534 588,536 588,538 588,534 588,524 588,531 588,538 588,540 588,531 588,528 589,535 589,535 589,532 589,538 589,535 589,532 589,533 589,533 589,532 589,535 590,529 590,532 590,529 590,533 590,528 590,538 590,531 590,530 590,527 590,542 590,538 591,527 591,528 591,526 591,535 591,529 591,527 591,530 591,526 591,526 591,531 592,536 592,531 592,543 592,539 592,530 592,528 592,527 592,536 592,542 592,527 592,537 593,532 593,552 593,529 593,528 593,535 593,528 593,537 593,527 593,542 593,535 594,527 594,534 594,538 594,533 594,526 594,526 594,539 594,540 594,530 594,548 594,535 595,530 595,533 595,530 595,526 595,529 595,525 595,535 595,537 595,529 595,523 596,529 596,532 596,538 596,541 596,531 596,528 596,530 596,529 596,531 596,531 596,536 597,529 597,536 597,528 597,536 597,534 597,528 597,528 597,528 597,536 597,528 598,534 598,527 598,532 598,529 598,531 598,527 598,525 598,524 598,530 598,535 598,537 599,536 599,535 599,535 599,526 599,529 599,532 599,530 599,526 599,527 599,531 600,526 600,533 600,533 600,536 600,529 600,533 600,528 600,531 600,525 600,543 601,531 601,530 601,536 601,532 601,531 601,527 601,528 601,529 601,529 601,529 601,529 602,529 602,534 602,530 602,536 602,528 602,531 602,526 602,531 602,540 602,534 603,531 603,529 603,528 603,530 603,527 603,532 603,542 603,529 603,533 603,529 603,527 604,538 604,534 604,535 604,534 604,528 604,530 604,531 604,529 604,529 604,531 605,526 605,533 605,527 605,530 605,525 605,527 605,531 605,531 605,529 605,527 605,527 606,526 606,541 606,551 606,529 606,528 606,530 606,528 606,523 606,532 606,529 607,525 607,534 607,537 607,538 607,540 607,532 607,527 607,528 607,536 607,538 607,529 608,541 608,527 608,531 608,526 608,527 608,534 608,529 608,529 608,537 608,528 609,544 609,531 609,526 609,533 609,544 609,527 609,533 609,532 609,525 609,530 610,526 610,528 610,533 610,530 610,527 610,534 610,532 610,527 610,532 610,529 610,529 611,543 611,531 611,541 611,531 611,532 611,532 611,532 611,532 611,524 611,534 612,534 612,525 612,535 612,534 612,526 612,533 612,530 612,530 612,537 612,532 612,528 613,529 613,531 613,531 613,537 613,527 613,525 613,526 613,529 613,529 613,544 614,533 614,526 614,526 614,527 614,533 614,526 614,531 614,524 614,524 614,525 614,541 615,532 615,526 615,526 615,525 615,523 615,535 615,544 615,530 615,528 615,537 616,530 616,525 616,543 616,528 616,531 616,538 616,525 616,526 616,523 616,527 616,529 617,528 617,533 617,532 617,531 617,530 617,531 617,525 617,532 617,533 617,527 618,532 618,526 618,531 618,535 618,530 618,525 618,543 618,527 618,524 618,531 618,525 619,528 619,525 619,531 619,532 619,530 619,530 619,527 619,531 619,536 619,532 620,530 620,531 620,533 620,522 620,530 620,533 620,534 620,525 620,525 620,526 621,527 621,530 621,528 621,526 621,530 621,530 621,535 621,528 621,529 621,528 621,530 622,532 622,529 622,530 622,531 622,527 622,528 622,530 622,531 622,535 622,543 623,538 623,527 623,525 623,528 623,536 623,524 623,528 623,537 623,530 623,543 623,531 624,528 624,532 624,531 624,549 624,532 624,532 624,539 624,532 624,536 624,533 625,529 625,530 625,532 625,525 625,533 625,528 625,524 625,534 625,529 625,528 625,534 626,534 626,530 626,525 626,522 626,529 626,524 626,527 626,527 626,530 626,528 627,528 627,531 627,539 627,529 627,528 627,531 627,532 627,544 627,532 627,534 627,533 628,526 628,525 628,527 628,525 628,533 628,525 628,529 628,528 628,523 628,521 629,536 629,536 629,532 629,528 629,530 629,525 629,533 629,528 629,527 629,528 629,540 630,530 630,533 630,530 630,532 630,529 630,526 630,526 630,524 630,529 630,526 631,539 631,521 631,527 631,533 631,529 631,530 631,533 631,531 631,530 631,529 632,528 632,531 632,532 632,529 632,537 632,529 632,528 632,537 632,524 632,534 632,532 633,539 633,537 633,529 633,525 633,528 633,528 633,530 633,525 633,532 633,531 634,529 634,529 634,527 634,534 634,541 634,537 634,523 634,529 634,530 634,524 634,531 635,534 635,530 635,525 635,530 635,525 635,530 635,550 635,533 635,537 635,527 636,539 636,542 636,525 636,528 636,526 636,528 636,524 636,526 636,530 636,527 636,532 637,528 637,534 637,535 637,523 637,530 637,526 637,533 637,532 637,525 637,525 638,529 638,522 638,536 638,537 638,530 638,530 638,529 638,524 638,531 638,525 638,525 639,529 639,528 639,529 639,526 639,538 639,522 639,527 639,528 639,525 639,524 640,522 640,531 640,531 640,530 640,529 640,545 640,535 640,523 640,532 640,539 640,539 641,544 641,523 641,528 641,535 641,529 641,528 641,530 641,538 641,521 641,529 642,528 642,531 642,529 642,526 642,537 642,528 642,539 642,528 642,539 642,529 643,526 643,534 643,525 643,527 643,525 643,526 643,532 643,527 643,536 643,528 643,524 644,531 644,526 644,531 644,524 644,535 644,524 644,529 644,532 644,530 644,526 645,535 645,527 645,524 645,528 645,529 645,526 645,528 645,532 645,523 645,526 645,529 646,531 646,524 646,524 646,530 646,526 646,531 646,527 646,539 646,531 646,531 647,522 647,533 647,535 647,531 647,531 647,528 647,529 647,525 647,535 647,528 647,531 648,528 648,529 648,525 648,535 648,527 648,529 648,529 648,524 648,525 648,526 649,536 649,531 649,534 649,536 649,532 649,522 649,528 649,535 649,528 649,535 649,528 650,528 650,536 650,526 650,536 650,526 650,529 650,526 650,529 650,526 650,525 651,527 651,530 651,539 651,525 651,527 651,525 651,541 651,526 651,525 651,523 651,530 652,526 652,528 652,522 652,536 652,531 652,538 652,526 652,528 652,528 652,529 653,529 653,533 653,539 653,529 653,529 653,526 653,528 653,533 653,533 653,539 654,529 654,537 654,525 654,534 654,534 654,529 654,528 654,533 654,522 654,532 654,533 655,522 655,532 655,524 655,531 655,533 655,528 655,524 655,526 655,527 655,538 656,530 656,526 656,525 656,527 656,538 656,528 656,523 656,527 656,540 656,529 656,531 657,532 657,524 657,528 657,534 657,523 657,530 657,526 657,549 657,532 657,529 658,543 658,534 658,542 658,533 658,528 658,525 658,527 658,522 658,529 658,532 658,523 659,525 659,526 659,525 659,523 659,539 659,535 659,524 659,525 659,521 659,525 660,524 660,532 660,527 660,527 660,523 660,532 660,527 660,537 660,540 660,527 660,526 661,528 661,531 661,525 661,526 661,536 661,526 661,533 661,530 661,520 661,532 662,524 662,526 662,527 662,529 662,528 662,531 662,532 662,529 662,524 662,526 662,528 663,530 663,529 663,533 663,528 663,531 663,535 663,530 663,523 663,523 663,526 664,536 664,530 664,531 664,526 664,524 664,527 664,531 664,531 664,534 664,549 665,531 665,532 665,525 665,526 665,526 665,522 665,534 665,538 665,527 665,529 665,527 666,526 666,533 666,536 666,531 666,524 666,537 666,532 666,535 666,529 666,536 667,523 667,532 667,525 667,521 667,525 667,524 667,529 667,549 667,531 667,525 667,533 668,541 668,523 668,531 668,535 668,534 668,529 668,521 668,524 668,524 668,530 669,530 669,531 669,522 669,523 669,527 669,531 669,533 669,525 669,543 669,525 669,527 670,532 670,524 670,527 670,534 670,531 670,536 670,526 670,528 670,526 670,529 671,528 671,531 671,535 671,532 671,519 671,526 671,530 671,528 671,532 671,531 671,525 672,526 672,529 672,525 672,541 672,523 672,526 672,530 672,531 672,523 672,536 673,537 673,526 673,535 673,528 673,521 673,530 673,531 673,526 673,538 673,529 674,526 674,532 674,521 674,521 674,525 674,527 674,533 674,532 674,531 674,539 674,541 675,527 675,533 675,526 675,523 675,530 675,526 675,535 675,549 675,525 675,531 676,530 676,529 676,529 676,521 676,532 676,526 676,524 676,525 676,526 676,528 676,525 677,535 677,536 677,525 677,534 677,529 677,540 677,526 677,530 677,521 677,537 678,522 678,522 678,534 678,537 678,522 678,528 678,530 678,528 678,529 678,521 678,543 679,522 679,529 679,527 679,540 679,536 679,522 679,524 679,521 679,535 679,527 680,523 680,530 680,525 680,526 680,532 680,529 680,529 680,535 680,522 680,529 680,531 681,526 681,523 681,529 681,530 681,532 681,532 681,524 681,531 681,536 681,525 682,526 682,521 682,529 682,523 682,523 682,528 682,535 682,538 682,522 682,538 682,528 683,528 683,530 683,529 683,525 683,525 683,529 683,521 683,526 683,525 683,526 684,532 684,528 684,532 684,519 684,523 684,527 684,533 684,529 684,529 684,527 685,533 685,529 685,536 685,529 685,538 685,523 685,525 685,529 685,545 685,522 685,536 686,534 686,524 686,531 686,529 686,528 686,522 686,525 686,526 686,528 686,531 687,523 687,529 687,533 687,526 687,526 687,524 687,521 687,528 687,520 687,528 687,525 688,528 688,534 688,523 688,529 688,534 688,534 688,521 688,532 688,523 688,527 689,529 689,531 689,529 689,530 689,524 689,539 689,534 689,521 689,524 689,529 689,528 690,528 690,523 690,525 690,535 690,527 690,528 690,524 690,530 690,530 690,523 691,529 691,529 691,526 691,522 691,529 691,539 691,526 691,541 691,526 691,530 691,521 692,534 692,531 692,531 692,526 692,528 692,531 692,523 692,525 692,530 692,523 693,523 693,522 693,523 693,532 693,525 693,526 693,535 693,529 693,531 693,530 693,534 694,527 694,526 694,523 694,523 694,527 694,531 694,542 694,528 694,528 694,527 695,544 695,528 695,525 695,526 695,530 695,528 695,526 695,522 695,525 695,526 696,533 696,536 696,522 696,536 696,526 696,527 696,526 696,523 696,533 696,531 696,531 697,527 697,522 697,524 697,528 697,523 697,531 697,530 697,526 697,523 697,528 698,524 698,525 698,531 698,531 698,534 698,527 698,530 698,530 698,532 698,542 698,530 699,524 699,529 699,523 699,533 699,526 699,527 699,523 699,529 699,521 699,533 700,535 700,521 700,528 700,525 700,521 700,527 700,528 700,525 700,529 700,520 700,525 701,522 701,525 701,525 701,528 701,526 701,527 701,527 701,526 701,540 701,521 702,525 702,529 702,532 702,522 702,526 702,527 702,530 702,521 702,526 702,535 702,531 703,521 703,533 703,528 703,527 703,529 703,524 703,531 703,533 703,530 703,525 704,521 704,524 704,529 704,535 704,528 704,523 704,530 704,533 704,524 704,526 704,534 705,529 705,525 705,525 705,525 705,523 705,521 705,524 705,523 705,526 705,533 706,525 706,526 706,529 706,526 706,524 706,526 706,522 706,525 706,525 706,524 707,525 707,523 707,535 707,540 707,527 707,532 707,521 707,527 707,526 707,523 707,528 708,522 708,529 708,524 708,527 708,521 708,528 708,541 708,527 708,526 708,529 709,523 709,527 709,527 709,523 709,535 709,531 709,528 709,528 709,532 709,527 709,521 710,529 710,528 710,520 710,529 710,527 710,531 710,522 710,537 710,530 710,522 711,524 711,532 711,528 711,525 711,527 711,532 711,530 711,528 711,521 711,526 711,524 712,523 712,524 712,518 712,528 712,528 712,531 712,536 712,537 712,528 712,524 713,526 713,529 713,526 713,521 713,531 713,528 713,530 713,523 713,527 713,523 713,523 714,527 714,529 714,522 714,523 714,522 714,526 714,523 714,522 714,524 714,531 715,523 715,531 715,530 715,525 715,527 715,523 715,529 715,523 715,531 715,525 715,524 716,521 716,522 716,521 716,534 716,525 716,526 716,527 716,528 716,525 716,524 717,522 717,527 717,521 717,521 717,524 717,527 717,526 717,534 717,521 717,526 718,525 718,523 718,520 718,522 718,523 718,535 718,520 718,524 718,524 718,529 718,524 719,530 719,527 719,524 719,528 719,533 719,527 719,525 719,527 719,521 719,526 720,524 720,528 720,541 720,527 720,528 720,527 720,526 720,530 720,528 720,532 720,532 721,535 721,532 721,525 721,528 721,528 721,523 721,529 721,527 721,522 721,531 722,530 722,537 722,547 722,525 722,523 722,532 722,532 722,531 722,524 722,524 722,521 723,534 723,524 723,522 723,523 723,528 723,523 723,525 723,533 723,525 723,531 724,531 724,531 724,524 724,524 724,538 724,526 724,529 724,524 724,528 724,527 724,524 725,524 725,524 725,524 725,527 725,532 725,527 725,523 725,525 725,521 725,521 726,525 726,526 726,531 726,524 726,527 726,523 726,525 726,525 726,533 726,536 727,522 727,528 727,528 727,524 727,523 727,530 727,527 727,520 727,520 727,523 727,521 728,528 728,520 728,525 728,523 728,526 728,523 728,522 728,524 728,526 728,525 729,526 729,527 729,533 729,538 729,530 729,536 729,529 729,531 729,545 729,526 729,526 730,533 730,526 730,517 730,523 730,530 730,529 730,526 730,523 730,522 730,529 731,539 731,523 731,525 731,525 731,525 731,523 731,522 731,536 731,526 731,526 731,531 732,523 732,527 732,533 732,529 732,525 732,519 732,524 732,524 732,533 732,525 733,520 733,527 733,529 733,522 733,527 733,523 733,522 733,525 733,532 733,524 733,528 734,523 734,529 734,525 734,519 734,526 734,522 734,520 734,535 734,528 734,519 735,533 735,526 735,524 735,530 735,523 735,524 735,530 735,523 735,527 735,524 735,524 736,529 736,528 736,522 736,529 736,528 736,526 736,524 736,525 736,523 736,534 737,524 737,533 737,526 737,526 737,522 737,524 737,525 737,525 737,523 737,523 738,528 738,518 738,520 738,525 738,525 738,523 738,520 738,524 738,527 738,518 738,525 739,534 739,530 739,521 739,529 739,521 739,532 739,526 739,535 739,529 739,524 740,531 740,526 740,522 740,528 740,527 740,525 740,521 740,524 740,524 740,528 740,518 741,523 741,528 741,529 741,524 741,523 741,522 741,529 741,527 741,534 741,526 742,531 742,522 742,522 742,546 742,540 742,521 742,529 742,526 742,530 742,529 742,526 743,526 743,529 743,523 743,530 743,519 743,528 743,527 743,530 743,522 743,521 744,521 744,521 744,527 744,521 744,522 744,525 744,527 744,527 744,530 744,534 744,527 745,522 745,528 745,521 745,521 745,527 745,528 745,521 745,521 745,519 745,521 746,528 746,527 746,525 746,524 746,524 746,523 746,520 746,524 746,531 746,522 746,521 747,521 747,528 747,522 747,523 747,529 747,521 747,525 747,520 747,517 747,523 748,530 748,525 748,528 748,525 748,526 748,526 748,523 748,524 748,530 748,530 749,527 749,521 749,520 749,527 749,525 749,520 749,522 749,529 749,529 749,522 749,522 750,525 750,518 750,522 750,526 750,522 750,528 750,532 750,526 750,524 750,529 751,525 751,526 751,525 751,526 751,517 751,527 751,523 751,534 751,525 751,527 751,528 752,525 752,521 752,540 752,527 752,528 752,523 752,524 752,528 752,527 752,526 753,522 753,534 753,523 753,522 753,525 753,521 753,526 753,526 753,520 753,524 753,532 754,524 754,521 754,533 754,532 754,523 754,536 754,522 754,535 754,526 754,525 755,533 755,521 755,521 755,531 755,524 755,521 755,527 755,521 755,527 755,525 755,524 756,523 756,534 756,522 756,521 756,519 756,525 756,523 756,519 756,533 756,528 757,521 757,532 757,525 757,522 757,521 757,529 757,527 757,520 757,527 757,527 757,529 758,523 758,523 758,521 758,524 758,524 758,529 758,528 758,518 758,522 758,517 759,519 759,525 759,525 759,518 759,522 759,523 759,522 759,526 759,527 759,526 760,519 760,528 760,527 760,522 760,522 760,522 760,546 760,524 760,539 760,524 760,523 761,526 761,526 761,525 761,531 761,521 761,520 761,521 761,521 761,533 761,524 762,525 762,533 762,524 762,526 762,536 762,522 762,524 762,527 762,543 762,534 762,521 763,526 763,528 763,523 763,526 763,524 763,536 763,525 763,529 763,521 763,521 764,520 764,526 764,531 764,519 764,519 764,525 764,521 764,524 764,527 764,529 764,520 765,527 765,530 765,527 765,526 765,523 765,536 765,526 765,532 765,529 765,523 766,525 766,528 766,526 766,523 766,526 766,526 766,523 766,523 766,517 766,532 766,518 767,524 767,526 767,536 767,521 767,523 767,528 767,520 767,525 767,522 767,521 768,525 768,539 768,540 768,530 768,522 768,528 768,523 768,521 768,530 768,524 768,528 769,518 769,531 769,522 769,522 769,525 769,523 769,522 769,521 769,529 769,529 770,525 770,528 770,520 770,523 770,525 770,523 770,525 770,522 770,523 770,532 771,532 771,522 771,518 771,520 771,524 771,521 771,521 771,527 771,523 771,546 771,518 772,518 772,532 772,528 772,533 772,520 772,525 772,523 772,524 772,533 772,524 773,526 773,531 773,526 773,527 773,519 773,533 773,524 773,526 773,522 773,522 773,521 774,520 774,521 774,527 774,526 774,528 774,523 774,519 774,521 774,527 774,531 775,524 775,528 775,530 775,532 775,521 775,525 775,527 775,525 775,524 775,524 775,521 776,519 776,526 776,526 776,518 776,529 776,524 776,532 776,524 776,529 776,524 777,521 777,523 777,529 777,526 777,520 777,525 777,524 777,522 777,523 777,519 777,525 778,523 778,522 778,526 778,541 778,522 778,536 778,524 778,524 778,524 778,522 779,520 779,530 779,537 779,520 779,533 779,521 779,526 779,527 779,523 779,535 779,520 780,529 780,524 780,522 780,519 780,525 780,525 780,525 780,524 780,533 780,521 781,522 781,521 781,529 781,529 781,527 781,522 781,526 781,531 781,524 781,526 782,524 782,528 782,522 782,520 782,521 782,525 782,526 782,526 782,531 782,535 782,524 783,528 783,520 783,524 783,518 783,535 783,530 783,525 783,524 783,529 783,523 784,522 784,526 784,534 784,526 784,527 784,525 784,530 784,531 784,528 784,529 784,520 785,532 785,525 785,522 785,518 785,521 785,524 785,528 785,521 785,523 785,528 786,525 786,532 786,525 786,521 786,532 786,528 786,522 786,523 786,524 786,525 786,523 787,532 787,532 787,522 787,521 787,530 787,532 787,535 787,519 787,530 787,521 788,535 788,528 788,520 788,521 788,525 788,519 788,526 788,521 788,522 788,527 788,544 789,521 789,525 789,527 789,525 789,518 789,519 789,534 789,521 789,532 789,528 790,531 790,529 790,522 790,517 790,524 790,528 790,520 790,520 790,525 790,522 791,522 791,521 791,518 791,525 791,527 791,544 791,529 791,523 791,522 791,520 791,523 792,528 792,525 792,521 792,525 792,518 792,519 792,521 792,525 792,521 792,521 793,523 793,525 793,524 793,524 793,522 793,520 793,534 793,526 793,528 793,523 793,518 794,522 794,518 794,525 794,528 794,522 794,523 794,530 794,522 794,523 794,525 795,528 795,532 795,529 795,526 795,527 795,524 795,519 795,521 795,524 795,523 795,522 796,531 796,522 796,517 796,521 796,522 796,527 796,529 796,529 796,539 796,525 797,523 797,525 797,523 797,521 797,522 797,523 797,526 797,523 797,538 797,526 797,520 798,531 798,523 798,520 798,527 798,523 798,519 798,521 798,528 798,541 798,522 799,533 799,519 799,529 799,527 799,521 799,520 799,527 799,518 799,524 799,522 799,519 800,537 800,521 800,528 800,525 800,527 800,526 800,525 800,523 800,519 800,523 801,525 801,528 801,526 801,531 801,523 801,525 801,521 801,527 801,531 801,524 802,529 802,524 802,519 802,525 802,522 802,524 802,520 802,530 802,520 802,545 802,525 803,524 803,518 803,520 803,523 803,530 803,523 803,522 803,527 803,520 803,527 804,527 804,524 804,534 804,525 804,527 804,519 804,525 804,523 804,525 804,525 804,522 805,528 805,519 805,528 805,528 805,523 805,520 805,525 805,520 805,521 805,525 806,520 806,518 806,521 806,522 806,523 806,517 806,524 806,525 806,527 806,520 806,536 807,526 807,520 807,527 807,520 807,520 807,530 807,533 807,539 807,526 807,523 808,529 808,519 808,528 808,528 808,529 808,524 808,527 808,525 808,523 808,522 808,523 809,521 809,526 809,532 809,531 809,520 809,519 809,523 809,534 809,525 809,519 810,521 810,523 810,522 810,522 810,519 810,532 810,523 810,523 810,526 810,520 810,533 811,539 811,522 811,523 811,523 811,519 811,528 811,531 811,520 811,529 811,523 812,527 812,524 812,523 812,524 812,526 812,522 812,521 812,521 812,520 812,519 813,522 813,529 813,527 813,523 813,526 813,530 813,528 813,520 813,532 813,528 813,524 814,526 814,526 814,519 814,533 814,538 814,523 814,523 814,524 814,522 814,523 815,520 815,523 815,522 815,527 815,520 815,521 815,529 815,527 815,527 815,521 815,545 816,526 816,521 816,522 816,519 816,518 816,527 816,526 816,523 816,530 816,524 817,525 817,519 817,531 817,527 817,530 817,534 817,525 817,545 817,530 817,526 817,525 818,532 818,526 818,525 818,529 818,527 818,517 818,524 818,521 818,529 818,537 819,525 819,524 819,528 819,519 819,540 819,526 819,526 819,524 819,524 819,524 819,522 820,525 820,517 820,524 820,530 820,520 820,520 820,520 820,525 820,527 820,527 821,520 821,536 821,523 821,531 821,524 821,521 821,528 821,520 821,529 821,530 821,519 822,521 822,523 822,525 822,539 822,534 822,521 822,522 822,523 822,519 822,519 823,517 823,520 823,523 823,520 823,540 823,521 823,526 823,519 823,525 823,533 824,521 824,526 824,527 824,537 824,528 824,528 824,527 824,522 824,525 824,523 824,526 825,528 825,522 825,521 825,523 825,527 825,521 825,536 825,520 825,520 825,523 826,526 826,519 826,524 826,527 826,526 826,522 826,522 826,529 826,520 826,522 826,519 827,525 827,527 827,522 827,525 827,522 827,531 827,521 827,523 827,524 827,517 828,520 828,524 828,524 828,520 828,542 828,528 828,527 828,524 828,527 828,526 828,524 829,523 829,522 829,519 829,539 829,522 829,526 829,523 829,522 829,519 829,526 830,539 830,521 830,532 830,521 830,518 830,522 830,524 830,523 830,522 830,517 830,525 831,525 831,526 831,527 831,527 831,523 831,532 831,524 831,516 831,519 831,518 832,525 832,530 832,526 832,522 832,522 832,520 832,521 832,523 832,521 832,523 832,522 833,522 833,528 833,538 833,530 833,517 833,539 833,523 833,532 833,519 833,526 834,516 834,523 834,523 834,522 834,523 834,524 834,515 834,525 834,523 834,528 835,524 835,523 835,529 835,518 835,524 835,518 835,524 835,519 835,520 835,524 835,528 836,525 836,525 836,521 836,529 836,517 836,521 836,525 836,519 836,520 836,527 837,522 837,540 837,524 837,533 837,521 837,519 837,518 837,523 837,523 837,521 837,525 838,521 838,521 838,523 838,529 838,522 838,525 838,522 838,521 838,522 838,530 839,524 839,522 839,528 839,526 839,524 839,522 839,521 839,523 839,530 839,538 839,527 840,526 840,533 840,521 840,524 840,529 840,525 840,518 840,524 840,535 840,525 841,522 841,523 841,524 841,531 841,531 841,519 841,525 841,523 841,520 841,521 841,526 842,526 842,535 842,521 842,522 842,529 842,520 842,517 842,542 842,524 842,529 843,533 843,523 843,521 843,518 843,530 843,523 843,530 843,526 843,520 843,520 844,529 844,520 844,528 844,519 844,525 844,519 844,522 844,523 844,534 844,518 844,529 845,519 845,527 845,538 845,525 845,533 845,528 845,519 845,523 845,523 845,529 846,522 846,520 846,532 846,526 846,524 846,523 846,526 846,518 846,518 846,521 846,522 847,525 847,522 847,523 847,522 847,517 847,520 847,518 847,519 847,535 847,525 848,521 848,520 848,521 848,532 848,522 848,524 848,527 848,522 848,520 848,516 848,535 849,524 849,521 849,534 849,523 849,515 849,527 849,526 849,523 849,523 849,519 850,521 850,526 850,521 850,528 850,526 850,523 850,523 850,536 850,523 850,521 850,522 851,537 851,531 851,523 851,522 851,524 851,523 851,526 851,520 851,523 851,527 852,531 852,527 852,541 852,524 852,523 852,524 852,523 852,523 852,523 852,523 852,534 853,520 853,525 853,532 853,523 853,524 853,532 853,528 853,518 853,528 853,522 854,525 854,519 854,531 854,517 854,523 854,525 854,522 854,528 854,525 854,523 855,521 855,516 855,531 855,531 855,535 855,527 855,519 855,525 855,520 855,532 855,534 856,521 856,528 856,519 856,523 856,530 856,523 856,522 856,526 856,528 856,523 857,529 857,520 857,521 857,526 857,520 857,527 857,521 857,529 857,522 857,533 857,524 858,517 858,524 858,520 858,525 858,530 858,520 858,517 858,520 858,532 858,523 859,526 859,525 859,540 859,517 859,529 859,521 859,525 859,518 859,527 859,520 859,516 860,521 860,521 860,520 860,517 860,519 860,527 860,519 860,519 860,523 860,517 861,524 861,522 861,522 861,519 861,521 861,522 861,522 861,522 861,520 861,520 861,519 862,539 862,523 862,514 862,517 862,538 862,519 862,525 862,530 862,517 862,521 863,518 863,536 863,523 863,522 863,525 863,536 863,521 863,526 863,519 863,525 863,524 864,530 864,526 864,521 864,530 864,529 864,539 864,522 864,529 864,523 864,517 865,526 865,526 865,522 865,519 865,522 865,527 865,521 865,523 865,524 865,522 866,522 866,518 866,524 866,517 866,523 866,525 866,528 866,524 866,530 866,523 866,517 867,521 867,522 867,522 867,519 867,522 867,522 867,524 867,523 867,520 867,523 868,518 868,520 868,526 868,525 868,522 868,524 868,524 868,522 868,519 868,518 868,528 869,528 869,525 869,530 869,528 869,525 869,518 869,523 869,522 869,522 869,523 870,529 870,526 870,524 870,517 870,524 870,518 870,518 870,527 870,526 870,516 870,526 871,524 871,525 871,518 871,522 871,529 871,521 871,520 871,516 871,517 871,528 872,524 872,531 872,528 872,521 872,527 872,532 872,520 872,524 872,520 872,525 872,526 873,525 873,524 873,526 873,524 873,529 873,530 873,524 873,525 873,532 873,530 874,522 874,528 874,520 874,519 874,531 874,523 874,519 874,524 874,527 874,521 874,520 875,527 875,519 875,522 875,533 875,520 875,519 875,522 875,518 875,522 875,521 876,533 876,526 876,543 876,523 876,525 876,520 876,522 876,522 876,516 876,529 877,524 877,522 877,522 877,521 877,520 877,527 877,524 877,525 877,519 877,532 877,522 878,521 878,522 878,529 878,526 878,525 878,524 878,521 878,521 878,529 878,529 879,529 879,520 879,530 879,529 879,521 879,524 879,525 879,524 879,529 879,529 879,520 880,523 880,541 880,523 880,524 880,527 880,536 880,518 880,518 880,516 880,526 881,521 881,522 881,525 881,521 881,535 881,528 881,520 881,521 881,522 881,526 881,517 882,524 882,525 882,524 882,521 882,520 882,528 882,518 882,518 882,522 882,521 883,520 883,535 883,522 883,519 883,528 883,524 883,522 883,518 883,523 883,522 883,518 884,523 884,522 884,520 884,523 884,530 884,518 884,529 884,524 884,523 884,519 885,541 885,526 885,534 885,530 885,516 885,525 885,526 885,527 885,519 885,525 885,528 886,531 886,526 886,520 886,515 886,520 886,520 886,522 886,518 886,538 886,530 887,524 887,522 887,526 887,519 887,523 887,526 887,523 887,524 887,521 887,525 888,521 888,520 888,527 888,517 888,525 888,520 888,525 888,527 888,522 888,524 888,534 889,519 889,522 889,529 889,518 889,520 889,524 889,521 889,527 889,524 889,525 890,520 890,517 890,522 890,520 890,531 890,535 890,521 890,530 890,528 890,526 890,521 891,517 891,517 891,524 891,527 891,518 891,531 891,526 891,525 891,525 891,517 892,531 892,529 892,543 892,528 892,523 892,526 892,519 892,526 892,520 892,522 892,528 893,518 893,521 893,528 893,517 893,529 893,536 893,525 893,520 893,535 893,520 894,520 894,521 894,531 894,524 894,526 894,524 894,532 894,517 894,524 894,518 894,517 895,523 895,523 895,526 895,526 895,520 895,527 895,528 895,517 895,524 895,521 896,520 896,520 896,526 896,518 896,517 896,518 896,525 896,521 896,535 896,519 896,523 897,517 897,523 897,516 897,521 897,517 897,522 897,517 897,530 897,524 897,521 898,520 898,522 898,524 898,514 898,521 898,519 898,521 898,523 898,541 898,518 899,525 899,532 899,524 899,521 899,533 899,525 899,517 899,528 899,520 899,520 899,521 900,521 900,518 900,526 900,521 900,522 900,519 900,519 900,522 900,520 900,520 901,525 901,528 901,529 901,521 901,535 901,524 901,526 901,522 901,528 901,522 901,521 902,526 902,523 902,525 902,529 902,524 902,521 902,529 902,522 902,519 902,528 903,522 903,516 903,525 903,521 903,520 903,531 903,521 524,523 426,575 897,517 899,516 901,518 902,515 903,519"/>
</g>
<path d="M139.5 779.5v-9M139.5 64.5v9M207.5 779.5v-9M207.5 64.5v9M276.5 779.5v-9M276.5 64.5v9M344.5 779.5v-9M344.5 64.5v9M413.5 779.5v-9M413.5 64.5v9M482.5 779.5v-9M482.5 64.5v9M550.5 779.5v-9M550.5 64.5v9M619.5 779.5v-9M619.5 64.5v9M687.5 779.5v-9M687.5 64.5v9M756.5 779.5v-9M756.5 64.5v9M824.5 779.5v-9M824.5 64.5v9M893.5 779.5v-9M893.5 64.5v9M129.5 734.5h8M904.5 734.5h-8M129.5 670.5h8M904.5 670.5h-8M129.5 606.5h8M904.5 606.5h-8M129.5 543.5h8M904.5 543.5h-8M129.5 479.5h8M904.5 479.5h-8M129.5 415.5h8M904.5 415.5h-8M129.5 351.5h8M904.5 351.5h-8M129.5 287.5h8M904.5 287.5h-8M129.5 224.5h8M904.5 224.5h-8M129.5 160.5h8M904.5 160.5h-8M129.5 96.5h8M904.5 96.5h-8" stroke="#262626" stroke-width="1" fill="none"/>
<rect x="129.5" y="64.5" width="775.0" height="715.0" fill="none" stroke="#262626" stroke-width="1"/>
<g font-family="'DejaVu Sans', 'Liberation Sans', sans-serif" font-size="20.83" fill="#262626">
<text x="139.0" y="808.1" text-anchor="middle">2003</text>
<text x="207.7" y="808.1" text-anchor="middle">2005</text>
<text x="276.2" y="808.1" text-anchor="middle">2007</text>
<text x="344.8" y="808.1" text-anchor="middle">2009</text>
<text x="413.4" y="808.1" text-anchor="middle">2011</text>
<text x="482.0" y="808.1" text-anchor="middle">2013</text>
<text x="550.6" y="808.1" text-anchor="middle">2015</text>
<text x="619.2" y="808.1" text-anchor="middle">2017</text>
<text x="687.8" y="808.1" text-anchor="middle">2019</text>
<text x="756.4" y="808.1" text-anchor="middle">2021</text>
<text x="825.0" y="808.1" text-anchor="middle">2023</text>
<text x="893.6" y="808.1" text-anchor="middle">2025</text>
<text x="119.4" y="742.0" text-anchor="end">0.06</text>
<text x="119.4" y="678.2" text-anchor="end">0.08</text>
<text x="120.5" y="614.4" text-anchor="end">0.1</text>
<text x="119.4" y="550.6" text-anchor="end">0.12</text>
<text x="119.4" y="486.8" text-anchor="end">0.14</text>
<text x="119.4" y="423.0" text-anchor="end">0.16</text>
<text x="119.4" y="359.2" text-anchor="end">0.18</text>
<text x="120.5" y="295.4" text-anchor="end">0.2</text>
<text x="119.4" y="231.6" text-anchor="end">0.22</text>
<text x="119.4" y="167.8" text-anchor="end">0.24</text>
<text x="119.4" y="104.0" text-anchor="end">0.26</text>
</g>
<text transform="translate(59.5,421.1) rotate(-90)" text-anchor="middle" font-family="'DejaVu Sans', 'Liberation Sans', sans-serif" font-size="23.2" fill="#262626">Noise Equivalent Delta Temperature (K)</text>
<g font-family="'DejaVu Sans', 'Liberation Sans', sans-serif" font-size="22.92" font-weight="bold" fill="#000" text-anchor="middle">
<text x="516.5" y="22.6">AIRS Channel 1264 NEdT (@250K)</text>
<text x="516.5" y="53.5">[M-04d, 1217.481 cm-1]</text>
</g>
<rect x="937.5" y="64.5" width="138" height="86" fill="#fff" stroke="#262626" stroke-width="1"/>
<path d="M973.1 77.1l8.8 8.8m0-8.8l-8.8 8.8" stroke="#2ddc2d" stroke-width="1" fill="none"/>
<path d="M971 107.5h13m-6.5-6.5v13" stroke="#d81414" stroke-width="1" fill="none"/>
<circle cx="977.5" cy="133.5" r="6.4" stroke="#1c1cb4" stroke-width="1" fill="none"/>
<g font-family="'DejaVu Sans', 'Liberation Sans', sans-serif" font-size="18.75" fill="#000">
<text x="1015" y="88.2">Mean</text><text x="1015" y="114.2">Max</text><text x="1015" y="140.2">Min</text></g>
<g id="logo">
<circle cx="935.9" cy="25.8" r="20.8" fill="#1b3f9f"/>
<g fill="#fff" opacity="0.85"><circle cx="926" cy="13.5" r="0.6"/><circle cx="931" cy="11.2" r="0.5"/><circle cx="940.5" cy="9.5" r="0.6"/><circle cx="929.5" cy="16" r="0.5"/><circle cx="921" cy="35.5" r="0.6"/><circle cx="923.5" cy="38" r="0.5"/><circle cx="928.5" cy="41" r="0.5"/><circle cx="947.5" cy="33" r="0.5"/><circle cx="951.5" cy="35.5" r="0.6"/><circle cx="946" cy="38" r="0.5"/><circle cx="950" cy="39" r="0.5"/><circle cx="937" cy="33.5" r="0.5"/></g>
<path d="M931.5 12.6C936 16 940 19.5 943 22.5M930.8 29C932 31.5 934 33.5 936.5 35M925.5 13.2C924.5 16 925 20 926.5 23" stroke="#fff" stroke-width="0.6" fill="none" opacity="0.8"/>
<path d="M963.5 8.1C960 11 956 14.3 953 16.2C950 18 945 19.8 941 21C935 23.2 925 29 913.4 31.7C922 31.2 932 28.7 938 26.2C942 24.5 947 23.2 950.8 21.6C955 19.6 959 15 963.5 8.1Z" fill="#e8392b"/>
<text x="936.8" y="29.7" text-anchor="middle" font-family="'Liberation Serif', serif" font-weight="bold" font-size="12" fill="#fff" textLength="36.6" lengthAdjust="spacingAndGlyphs">NASA</text>
</g>
<text x="966" y="24.4" font-family="'Liberation Sans', sans-serif" font-weight="bold" font-size="13" letter-spacing="0.5" fill="#000">Jet Propulsion Laboratory</text>
<text x="966.6" y="38" font-family="'Liberation Sans', sans-serif" font-size="11" letter-spacing="0.44" fill="#000">California Institute of Technology</text>

</svg>
</body></html>
